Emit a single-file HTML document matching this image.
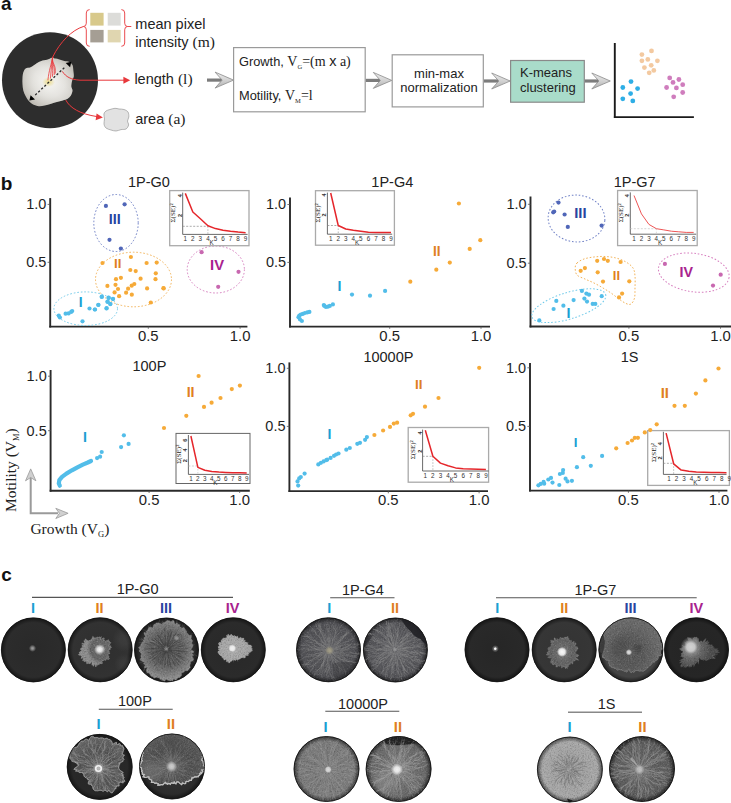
<!DOCTYPE html>
<html><head><meta charset="utf-8"><style>html,body{margin:0;padding:0;background:#fff;}svg{display:block;}</style></head>
<body><svg width="731" height="803" viewBox="0 0 731 803"><defs><filter id="grainL" x="0" y="0" width="1" height="1" filterUnits="objectBoundingBox"><feTurbulence type="fractalNoise" baseFrequency="0.7" numOctaves="2" seed="4"/><feColorMatrix type="matrix" values="0 0 0 0 1  0 0 0 0 1  0 0 0 0 1  2.2 0 0 0 -1.1"/></filter>
<filter id="grainD" x="0" y="0" width="1" height="1" filterUnits="objectBoundingBox"><feTurbulence type="fractalNoise" baseFrequency="0.7" numOctaves="2" seed="9"/><feColorMatrix type="matrix" values="0 0 0 0 0  0 0 0 0 0  0 0 0 0 0  2.2 0 0 0 -1.1"/></filter>
<linearGradient id="gArr" x1="0" y1="0" x2="0" y2="1"><stop offset="0" stop-color="#eeeeee"/><stop offset="0.5" stop-color="#d2d2d2"/><stop offset="1" stop-color="#b0b0b0"/></linearGradient>
<radialGradient id="gBlob" cx="0.52" cy="0.5" r="0.62"><stop offset="0" stop-color="#f0efea"/><stop offset="0.5" stop-color="#d8d6d0"/><stop offset="1" stop-color="#aeaaa1"/></radialGradient>
<linearGradient id="gBlob2" x1="0" y1="1" x2="1" y2="0"><stop offset="0" stop-color="#fff" stop-opacity="0"/><stop offset="0.45" stop-color="#fff" stop-opacity="0.35"/><stop offset="0.6" stop-color="#fff" stop-opacity="0.35"/><stop offset="1" stop-color="#fff" stop-opacity="0"/></linearGradient>
<radialGradient id="gYel"><stop offset="0" stop-color="#e9d77a" stop-opacity="0.9"/><stop offset="1" stop-color="#e9d77a" stop-opacity="0"/></radialGradient>
<clipPath id="cp1"><circle cx="33.4" cy="649.9" r="32.3"/></clipPath>
<radialGradient id="pd1" cx="33.4" cy="649.9" r="32.5" gradientUnits="userSpaceOnUse"><stop offset="0" stop-color="#292929"/><stop offset="0.84" stop-color="#2c2c2c"/><stop offset="1" stop-color="#141414"/></radialGradient>
<radialGradient id="ps1_1"><stop offset="0" stop-color="#b0b0b0" stop-opacity="0.85"/><stop offset="0.3" stop-color="#b0b0b0" stop-opacity="0.7224999999999999"/><stop offset="1" stop-color="#b0b0b0" stop-opacity="0"/></radialGradient>
<clipPath id="cp2"><circle cx="100.2" cy="649.8" r="32.3"/></clipPath>
<radialGradient id="pd2" cx="100.2" cy="649.8" r="32.5" gradientUnits="userSpaceOnUse"><stop offset="0" stop-color="#2e2e2e"/><stop offset="0.84" stop-color="#323232"/><stop offset="1" stop-color="#161616"/></radialGradient>
<radialGradient id="ps2_1"><stop offset="0" stop-color="#484848" stop-opacity="0.45"/><stop offset="0.4" stop-color="#484848" stop-opacity="0.3825"/><stop offset="1" stop-color="#484848" stop-opacity="0"/></radialGradient>
<radialGradient id="ps2_2"><stop offset="0" stop-color="#484848" stop-opacity="0.4"/><stop offset="0.4" stop-color="#484848" stop-opacity="0.34"/><stop offset="1" stop-color="#484848" stop-opacity="0"/></radialGradient>
<radialGradient id="cg2_3" cx="102.2" cy="648.8" r="16" gradientUnits="userSpaceOnUse"><stop offset="0" stop-color="#9a9a9a"/><stop offset="0.25" stop-color="#6a6a6a"/><stop offset="0.7" stop-color="#646464"/><stop offset="1" stop-color="#8c8c8c"/></radialGradient>
<clipPath id="cc2_3"><path d="M89.1,641.5 L89.0,640.4 L89.5,640.5 L90.0,640.7 L90.2,640.2 L90.6,640.0 L91.1,640.3 L91.3,639.4 L91.7,639.1 L92.1,638.5 L92.4,637.5 L92.8,636.4 L93.4,636.9 L93.9,637.3 L94.4,638.1 L94.9,637.9 L95.4,637.7 L95.8,638.5 L96.2,638.6 L96.8,637.2 L97.4,636.9 L97.7,637.5 L98.1,638.0 L98.8,637.1 L99.4,636.8 L99.7,637.5 L100.2,637.7 L101.2,636.6 L101.1,638.0 L100.7,639.7 L101.3,639.6 L102.2,638.7 L103.2,638.0 L103.8,638.0 L104.3,638.1 L103.6,639.8 L103.4,640.6 L104.4,640.1 L104.7,640.2 L104.7,640.8 L104.9,641.1 L105.3,641.2 L106.0,641.0 L107.5,640.3 L108.7,639.8 L108.8,640.3 L108.3,641.2 L108.6,641.5 L109.5,641.5 L109.3,642.1 L110.1,642.1 L110.1,642.7 L110.9,642.7 L109.9,643.8 L109.9,644.3 L108.8,645.2 L108.6,645.7 L109.5,645.8 L110.6,645.8 L110.0,646.4 L110.7,646.6 L111.2,647.0 L111.6,647.3 L110.6,648.0 L109.1,648.7 L110.4,648.9 L110.2,649.4 L109.1,650.0 L107.6,650.5 L108.8,650.9 L109.2,651.3 L109.1,651.8 L108.6,652.2 L109.4,652.7 L110.1,653.3 L109.4,653.7 L108.4,654.0 L107.9,654.4 L108.1,654.9 L108.0,655.3 L108.7,656.0 L109.0,656.6 L107.8,656.6 L108.0,657.2 L109.5,658.4 L109.0,658.8 L108.9,659.3 L107.5,659.2 L106.0,658.9 L105.6,659.2 L106.1,660.1 L105.5,660.3 L104.4,660.0 L103.9,660.1 L103.6,660.5 L103.2,660.7 L102.7,660.8 L102.4,661.1 L102.1,661.3 L101.9,661.7 L102.5,663.3 L102.0,663.3 L101.6,663.4 L101.3,663.8 L100.7,663.5 L100.4,664.0 L99.4,662.7 L99.3,663.7 L99.2,664.5 L98.7,664.6 L98.2,664.2 L97.7,664.0 L97.4,664.8 L97.1,665.5 L96.5,664.4 L96.2,665.5 L95.9,667.0 L95.4,665.6 L94.9,664.2 L94.5,663.6 L94.2,665.1 L93.8,665.1 L93.4,666.2 L93.1,666.2 L92.9,664.5 L92.6,664.5 L92.1,665.2 L91.9,664.9 L92.0,663.0 L91.9,662.1 L91.7,661.7 L91.5,661.6 L90.9,662.8 L90.4,663.2 L89.9,663.8 L89.6,663.7 L89.3,663.5 L89.0,663.5 L88.7,663.2 L88.2,663.5 L87.8,663.6 L87.3,663.6 L86.8,663.8 L86.6,663.3 L86.5,662.7 L87.3,661.1 L86.5,661.6 L85.8,661.8 L85.9,661.1 L85.5,661.0 L84.3,661.7 L84.0,661.4 L84.0,660.9 L84.6,660.0 L83.5,660.4 L82.6,660.6 L82.6,660.2 L83.5,659.1 L83.3,658.8 L82.8,658.8 L83.9,657.8 L83.6,657.6 L82.4,658.0 L80.9,658.4 L81.7,657.7 L81.1,657.5 L82.7,656.5 L82.3,656.4 L81.6,656.3 L81.3,656.1 L80.9,655.9 L81.7,655.4 L80.9,655.3 L79.8,655.2 L78.7,655.1 L78.5,654.8 L78.5,654.4 L79.6,653.9 L80.0,653.5 L79.4,653.2 L79.8,652.8 L79.1,652.5 L79.3,652.2 L80.1,651.8 L80.5,651.5 L80.8,651.1 L81.9,650.8 L82.6,650.6 L81.0,650.1 L80.6,649.7 L80.5,649.3 L80.9,649.0 L80.6,648.5 L81.0,648.2 L81.6,648.0 L82.3,647.8 L82.1,647.4 L81.8,646.9 L82.1,646.6 L83.3,646.7 L83.0,646.2 L81.7,645.1 L83.0,645.3 L83.6,645.2 L82.8,644.3 L81.8,643.1 L82.7,643.2 L83.8,643.4 L84.7,643.6 L84.7,643.0 L84.6,642.4 L83.9,641.0 L84.0,640.4 L85.4,641.3 L85.4,640.5 L85.0,639.1 L85.6,639.1 L86.9,640.2 L87.8,640.7 L88.3,640.8Z"/></clipPath>
<radialGradient id="ps2_4"><stop offset="0" stop-color="#f2f2f2" stop-opacity="1"/><stop offset="0.4" stop-color="#f2f2f2" stop-opacity="0.85"/><stop offset="1" stop-color="#f2f2f2" stop-opacity="0"/></radialGradient>
<clipPath id="cp3"><circle cx="166.5" cy="650" r="32.3"/></clipPath>
<radialGradient id="pd3" cx="166.5" cy="650" r="32.5" gradientUnits="userSpaceOnUse"><stop offset="0" stop-color="#2c2c2c"/><stop offset="0.84" stop-color="#2e2e2e"/><stop offset="1" stop-color="#161616"/></radialGradient>
<radialGradient id="cg3_1" cx="166.5" cy="649" r="29" gradientUnits="userSpaceOnUse"><stop offset="0" stop-color="#909090"/><stop offset="0.1" stop-color="#5c5c5c"/><stop offset="0.5" stop-color="#585858"/><stop offset="0.8" stop-color="#747474"/><stop offset="1" stop-color="#8c8c8c"/></radialGradient>
<clipPath id="cc3_1"><path d="M193.1,651.0 L193.9,651.9 L193.1,652.7 L191.1,653.3 L192.6,654.3 L193.6,655.3 L191.8,655.9 L192.3,656.8 L193.1,657.9 L193.3,658.8 L193.5,659.8 L193.0,660.5 L192.1,661.1 L190.7,661.4 L190.2,662.1 L190.5,663.1 L190.3,664.0 L189.9,664.7 L189.7,665.5 L190.0,666.7 L190.2,667.9 L189.2,668.2 L188.8,668.9 L188.4,669.7 L188.0,670.4 L187.1,670.7 L185.8,670.5 L184.9,670.7 L184.3,671.2 L184.0,672.0 L183.2,672.2 L182.4,672.4 L181.9,673.0 L181.4,673.5 L181.3,674.8 L181.2,676.1 L180.4,676.3 L180.1,677.3 L179.2,677.5 L178.4,677.5 L177.8,678.1 L177.2,678.5 L176.7,679.6 L176.3,680.9 L175.2,680.2 L174.1,678.8 L173.4,679.0 L172.9,680.4 L172.3,681.3 L171.3,680.1 L170.6,680.9 L169.8,680.8 L169.1,680.5 L168.3,680.3 L167.5,680.1 L166.8,679.6 L166.1,679.1 L165.3,680.2 L164.5,681.5 L163.8,680.6 L163.0,680.4 L162.3,680.2 L161.7,679.3 L161.0,678.9 L160.1,679.6 L159.7,678.1 L159.1,677.7 L158.3,677.7 L157.6,677.5 L156.9,677.2 L156.1,677.2 L155.0,677.8 L154.1,678.0 L153.5,677.4 L153.1,676.5 L152.1,676.6 L151.4,676.2 L150.8,675.7 L150.4,674.9 L150.0,674.1 L149.3,673.6 L148.9,672.8 L147.8,673.0 L147.1,672.5 L146.8,671.6 L146.3,670.9 L146.6,669.5 L147.6,667.6 L147.2,667.0 L145.0,667.7 L144.2,667.3 L145.2,665.6 L145.4,664.6 L144.3,664.3 L143.5,663.8 L145.0,662.2 L143.4,662.1 L142.8,661.5 L142.1,660.9 L140.8,660.5 L140.2,659.8 L140.6,658.7 L141.4,657.6 L140.9,656.9 L141.1,656.0 L140.9,655.2 L141.6,654.2 L141.3,653.5 L140.7,652.7 L139.9,651.9 L139.1,651.0 L139.7,650.1 L139.9,649.3 L139.2,648.3 L138.6,647.4 L139.9,646.7 L140.7,645.9 L140.7,645.1 L141.1,644.3 L141.6,643.6 L141.9,642.8 L143.0,642.3 L143.2,641.6 L143.6,640.9 L143.5,639.9 L144.1,639.4 L144.0,638.4 L144.2,637.6 L145.1,637.3 L145.4,636.5 L144.8,635.1 L144.2,633.7 L144.1,632.5 L145.9,632.9 L147.0,632.8 L146.4,631.1 L147.1,630.7 L147.8,630.3 L148.0,629.3 L148.4,628.5 L148.8,627.6 L149.6,627.5 L150.6,627.4 L151.5,627.4 L152.7,627.9 L153.2,627.3 L153.4,626.0 L153.7,624.9 L154.2,624.3 L155.1,624.4 L155.7,623.7 L156.2,623.0 L157.1,622.9 L157.9,623.1 L158.7,622.9 L159.6,623.4 L160.4,623.6 L161.3,624.6 L162.0,624.2 L162.6,623.5 L163.2,622.6 L163.9,622.9 L164.6,622.3 L165.3,622.0 L166.0,621.4 L166.8,621.1 L167.6,620.2 L168.3,620.8 L169.1,620.8 L169.9,621.0 L170.5,622.0 L171.4,621.4 L172.3,620.7 L173.1,620.6 L173.9,620.9 L174.3,622.4 L174.6,624.0 L175.2,624.5 L176.5,623.0 L177.3,623.1 L177.6,624.4 L178.4,624.6 L179.3,624.5 L179.8,625.2 L179.4,627.5 L180.4,627.3 L181.1,627.6 L181.6,628.1 L182.5,628.1 L183.9,627.5 L184.5,628.1 L184.3,629.6 L185.4,629.6 L185.4,630.8 L186.3,630.9 L186.5,631.8 L186.3,633.2 L186.9,633.6 L187.9,633.8 L188.3,634.5 L188.7,635.2 L189.7,635.5 L191.4,635.4 L191.3,636.5 L191.2,637.5 L191.0,638.6 L191.4,639.4 L191.9,640.0 L192.6,640.7 L192.1,641.8 L191.5,642.9 L191.5,643.7 L192.4,644.3 L192.7,645.1 L192.7,646.0 L192.6,646.8 L192.1,647.7 L191.6,648.6 L191.0,649.4 L191.5,650.2Z"/></clipPath>
<radialGradient id="ps3_4"><stop offset="0" stop-color="#b0b0b0" stop-opacity="0.7"/><stop offset="0.4" stop-color="#b0b0b0" stop-opacity="0.595"/><stop offset="1" stop-color="#b0b0b0" stop-opacity="0"/></radialGradient>
<clipPath id="cp4"><circle cx="233.3" cy="649.8" r="32.3"/></clipPath>
<radialGradient id="pd4" cx="233.3" cy="649.8" r="32.5" gradientUnits="userSpaceOnUse"><stop offset="0" stop-color="#282828"/><stop offset="0.84" stop-color="#2b2b2b"/><stop offset="1" stop-color="#141414"/></radialGradient>
<radialGradient id="cg4_1" cx="232.3" cy="648.8" r="18" gradientUnits="userSpaceOnUse"><stop offset="0" stop-color="#d4d4d4"/><stop offset="0.3" stop-color="#b0b0b0"/><stop offset="1" stop-color="#a0a0a0"/></radialGradient>
<clipPath id="cc4_1"><path d="M222.4,638.7 L223.0,638.7 L223.4,638.6 L223.3,637.9 L224.1,638.2 L224.4,638.1 L225.1,638.3 L225.8,638.6 L225.6,637.8 L226.2,638.0 L226.2,637.5 L226.8,637.8 L227.0,637.5 L226.7,636.3 L226.6,635.3 L227.0,635.3 L227.6,635.7 L228.2,636.0 L227.8,634.3 L228.2,634.1 L228.9,634.9 L229.6,635.9 L229.8,635.4 L230.2,635.3 L230.5,635.2 L230.8,634.8 L231.0,634.0 L231.5,634.5 L231.9,635.0 L232.3,635.3 L232.7,635.7 L233.1,636.0 L233.5,635.9 L233.8,635.8 L234.2,635.8 L234.6,635.6 L235.0,635.9 L235.3,636.3 L235.8,636.1 L236.1,636.7 L236.5,636.8 L236.9,636.8 L237.5,636.1 L237.8,636.8 L238.0,637.5 L238.3,637.9 L238.5,638.4 L238.9,638.5 L239.8,637.7 L240.5,637.4 L241.1,637.4 L241.0,638.3 L241.7,638.2 L241.9,638.6 L243.1,638.0 L243.5,638.3 L244.0,638.5 L243.8,639.4 L243.2,640.6 L244.2,640.4 L245.3,640.2 L244.9,641.1 L244.4,642.0 L245.2,642.0 L246.3,642.0 L246.4,642.5 L247.0,642.8 L248.2,642.8 L247.8,643.4 L247.5,644.0 L247.8,644.3 L248.1,644.7 L248.8,644.9 L249.8,645.1 L250.9,645.3 L251.0,645.7 L251.8,646.0 L252.1,646.3 L251.3,646.8 L250.9,647.1 L251.5,647.4 L251.1,647.7 L251.5,648.0 L252.4,648.3 L252.1,648.6 L251.3,648.9 L251.8,649.2 L252.0,649.5 L252.3,649.8 L252.1,650.1 L252.4,650.5 L252.0,650.7 L252.2,651.1 L251.3,651.3 L251.0,651.6 L250.6,651.8 L250.5,652.1 L250.1,652.4 L249.0,652.4 L247.7,652.4 L247.4,652.6 L248.7,653.3 L249.3,653.9 L248.2,653.9 L247.4,653.9 L248.4,654.8 L248.4,655.2 L247.9,655.4 L247.3,655.5 L246.6,655.6 L245.8,655.6 L245.4,655.9 L245.3,656.4 L245.5,657.2 L245.1,657.5 L244.7,658.0 L243.6,657.8 L242.5,657.6 L242.1,658.0 L241.0,657.7 L240.6,658.1 L240.3,658.9 L239.6,659.0 L239.1,659.3 L238.3,659.3 L238.0,660.1 L237.2,660.0 L236.4,659.3 L235.9,659.9 L235.5,660.5 L234.8,659.9 L234.3,659.9 L233.9,660.4 L233.4,660.0 L233.0,660.0 L232.6,660.1 L232.2,660.5 L231.8,660.9 L231.3,661.4 L231.0,661.2 L230.7,661.3 L230.3,661.8 L229.7,662.8 L229.3,662.8 L228.9,663.1 L229.2,661.5 L228.8,661.8 L228.2,662.6 L228.0,662.6 L228.4,660.9 L227.9,661.5 L227.6,661.5 L227.5,661.2 L227.2,661.3 L226.7,661.7 L226.5,661.4 L226.3,661.3 L226.5,660.5 L226.4,660.1 L226.4,659.6 L225.8,659.9 L225.7,659.6 L225.3,659.6 L224.6,659.9 L223.9,660.1 L223.9,659.5 L224.0,658.7 L223.4,658.8 L223.2,658.3 L223.2,657.7 L222.5,657.7 L221.9,657.5 L222.0,656.8 L221.8,656.3 L221.2,656.1 L220.9,655.7 L220.3,655.4 L219.9,655.0 L219.3,654.7 L219.1,654.2 L218.8,653.7 L218.4,653.3 L218.4,652.8 L217.8,652.4 L217.9,651.9 L218.1,651.3 L219.7,650.6 L219.8,650.2 L219.1,649.9 L218.1,649.6 L219.3,649.2 L220.2,648.8 L219.3,648.4 L218.0,648.0 L218.5,647.6 L218.2,647.1 L218.2,646.7 L218.5,646.3 L219.9,646.0 L219.4,645.5 L218.9,645.0 L218.8,644.4 L218.5,643.9 L218.5,643.3 L218.9,643.0 L219.1,642.5 L220.3,642.5 L221.2,642.4 L221.1,641.8 L221.0,641.3 L221.4,641.0 L221.2,640.4 L221.5,640.0 L221.7,639.7 L222.3,639.6 L222.6,639.3Z"/></clipPath>
<radialGradient id="ps4_3"><stop offset="0" stop-color="#f0f0f0" stop-opacity="1"/><stop offset="0.6" stop-color="#f0f0f0" stop-opacity="0.85"/><stop offset="1" stop-color="#f0f0f0" stop-opacity="0"/></radialGradient>
<clipPath id="cp5"><circle cx="328.5" cy="649.8" r="32.3"/></clipPath>
<radialGradient id="pd5" cx="328.5" cy="649.8" r="32.5" gradientUnits="userSpaceOnUse"><stop offset="0" stop-color="#5a5a5e"/><stop offset="0.84" stop-color="#505054"/><stop offset="1" stop-color="#1c1c1e"/></radialGradient>
<radialGradient id="ps5_4"><stop offset="0" stop-color="#aaa48a" stop-opacity="0.9"/><stop offset="0.4" stop-color="#aaa48a" stop-opacity="0.765"/><stop offset="1" stop-color="#aaa48a" stop-opacity="0"/></radialGradient>
<clipPath id="cp6"><circle cx="395.4" cy="650" r="32.3"/></clipPath>
<radialGradient id="pd6" cx="395.4" cy="650" r="32.5" gradientUnits="userSpaceOnUse"><stop offset="0" stop-color="#5e5e62"/><stop offset="0.84" stop-color="#545458"/><stop offset="1" stop-color="#1c1c1e"/></radialGradient>
<radialGradient id="ps6_5"><stop offset="0" stop-color="#b0b0b0" stop-opacity="0.7"/><stop offset="0.4" stop-color="#b0b0b0" stop-opacity="0.595"/><stop offset="1" stop-color="#b0b0b0" stop-opacity="0"/></radialGradient>
<clipPath id="cp7"><circle cx="497" cy="649.8" r="32.3"/></clipPath>
<radialGradient id="pd7" cx="497" cy="649.8" r="32.5" gradientUnits="userSpaceOnUse"><stop offset="0" stop-color="#262626"/><stop offset="0.84" stop-color="#292929"/><stop offset="1" stop-color="#121212"/></radialGradient>
<radialGradient id="ps7_1"><stop offset="0" stop-color="#9a9a9a" stop-opacity="0.8"/><stop offset="0.4" stop-color="#9a9a9a" stop-opacity="0.68"/><stop offset="1" stop-color="#9a9a9a" stop-opacity="0"/></radialGradient>
<radialGradient id="ps7_2"><stop offset="0" stop-color="#ffffff" stop-opacity="1"/><stop offset="0.6" stop-color="#ffffff" stop-opacity="0.85"/><stop offset="1" stop-color="#ffffff" stop-opacity="0"/></radialGradient>
<clipPath id="cp8"><circle cx="564.2" cy="649.8" r="32.3"/></clipPath>
<radialGradient id="pd8" cx="564.2" cy="649.8" r="32.5" gradientUnits="userSpaceOnUse"><stop offset="0" stop-color="#333333"/><stop offset="0.84" stop-color="#363636"/><stop offset="1" stop-color="#181818"/></radialGradient>
<radialGradient id="cg8_1" cx="562.7" cy="652.3" r="16" gradientUnits="userSpaceOnUse"><stop offset="0" stop-color="#9a9a9a"/><stop offset="0.35" stop-color="#6e6e6e"/><stop offset="0.75" stop-color="#606060"/><stop offset="1" stop-color="#747474"/></radialGradient>
<clipPath id="cc8_1"><path d="M575.5,652.3 L574.0,652.6 L574.9,653.0 L575.7,653.4 L576.3,653.9 L577.0,654.4 L578.7,655.1 L578.8,655.6 L577.3,655.8 L577.6,656.3 L578.1,656.9 L576.1,656.7 L575.9,657.1 L575.2,657.3 L577.0,658.5 L578.2,659.5 L578.7,660.3 L576.6,659.8 L574.8,659.3 L574.6,659.6 L575.3,660.5 L575.0,660.9 L574.0,660.7 L574.1,661.2 L573.0,660.9 L572.7,661.1 L573.0,662.0 L572.9,662.4 L572.9,663.1 L573.0,663.7 L572.5,663.9 L571.4,663.1 L570.8,663.0 L570.5,663.3 L570.2,663.5 L570.3,664.4 L569.5,663.8 L569.5,664.6 L569.0,664.5 L568.8,665.0 L568.3,664.9 L568.5,666.4 L568.2,666.7 L567.6,666.3 L567.3,666.6 L567.4,668.6 L566.8,668.1 L566.2,667.8 L565.9,668.6 L565.5,668.6 L564.8,667.0 L564.3,666.9 L563.9,667.0 L563.5,667.0 L563.1,666.2 L562.7,666.2 L562.3,667.7 L561.8,668.1 L561.4,667.8 L561.1,666.2 L561.1,663.3 L560.6,664.9 L559.9,666.3 L559.5,666.4 L559.3,665.5 L558.8,665.7 L558.3,666.1 L557.7,666.6 L557.1,667.1 L556.7,666.7 L556.0,667.3 L555.9,666.4 L556.1,665.1 L555.9,664.6 L555.4,664.7 L555.2,664.2 L554.9,663.9 L553.9,664.7 L553.1,665.0 L552.9,664.5 L552.4,664.4 L552.3,663.9 L552.1,663.4 L551.7,663.2 L551.5,662.8 L550.5,663.1 L551.3,661.8 L551.3,661.3 L550.3,661.5 L551.2,660.3 L552.3,659.1 L550.9,659.6 L551.8,658.6 L552.6,657.8 L551.7,657.8 L550.2,658.1 L549.2,658.1 L549.8,657.4 L548.5,657.5 L547.6,657.3 L549.2,656.4 L549.9,655.7 L550.5,655.2 L548.6,655.2 L546.6,655.1 L546.1,654.7 L547.5,654.1 L547.7,653.6 L547.1,653.2 L546.9,652.8 L547.2,652.3 L548.5,651.9 L547.8,651.4 L548.7,651.1 L548.7,650.7 L548.7,650.2 L548.8,649.8 L547.8,649.2 L547.9,648.8 L548.0,648.4 L548.3,648.0 L548.4,647.6 L549.5,647.5 L550.0,647.2 L549.8,646.7 L551.2,647.0 L551.0,646.4 L550.7,645.8 L551.1,645.6 L552.4,645.9 L551.1,644.7 L550.8,644.0 L552.1,644.4 L552.2,644.0 L550.6,642.2 L550.7,641.7 L551.6,641.9 L550.7,640.4 L550.9,639.9 L552.4,640.9 L552.6,640.3 L553.4,640.7 L554.1,640.9 L554.1,640.2 L554.4,639.9 L554.2,638.8 L554.2,637.9 L554.7,637.8 L556.0,639.4 L557.7,641.9 L557.1,639.7 L557.0,638.5 L557.7,639.2 L558.3,639.7 L558.6,639.5 L559.0,639.5 L559.4,639.4 L559.6,638.8 L559.9,638.1 L560.2,637.3 L560.6,637.7 L561.0,637.5 L561.5,638.1 L561.9,638.2 L562.3,637.8 L562.7,638.0 L563.1,638.7 L563.5,638.8 L563.9,637.7 L564.4,637.0 L564.8,637.3 L565.3,637.1 L565.6,637.6 L566.2,636.9 L566.6,637.2 L566.9,637.6 L567.8,636.3 L568.0,637.1 L568.2,637.9 L568.2,639.1 L568.9,638.4 L568.9,639.5 L568.6,640.9 L569.2,640.5 L570.0,639.9 L569.9,640.9 L570.5,640.7 L571.3,640.2 L571.4,640.7 L571.5,641.3 L571.4,642.1 L570.5,643.6 L571.7,642.8 L573.6,641.5 L574.2,641.5 L574.2,642.1 L573.7,643.2 L574.4,643.1 L575.5,642.8 L575.6,643.3 L576.1,643.5 L576.3,643.9 L575.5,644.9 L575.1,645.6 L574.8,646.2 L575.4,646.4 L575.7,646.7 L576.9,646.7 L577.6,646.9 L577.3,647.5 L577.6,647.8 L578.0,648.2 L578.0,648.7 L577.6,649.2 L576.5,649.9 L576.8,650.2 L577.1,650.6 L576.0,651.1 L575.8,651.5 L576.3,651.9Z"/></clipPath>
<radialGradient id="ps8_2"><stop offset="0" stop-color="#f8f8f8" stop-opacity="1"/><stop offset="0.6" stop-color="#f8f8f8" stop-opacity="0.85"/><stop offset="1" stop-color="#f8f8f8" stop-opacity="0"/></radialGradient>
<clipPath id="cp9"><circle cx="630.9" cy="649.8" r="32.3"/></clipPath>
<radialGradient id="pd9" cx="630.9" cy="649.8" r="32.5" gradientUnits="userSpaceOnUse"><stop offset="0" stop-color="#444444"/><stop offset="0.84" stop-color="#444444"/><stop offset="1" stop-color="#1c1c1c"/></radialGradient>
<radialGradient id="cg9_1" cx="627.9" cy="652.8" r="30" gradientUnits="userSpaceOnUse"><stop offset="0" stop-color="#505050"/><stop offset="0.5" stop-color="#5a5a5a"/><stop offset="1" stop-color="#6a6a6a"/></radialGradient>
<clipPath id="cc9_1"><path d="M662.7,644.8 L661.9,645.6 L662.4,646.4 L662.6,647.2 L662.7,648.0 L663.3,648.9 L661.7,649.4 L661.0,650.1 L660.7,650.8 L660.4,651.6 L660.5,652.4 L659.9,653.0 L661.2,654.2 L661.5,655.2 L660.6,655.7 L658.7,655.9 L658.1,656.4 L658.3,657.4 L658.4,658.3 L657.6,658.8 L657.5,659.7 L656.7,660.2 L655.6,660.4 L655.0,661.0 L654.8,661.8 L654.2,662.4 L652.2,661.8 L652.1,662.7 L652.1,663.8 L651.4,664.2 L650.8,664.8 L650.4,665.5 L649.5,665.9 L648.7,666.1 L648.1,666.7 L648.0,667.9 L646.9,667.9 L646.2,668.5 L645.9,669.6 L645.3,670.2 L644.4,670.6 L643.7,671.1 L642.8,671.3 L641.6,671.0 L640.7,671.1 L639.8,671.2 L638.8,670.9 L637.8,670.5 L636.9,670.7 L635.9,670.0 L635.2,670.9 L634.5,671.9 L633.6,672.5 L632.6,671.4 L631.8,672.5 L630.9,672.7 L630.0,671.4 L629.3,669.5 L628.5,669.4 L627.4,671.6 L626.4,672.2 L625.7,671.1 L624.7,671.4 L623.9,671.1 L623.1,670.5 L622.3,670.4 L621.5,669.9 L620.6,669.9 L619.9,669.4 L618.8,669.7 L617.6,670.2 L616.8,669.7 L616.3,668.9 L615.5,668.5 L614.5,668.5 L614.0,667.8 L612.9,667.7 L611.9,667.6 L611.1,667.1 L611.1,665.9 L609.7,666.1 L609.5,665.1 L609.4,664.0 L608.7,663.5 L608.5,662.7 L608.8,661.5 L608.9,660.4 L607.7,660.4 L606.5,660.2 L605.7,659.8 L605.3,659.1 L604.9,658.4 L604.2,657.9 L602.9,657.7 L602.2,657.1 L602.6,656.0 L602.0,655.4 L601.7,654.7 L602.4,653.6 L602.4,652.9 L601.4,652.3 L600.2,651.8 L599.5,651.2 L599.3,650.4 L600.8,649.3 L600.4,648.6 L599.5,647.9 L599.8,647.1 L599.2,646.4 L599.2,645.6 L599.4,644.8 L600.1,644.0 L599.5,643.2 L599.4,642.4 L599.9,641.7 L600.8,641.0 L600.6,640.2 L600.7,639.5 L601.4,638.8 L601.3,638.0 L601.3,637.2 L602.4,636.7 L603.1,636.2 L603.4,635.5 L603.2,634.6 L604.1,634.1 L603.9,633.2 L603.8,632.3 L603.9,631.5 L603.6,630.5 L603.2,629.3 L604.5,629.1 L605.4,628.7 L606.0,628.0 L606.4,627.3 L606.5,626.4 L607.5,626.1 L608.8,626.1 L609.8,625.9 L610.2,625.2 L611.0,624.8 L611.5,624.1 L611.9,623.3 L611.8,622.0 L612.5,621.3 L613.7,621.5 L615.5,622.5 L616.6,622.7 L616.5,621.1 L616.9,620.0 L618.1,620.4 L619.1,620.4 L620.0,620.3 L620.6,619.6 L621.5,619.7 L622.1,618.7 L623.0,618.8 L624.1,619.3 L625.0,619.4 L625.5,617.7 L626.5,617.9 L627.4,618.4 L628.2,617.5 L629.1,617.8 L630.0,618.3 L630.9,617.0 L631.8,617.2 L632.7,617.1 L633.6,617.0 L634.6,616.4 L635.5,616.7 L636.4,616.9 L637.3,617.5 L638.1,618.0 L638.8,618.8 L639.5,619.4 L640.1,620.2 L641.0,620.2 L642.0,620.0 L642.6,620.7 L643.1,621.5 L644.2,621.2 L645.6,620.6 L646.2,621.1 L646.8,621.9 L647.6,622.1 L648.9,621.9 L648.5,623.7 L648.6,624.9 L649.8,624.7 L651.5,624.1 L652.5,624.3 L652.9,625.1 L653.3,625.8 L653.8,626.5 L654.3,627.2 L654.3,628.1 L655.5,628.3 L656.3,628.7 L657.1,629.2 L657.2,630.1 L658.5,630.3 L658.6,631.2 L659.0,631.9 L658.5,633.0 L659.4,633.5 L659.9,634.1 L659.9,635.0 L660.4,635.6 L661.3,636.2 L660.5,637.2 L660.7,638.0 L660.6,638.8 L660.4,639.6 L659.9,640.4 L659.3,641.2 L660.5,641.8 L659.9,642.6 L661.6,643.3 L662.2,644.0Z"/></clipPath>
<radialGradient id="ps9_2"><stop offset="0" stop-color="#454545" stop-opacity="0.5"/><stop offset="0.4" stop-color="#454545" stop-opacity="0.425"/><stop offset="1" stop-color="#454545" stop-opacity="0"/></radialGradient>
<radialGradient id="ps9_3"><stop offset="0" stop-color="#3a3a3a" stop-opacity="0.6"/><stop offset="0.4" stop-color="#3a3a3a" stop-opacity="0.51"/><stop offset="1" stop-color="#3a3a3a" stop-opacity="0"/></radialGradient>
<radialGradient id="ps9_6"><stop offset="0" stop-color="#e8e8e8" stop-opacity="0.95"/><stop offset="0.5" stop-color="#e8e8e8" stop-opacity="0.8075"/><stop offset="1" stop-color="#e8e8e8" stop-opacity="0"/></radialGradient>
<clipPath id="cp10"><circle cx="696.5" cy="649.8" r="32.3"/></clipPath>
<radialGradient id="pd10" cx="696.5" cy="649.8" r="32.5" gradientUnits="userSpaceOnUse"><stop offset="0" stop-color="#242424"/><stop offset="0.84" stop-color="#262626"/><stop offset="1" stop-color="#121212"/></radialGradient>
<radialGradient id="cg10_1" cx="690.5" cy="647.8" r="20" gradientUnits="userSpaceOnUse"><stop offset="0" stop-color="#8a8a8a"/><stop offset="0.5" stop-color="#6a6a6a"/><stop offset="1" stop-color="#4e4e4e"/></radialGradient>
<clipPath id="cc10_1"><path d="M686.8,641.2 L687.4,641.0 L687.9,640.8 L688.3,640.5 L687.4,638.2 L687.5,637.2 L688.5,637.6 L689.3,637.7 L690.1,637.8 L691.2,638.5 L692.1,639.2 L692.9,639.8 L692.7,637.7 L693.4,637.7 L693.8,637.4 L694.3,637.0 L694.9,636.8 L695.5,637.2 L696.1,637.1 L696.6,636.8 L697.2,637.3 L697.8,638.5 L698.4,637.9 L698.8,639.5 L699.0,642.0 L699.5,641.7 L700.3,640.2 L700.4,641.6 L700.9,641.5 L701.7,640.5 L702.0,641.2 L702.0,642.3 L703.1,640.9 L704.2,639.7 L705.2,638.8 L706.1,638.2 L706.3,638.8 L705.5,640.9 L705.2,642.1 L706.1,641.6 L707.7,640.3 L708.0,640.7 L708.4,640.9 L707.7,642.4 L709.0,641.7 L709.5,641.9 L708.7,643.2 L707.7,644.6 L708.8,644.3 L709.9,644.0 L709.5,644.8 L710.2,644.8 L711.6,644.4 L712.4,644.5 L712.3,645.0 L712.1,645.6 L713.2,645.5 L712.9,646.1 L712.9,646.5 L713.8,646.6 L714.2,646.9 L714.6,647.2 L713.9,647.9 L713.9,648.3 L714.2,648.6 L716.4,648.6 L718.4,648.7 L718.0,649.2 L716.5,650.0 L718.0,650.2 L719.1,650.6 L717.9,651.2 L717.9,651.6 L719.5,652.0 L720.2,652.4 L717.5,652.8 L718.3,653.2 L715.9,653.5 L714.2,653.7 L715.9,654.2 L718.4,654.8 L717.7,655.1 L715.8,655.2 L713.9,655.3 L715.5,655.9 L716.0,656.4 L714.1,656.3 L712.5,656.3 L713.4,656.8 L715.1,657.6 L715.5,658.1 L715.3,658.4 L715.0,658.7 L714.6,658.9 L713.3,658.8 L712.3,658.7 L711.7,658.8 L710.7,658.8 L710.5,659.0 L709.4,658.8 L709.1,659.1 L709.8,660.0 L708.5,659.7 L707.6,659.6 L708.3,660.6 L707.1,660.3 L706.8,660.7 L706.5,661.0 L705.2,660.5 L703.5,659.3 L703.8,660.4 L703.2,660.6 L701.8,659.4 L701.6,659.8 L701.2,660.1 L700.1,658.9 L699.2,657.3 L699.2,658.3 L699.2,660.1 L699.0,661.5 L698.7,663.7 L698.1,664.5 L697.6,661.7 L697.2,661.7 L696.8,662.6 L696.4,663.0 L695.8,664.0 L695.6,663.7 L695.0,664.6 L694.3,666.3 L693.6,667.4 L693.6,666.2 L693.7,664.9 L693.3,665.4 L692.9,665.6 L692.9,664.8 L692.6,664.9 L691.3,667.1 L690.8,667.5 L691.0,666.5 L690.5,666.9 L689.8,667.6 L689.7,667.2 L689.3,667.5 L689.4,666.7 L688.9,667.1 L688.4,667.4 L688.6,666.6 L688.3,666.4 L688.8,665.2 L687.5,666.4 L686.0,667.8 L685.2,668.0 L685.4,667.1 L684.5,667.3 L683.3,667.7 L684.5,665.7 L682.3,667.0 L681.0,667.3 L680.5,666.9 L680.6,666.0 L680.5,665.3 L681.3,664.1 L682.6,662.6 L681.4,662.8 L679.5,663.4 L679.6,662.8 L679.7,662.2 L681.6,660.7 L680.3,660.8 L678.9,660.9 L680.6,659.7 L683.8,658.0 L683.6,657.6 L682.2,657.6 L682.3,657.1 L681.5,656.8 L680.3,656.6 L680.8,655.9 L681.3,655.3 L681.0,654.9 L681.4,654.3 L680.7,653.9 L681.6,653.3 L682.0,652.9 L682.5,652.4 L683.0,652.0 L682.9,651.6 L682.7,651.1 L680.7,650.4 L680.7,649.9 L679.2,649.1 L679.7,648.6 L680.5,648.3 L682.0,648.2 L681.6,647.5 L682.3,647.2 L683.1,646.9 L682.3,646.0 L681.8,645.1 L684.5,645.9 L685.8,646.0 L686.1,645.6 L687.2,645.8 L685.7,644.2 L685.1,643.1 L684.3,641.8 L685.7,642.2 L686.7,642.4 L686.0,641.1Z"/></clipPath>
<radialGradient id="ps10_2"><stop offset="0" stop-color="#8c8c8c" stop-opacity="0.9"/><stop offset="0.6" stop-color="#8c8c8c" stop-opacity="0.765"/><stop offset="1" stop-color="#8c8c8c" stop-opacity="0"/></radialGradient>
<radialGradient id="ps10_3"><stop offset="0" stop-color="#d2d2d2" stop-opacity="1"/><stop offset="0.6" stop-color="#d2d2d2" stop-opacity="0.85"/><stop offset="1" stop-color="#d2d2d2" stop-opacity="0"/></radialGradient>
<clipPath id="cp11"><circle cx="99.7" cy="766.9" r="32.8"/></clipPath>
<radialGradient id="pd11" cx="99.7" cy="766.9" r="33" gradientUnits="userSpaceOnUse"><stop offset="0" stop-color="#262626"/><stop offset="0.84" stop-color="#282828"/><stop offset="1" stop-color="#141414"/></radialGradient>
<radialGradient id="cg11_1" cx="98.7" cy="768.4" r="30" gradientUnits="userSpaceOnUse"><stop offset="0" stop-color="#8a8a8a"/><stop offset="0.15" stop-color="#5a5a5a"/><stop offset="0.6" stop-color="#545454"/><stop offset="1" stop-color="#646464"/></radialGradient>
<clipPath id="cc11_1"><path d="M97.5,737.6 L99.0,738.4 L100.8,737.9 L102.7,738.0 L104.6,738.9 L106.8,738.3 L108.5,739.4 L110.3,739.8 L111.5,741.2 L112.2,742.9 L112.4,744.7 L115.0,742.9 L116.6,742.4 L116.5,744.2 L117.4,744.6 L119.6,743.5 L120.3,744.1 L120.1,745.5 L121.1,745.8 L122.6,745.7 L122.9,746.6 L123.4,747.3 L123.8,748.2 L123.9,749.2 L123.3,750.7 L123.0,751.8 L122.5,753.1 L122.2,754.2 L122.7,754.8 L124.4,755.0 L123.4,756.3 L122.9,757.4 L123.1,758.2 L123.7,758.9 L123.9,759.7 L122.9,760.7 L123.0,761.4 L120.4,762.5 L118.6,763.2 L120.0,763.5 L120.3,763.9 L119.3,764.4 L118.8,764.9 L119.1,765.3 L118.8,765.9 L118.8,766.5 L119.1,767.2 L118.1,767.8 L119.2,768.7 L119.3,769.4 L119.8,770.3 L121.8,771.5 L123.3,772.7 L122.4,773.2 L121.2,773.5 L123.6,774.9 L123.2,775.4 L121.8,775.3 L123.3,776.5 L124.3,777.4 L124.0,777.7 L123.5,777.9 L122.7,777.9 L123.4,778.7 L123.3,779.0 L124.4,780.0 L124.4,780.4 L124.1,780.5 L124.8,781.3 L124.5,781.6 L123.6,781.5 L122.3,781.1 L123.2,782.3 L123.2,783.0 L121.6,782.4 L120.0,782.0 L119.6,782.4 L118.8,782.6 L119.0,783.7 L118.9,784.6 L119.1,786.0 L117.9,785.9 L116.7,785.9 L116.6,786.9 L115.8,787.4 L115.9,788.8 L114.7,788.6 L114.3,789.6 L113.9,790.6 L113.4,791.2 L112.8,792.1 L112.2,792.9 L111.0,792.6 L109.3,791.0 L108.1,790.5 L107.5,791.8 L106.2,791.0 L105.0,790.1 L104.1,790.5 L103.3,791.2 L102.2,790.9 L101.1,790.3 L99.9,790.3 L98.7,790.6 L97.5,790.8 L96.3,790.7 L95.1,790.7 L94.1,790.0 L93.3,789.2 L92.9,788.0 L92.7,786.5 L92.3,786.1 L92.1,785.5 L91.6,785.6 L91.6,784.7 L91.5,783.8 L90.7,784.3 L89.9,784.7 L89.5,783.9 L88.5,784.1 L88.2,783.0 L89.2,780.2 L88.8,779.5 L87.7,779.7 L87.7,778.5 L86.8,778.4 L86.3,777.7 L85.3,777.5 L84.9,776.7 L83.9,776.2 L83.9,775.1 L83.9,774.1 L82.9,773.7 L83.0,772.7 L81.6,772.5 L79.2,772.6 L78.9,772.0 L79.1,771.3 L77.2,771.2 L75.5,771.0 L76.6,770.3 L76.8,769.8 L75.2,769.6 L73.8,769.3 L74.6,768.6 L74.7,768.1 L76.2,767.4 L77.0,766.8 L77.3,766.2 L78.4,765.6 L77.9,765.0 L78.4,764.5 L76.6,763.8 L77.0,763.4 L77.5,763.2 L78.3,763.1 L75.9,762.7 L75.1,762.5 L75.4,762.5 L75.4,762.5 L76.3,762.5 L75.6,762.3 L73.4,761.7 L71.7,761.1 L71.9,760.7 L71.5,760.2 L71.2,759.7 L70.5,759.0 L70.0,758.4 L69.8,757.8 L69.7,757.2 L70.3,756.7 L68.7,755.5 L69.5,755.1 L68.4,753.9 L66.9,752.4 L67.9,752.0 L70.4,752.2 L69.9,751.1 L69.8,750.1 L71.2,749.9 L72.4,749.6 L72.3,748.4 L73.5,748.0 L74.7,747.6 L76.0,747.2 L77.4,747.0 L77.8,745.9 L78.5,745.0 L79.0,744.1 L79.5,742.9 L80.4,742.3 L81.0,741.2 L82.4,741.1 L83.8,741.1 L84.5,740.2 L85.3,739.2 L86.5,739.2 L88.1,740.1 L89.3,740.2 L89.7,738.5 L90.5,737.7 L91.2,736.3 L92.1,735.8 L93.5,736.8 L94.9,737.8 L96.1,737.6Z"/></clipPath>
<radialGradient id="ps11_3"><stop offset="0" stop-color="#cfcfcf" stop-opacity="0.7"/><stop offset="0.4" stop-color="#cfcfcf" stop-opacity="0.595"/><stop offset="1" stop-color="#cfcfcf" stop-opacity="0"/></radialGradient>
<clipPath id="cp12"><circle cx="172" cy="766.5" r="32.8"/></clipPath>
<radialGradient id="pd12" cx="172" cy="766.5" r="33" gradientUnits="userSpaceOnUse"><stop offset="0" stop-color="#383838"/><stop offset="0.84" stop-color="#2c2c2c"/><stop offset="1" stop-color="#141414"/></radialGradient>
<radialGradient id="cg12_1" cx="171.5" cy="766.5" r="32" gradientUnits="userSpaceOnUse"><stop offset="0" stop-color="#909090"/><stop offset="0.2" stop-color="#5a5a5a"/><stop offset="0.6" stop-color="#4e4e4e"/><stop offset="1" stop-color="#5a5a5a"/></radialGradient>
<clipPath id="cc12_1"><path d="M142.6,753.7 L143.2,752.9 L143.5,752.0 L142.3,750.5 L142.0,749.3 L142.6,748.4 L144.2,748.0 L144.3,746.8 L143.4,745.1 L143.8,744.0 L145.5,743.9 L146.0,742.9 L147.5,742.7 L148.8,742.4 L149.5,741.7 L149.2,740.1 L149.8,739.3 L151.6,739.7 L151.4,738.0 L152.4,737.5 L153.6,737.3 L154.4,736.5 L155.6,736.2 L156.8,736.1 L157.6,735.2 L158.7,735.0 L159.9,734.7 L161.2,734.9 L162.3,734.9 L163.4,734.8 L164.0,733.2 L165.0,732.8 L166.3,733.9 L166.9,731.8 L167.9,731.1 L168.9,730.9 L170.0,731.2 L171.1,731.9 L172.1,731.2 L173.1,732.2 L174.1,732.0 L175.2,731.9 L176.3,731.2 L177.5,730.2 L178.4,731.2 L179.1,732.8 L180.1,732.9 L181.2,732.9 L182.1,733.1 L182.8,734.1 L183.3,735.5 L184.0,736.3 L184.9,736.6 L186.3,736.0 L187.3,736.4 L189.0,735.6 L189.8,736.4 L189.8,738.1 L191.0,738.2 L192.4,738.1 L193.0,738.9 L194.2,739.2 L195.3,739.5 L195.2,740.9 L195.6,741.8 L196.9,742.0 L197.0,743.1 L197.5,744.0 L197.3,745.3 L199.7,745.0 L200.9,745.5 L201.4,746.4 L201.0,747.8 L201.8,748.6 L202.0,749.7 L201.8,750.8 L201.1,752.1 L201.6,753.0 L202.3,753.8 L202.6,754.7 L203.6,755.4 L202.3,756.5 L203.3,757.3 L202.5,758.3 L202.0,759.3 L201.7,760.2 L202.8,761.0 L203.4,761.9 L203.1,762.8 L204.1,763.8 L203.6,764.7 L203.4,765.5 L205.0,766.6 L205.1,767.5 L204.4,768.2 L204.5,769.1 L203.7,769.7 L201.8,769.9 L202.5,770.8 L203.1,771.7 L202.1,772.1 L200.8,772.3 L201.7,773.3 L201.3,773.8 L199.7,773.8 L200.1,774.7 L199.6,775.1 L199.2,775.6 L198.3,775.9 L198.4,776.7 L197.4,776.8 L196.3,776.9 L194.7,776.7 L194.2,777.1 L193.8,777.6 L193.0,777.9 L191.9,777.8 L191.7,778.6 L191.7,779.6 L191.4,780.4 L190.3,780.4 L189.2,780.4 L188.9,781.2 L188.2,781.7 L186.8,781.2 L186.0,781.4 L185.8,782.4 L185.6,783.6 L184.7,783.8 L183.7,783.5 L182.6,783.0 L182.1,783.6 L181.7,784.6 L180.6,783.9 L179.6,783.1 L178.4,781.9 L177.7,781.7 L177.0,781.9 L176.4,782.2 L176.0,783.8 L175.1,783.5 L174.2,781.9 L173.6,783.4 L172.8,783.2 L172.0,782.9 L171.2,783.0 L170.3,784.3 L169.5,783.5 L168.6,783.5 L167.6,784.2 L166.9,783.4 L166.0,783.6 L165.5,782.4 L164.4,783.1 L162.8,784.9 L162.0,784.6 L161.1,784.6 L159.9,785.2 L159.0,784.9 L157.9,785.2 L158.1,783.4 L157.2,783.3 L156.4,783.0 L155.0,783.4 L154.3,782.9 L153.7,782.4 L152.6,782.4 L151.4,782.4 L151.7,780.9 L151.6,779.9 L150.7,779.7 L149.9,779.3 L149.2,778.9 L148.9,778.2 L149.1,777.1 L148.4,776.8 L146.6,777.2 L144.7,777.5 L144.3,776.9 L143.0,776.8 L143.5,775.7 L144.4,774.5 L142.9,774.4 L142.1,774.0 L142.4,773.1 L142.5,772.3 L141.8,771.8 L141.5,771.2 L142.1,770.3 L141.5,769.7 L141.3,769.0 L141.6,768.1 L140.6,767.6 L139.6,767.0 L139.6,766.1 L139.7,765.2 L140.4,764.3 L140.8,763.4 L141.2,762.5 L141.1,761.6 L142.3,760.8 L141.7,759.9 L141.5,759.0 L141.9,758.1 L141.3,757.1 L142.4,756.4 L142.5,755.5 L142.3,754.5Z"/></clipPath>
<radialGradient id="ps12_2"><stop offset="0" stop-color="#8a8a8a" stop-opacity="0.45"/><stop offset="0.4" stop-color="#8a8a8a" stop-opacity="0.3825"/><stop offset="1" stop-color="#8a8a8a" stop-opacity="0"/></radialGradient>
<radialGradient id="ps12_3"><stop offset="0" stop-color="#4a4a4a" stop-opacity="0.5"/><stop offset="0.4" stop-color="#4a4a4a" stop-opacity="0.425"/><stop offset="1" stop-color="#4a4a4a" stop-opacity="0"/></radialGradient>
<radialGradient id="ps12_5"><stop offset="0" stop-color="#d4d4d4" stop-opacity="0.9"/><stop offset="0.4" stop-color="#d4d4d4" stop-opacity="0.765"/><stop offset="1" stop-color="#d4d4d4" stop-opacity="0"/></radialGradient>
<clipPath id="cp13"><circle cx="326.5" cy="769" r="32.8"/></clipPath>
<radialGradient id="pd13" cx="326.5" cy="769" r="33" gradientUnits="userSpaceOnUse"><stop offset="0" stop-color="#727272"/><stop offset="0.84" stop-color="#7a7a7a"/><stop offset="1" stop-color="#2e2e2e"/></radialGradient>
<radialGradient id="ps13_3"><stop offset="0" stop-color="#dcdcdc" stop-opacity="1"/><stop offset="0.6" stop-color="#dcdcdc" stop-opacity="0.85"/><stop offset="1" stop-color="#dcdcdc" stop-opacity="0"/></radialGradient>
<clipPath id="cp14"><circle cx="398.6" cy="769" r="32.8"/></clipPath>
<radialGradient id="pd14" cx="398.6" cy="769" r="33" gradientUnits="userSpaceOnUse"><stop offset="0" stop-color="#7a7a7a"/><stop offset="0.84" stop-color="#686868"/><stop offset="1" stop-color="#222"/></radialGradient>
<radialGradient id="ps14_4"><stop offset="0" stop-color="#9a9a9a" stop-opacity="0.45"/><stop offset="0.4" stop-color="#9a9a9a" stop-opacity="0.3825"/><stop offset="1" stop-color="#9a9a9a" stop-opacity="0"/></radialGradient>
<radialGradient id="ps14_5"><stop offset="0" stop-color="#f4f4f4" stop-opacity="1"/><stop offset="0.45" stop-color="#f4f4f4" stop-opacity="0.85"/><stop offset="1" stop-color="#f4f4f4" stop-opacity="0"/></radialGradient>
<clipPath id="cp15"><circle cx="569.9" cy="769.5" r="32.8"/></clipPath>
<radialGradient id="pd15" cx="569.9" cy="769.5" r="33" gradientUnits="userSpaceOnUse"><stop offset="0" stop-color="#9c9c9c"/><stop offset="0.84" stop-color="#a8a8a8"/><stop offset="1" stop-color="#3e3e3e"/></radialGradient>
<clipPath id="cp16"><circle cx="642" cy="769" r="32.8"/></clipPath>
<radialGradient id="pd16" cx="642" cy="769" r="33" gradientUnits="userSpaceOnUse"><stop offset="0" stop-color="#626262"/><stop offset="0.84" stop-color="#5c5c5c"/><stop offset="1" stop-color="#1e1e1e"/></radialGradient>
<radialGradient id="ps16_5"><stop offset="0" stop-color="#d8d8d8" stop-opacity="0.8"/><stop offset="0.4" stop-color="#d8d8d8" stop-opacity="0.68"/><stop offset="1" stop-color="#d8d8d8" stop-opacity="0"/></radialGradient></defs>
<rect width="731" height="803" fill="#fff"/>
<text x="1.0" y="10.4" font-family="Liberation Sans" font-size="19" text-anchor="start" fill="#111" font-weight="bold" >a</text>
<circle cx="50" cy="80.2" r="48" fill="#2d2d2d"/>
<path d="M23.30,72.50 C23.83,70.85 24.47,69.28 25.70,68.40 C26.93,67.52 28.92,68.02 30.70,67.20 C32.48,66.38 34.63,64.53 36.40,63.50 C38.17,62.47 39.52,61.62 41.30,61.00 C43.08,60.38 45.32,60.35 47.10,59.80 C48.88,59.25 50.63,57.90 52.00,57.70 C53.37,57.50 54.07,58.32 55.30,58.60 C56.53,58.88 57.90,59.00 59.40,59.40 C60.90,59.80 62.65,60.58 64.30,61.00 C65.95,61.42 67.93,61.22 69.30,61.90 C70.67,62.58 71.82,63.60 72.50,65.10 C73.18,66.60 73.18,68.98 73.40,70.90 C73.62,72.82 74.02,74.97 73.80,76.60 C73.58,78.23 72.52,79.05 72.10,80.70 C71.68,82.35 71.23,84.85 71.30,86.50 C71.37,88.15 72.57,89.10 72.50,90.60 C72.43,92.10 71.72,94.13 70.90,95.50 C70.08,96.87 68.97,97.98 67.60,98.80 C66.23,99.62 64.48,99.85 62.70,100.40 C60.92,100.95 58.82,101.55 56.90,102.10 C54.98,102.65 53.25,103.15 51.20,103.70 C49.15,104.25 46.65,104.98 44.60,105.40 C42.55,105.82 40.82,106.35 38.90,106.20 C36.98,106.05 34.75,105.32 33.10,104.50 C31.45,103.68 30.23,102.67 29.00,101.30 C27.77,99.93 26.65,98.08 25.70,96.30 C24.75,94.52 23.83,92.65 23.30,90.60 C22.77,88.55 22.63,86.05 22.50,84.00 C22.37,81.95 22.37,80.22 22.50,78.30 C22.63,76.38 22.77,74.15 23.30,72.50 Z" fill="url(#gBlob)"/>
<path d="M23.30,72.50 C23.83,70.85 24.47,69.28 25.70,68.40 C26.93,67.52 28.92,68.02 30.70,67.20 C32.48,66.38 34.63,64.53 36.40,63.50 C38.17,62.47 39.52,61.62 41.30,61.00 C43.08,60.38 45.32,60.35 47.10,59.80 C48.88,59.25 50.63,57.90 52.00,57.70 C53.37,57.50 54.07,58.32 55.30,58.60 C56.53,58.88 57.90,59.00 59.40,59.40 C60.90,59.80 62.65,60.58 64.30,61.00 C65.95,61.42 67.93,61.22 69.30,61.90 C70.67,62.58 71.82,63.60 72.50,65.10 C73.18,66.60 73.18,68.98 73.40,70.90 C73.62,72.82 74.02,74.97 73.80,76.60 C73.58,78.23 72.52,79.05 72.10,80.70 C71.68,82.35 71.23,84.85 71.30,86.50 C71.37,88.15 72.57,89.10 72.50,90.60 C72.43,92.10 71.72,94.13 70.90,95.50 C70.08,96.87 68.97,97.98 67.60,98.80 C66.23,99.62 64.48,99.85 62.70,100.40 C60.92,100.95 58.82,101.55 56.90,102.10 C54.98,102.65 53.25,103.15 51.20,103.70 C49.15,104.25 46.65,104.98 44.60,105.40 C42.55,105.82 40.82,106.35 38.90,106.20 C36.98,106.05 34.75,105.32 33.10,104.50 C31.45,103.68 30.23,102.67 29.00,101.30 C27.77,99.93 26.65,98.08 25.70,96.30 C24.75,94.52 23.83,92.65 23.30,90.60 C22.77,88.55 22.63,86.05 22.50,84.00 C22.37,81.95 22.37,80.22 22.50,78.30 C22.63,76.38 22.77,74.15 23.30,72.50 Z" fill="url(#gBlob2)"/>
<ellipse cx="48.5" cy="82" rx="6.5" ry="5" fill="url(#gYel)"/>
<line x1="35.2" y1="95.1" x2="64.9" y2="67.1" stroke="#2a2a2a" stroke-width="1.3" stroke-dasharray="2.2 2"/>
<path d="M29.4,100.6 L30.6,95.2 L35,99.4 Z" fill="#000"/>
<path d="M71.3,61.8 L70.1,67.2 L65.7,63 Z" fill="#000"/>
<path d="M83.4,26.5 C72,30 60,42 52.7,57" fill="none" stroke="#e8383c" stroke-width="1"/>
<path d="M52.7,57 C51.5,64 48.9,70.3 47.9,80.3" fill="none" stroke="#e8383c" stroke-width="0.8"/>
<path d="M52.7,57 C51.5,64 51.4,68.5 50.4,78.5" fill="none" stroke="#e8383c" stroke-width="0.8"/>
<path d="M52.7,57 C51.5,64 53.4,66.8 52.4,76.8" fill="none" stroke="#e8383c" stroke-width="0.8"/>
<path d="M52.7,57 C51.5,64 55.2,65.0 54.2,75.0" fill="none" stroke="#e8383c" stroke-width="0.8"/>
<path d="M52.7,57 C51.5,64 56.2,63.599999999999994 55.2,73.6" fill="none" stroke="#e8383c" stroke-width="0.8"/>
<path d="M62.3,71.4 C66,77 71,79.6 80,80.2 L124.5,80.2" fill="none" stroke="#e8383c" stroke-width="1"/>
<path d="M130.2,80.2 L123.4,76.7 L123.4,83.7 Z" fill="#e8383c"/>
<path d="M65.8,100.1 C70,108 80,114 97,116.6" fill="none" stroke="#e8383c" stroke-width="1"/>
<path d="M102.9,117.5 L96.6,113.4 L95.6,120.3 Z" fill="#e8383c"/>
<rect x="90.3" y="12.8" width="13.3" height="12.8" fill="#d8c98b"/>
<rect x="107.7" y="12.8" width="13" height="12.8" fill="#dcdcd9"/>
<rect x="90.3" y="29.9" width="13.3" height="12.5" fill="#a59e94"/>
<rect x="107.7" y="29.9" width="13" height="12.5" fill="#e0d6b0"/>
<path d="M89.6,9.6 Q86.3,9.6 86.3,13 L86.3,23.2 Q86.3,26.5 83.4,26.5 Q86.3,26.5 86.3,29.8 L86.3,43 Q86.3,46.3 89.6,46.3" fill="none" stroke="#e8383c" stroke-width="0.9"/>
<path d="M121.4,9.6 Q124.7,9.6 124.7,13 L124.7,23.2 Q124.7,26.5 127.6,26.5 L131.3,26.5 M127.6,26.5 Q124.7,26.5 124.7,29.8 L124.7,43 Q124.7,46.3 121.4,46.3" fill="none" stroke="#e8383c" stroke-width="0.9"/>
<text x="135.3" y="29.2" font-family="Liberation Sans" font-size="14.5" text-anchor="start" fill="#222" font-weight="normal" >mean pixel</text>
<text x="135.3" y="46.7" font-family="Liberation Sans" font-size="14.5" fill="#222">intensity <tspan font-family="Liberation Serif" font-size="15.5">(m)</tspan></text>
<text x="134.4" y="83.7" font-family="Liberation Sans" font-size="14.5" fill="#222">length <tspan font-family="Liberation Serif" font-size="15.5">(l)</tspan></text>
<text x="135.2" y="123.7" font-family="Liberation Sans" font-size="14.5" fill="#222">area <tspan font-family="Liberation Serif" font-size="15.5">(a)</tspan></text>
<path d="M110.00,109.50 C111.50,109.05 113.50,108.38 115.00,108.30 C116.50,108.22 117.50,108.80 119.00,109.00 C120.50,109.20 122.50,109.00 124.00,109.50 C125.50,110.00 127.20,110.75 128.00,112.00 C128.80,113.25 128.88,115.50 128.80,117.00 C128.72,118.50 127.53,119.67 127.50,121.00 C127.47,122.33 128.85,123.67 128.60,125.00 C128.35,126.33 127.27,128.23 126.00,129.00 C124.73,129.77 122.67,129.27 121.00,129.60 C119.33,129.93 117.67,130.93 116.00,131.00 C114.33,131.07 112.67,130.50 111.00,130.00 C109.33,129.50 107.17,129.00 106.00,128.00 C104.83,127.00 104.25,125.50 104.00,124.00 C103.75,122.50 104.52,120.67 104.50,119.00 C104.48,117.33 103.65,115.33 103.90,114.00 C104.15,112.67 104.98,111.75 106.00,111.00 C107.02,110.25 108.50,109.95 110.00,109.50 Z" fill="#e2e2e2" stroke="#9a9a9a" stroke-width="0.7"/>
<line x1="207" y1="80.1" x2="223.13" y2="80.1" stroke="#7c7c7c" stroke-width="3.2"/>
<path d="M233.6,80.1 L215.1,72.1 L222.13,80.1 L215.1,88.1 Z" fill="url(#gArr)" stroke="#8a8a8a" stroke-width="0.8" stroke-linejoin="miter"/>
<line x1="365.6" y1="80.4" x2="381.33" y2="80.4" stroke="#7c7c7c" stroke-width="3.2"/>
<path d="M391.8,80.4 L373.3,72.4 L380.33,80.4 L373.3,88.4 Z" fill="url(#gArr)" stroke="#8a8a8a" stroke-width="0.8" stroke-linejoin="miter"/>
<line x1="483.7" y1="81" x2="499.72999999999996" y2="81" stroke="#7c7c7c" stroke-width="3.2"/>
<path d="M510.2,81 L491.7,73 L498.72999999999996,81 L491.7,89 Z" fill="url(#gArr)" stroke="#8a8a8a" stroke-width="0.8" stroke-linejoin="miter"/>
<line x1="584.7" y1="81" x2="599.8299999999999" y2="81" stroke="#7c7c7c" stroke-width="3.2"/>
<path d="M610.3,81 L591.8,73 L598.8299999999999,81 L591.8,89 Z" fill="url(#gArr)" stroke="#8a8a8a" stroke-width="0.8" stroke-linejoin="miter"/>
<rect x="233.6" y="47.6" width="131.6" height="64.2" fill="#fff" stroke="#9a9a9a" stroke-width="1.2"/>
<rect x="392.2" y="54.8" width="91.1" height="52.1" fill="#fff" stroke="#9a9a9a" stroke-width="1.2"/>
<rect x="510.6" y="60.5" width="73.7" height="41.7" fill="#a9dcca" stroke="#8a8a8a" stroke-width="1.2"/>
<text x="239" y="65.7" font-family="Liberation Sans" font-size="12.8" fill="#222">Growth, <tspan font-family="Liberation Serif" font-size="14">V</tspan><tspan font-family="Liberation Serif" font-size="6.5" dy="3.5">G</tspan><tspan font-family="Liberation Serif" font-size="14" dy="-3.5">=(m </tspan><tspan font-family="Liberation Sans" font-size="14.5">x</tspan><tspan font-family="Liberation Serif" font-size="14"> a)</tspan></text>
<text x="239" y="99.5" font-family="Liberation Sans" font-size="12.8" fill="#222">Motility, <tspan font-family="Liberation Serif" font-size="14">V</tspan><tspan font-family="Liberation Serif" font-size="6.5" dy="3.5">M</tspan><tspan font-family="Liberation Serif" font-size="14" dy="-3.5">=l</tspan></text>
<text x="439" y="78" font-family="Liberation Sans" font-size="13" text-anchor="middle" fill="#222" font-weight="normal" >min-max</text>
<text x="439" y="92.3" font-family="Liberation Sans" font-size="13" text-anchor="middle" fill="#222" font-weight="normal" >normalization</text>
<text x="520" y="77" font-family="Liberation Sans" font-size="13" text-anchor="start" fill="#222" font-weight="normal" >K-means</text>
<text x="520" y="92.3" font-family="Liberation Sans" font-size="13" text-anchor="start" fill="#222" font-weight="normal" >clustering</text>
<line x1="614.8" y1="43" x2="614.8" y2="118" stroke="#1a1a1a" stroke-width="1.9"/>
<line x1="613.9" y1="117.1" x2="693.9" y2="117.1" stroke="#1a1a1a" stroke-width="1.9"/>
<circle cx="651.5" cy="50.9" r="2.4" fill="#f3c9a0"/>
<circle cx="641.9" cy="54.6" r="2.4" fill="#f3c9a0"/>
<circle cx="641.9" cy="60.8" r="2.4" fill="#f3c9a0"/>
<circle cx="647.8" cy="59.4" r="2.4" fill="#f3c9a0"/>
<circle cx="657.4" cy="60.8" r="2.4" fill="#f3c9a0"/>
<circle cx="651.2" cy="65.3" r="2.4" fill="#f3c9a0"/>
<circle cx="644.4" cy="67.6" r="2.4" fill="#f3c9a0"/>
<circle cx="653.8" cy="70.4" r="2.4" fill="#f3c9a0"/>
<circle cx="649.2" cy="72.8" r="2.4" fill="#f3c9a0"/>
<circle cx="631" cy="81.6" r="2.4" fill="#2eaee6"/>
<circle cx="622.8" cy="87.5" r="2.4" fill="#2eaee6"/>
<circle cx="637.6" cy="88.6" r="2.4" fill="#2eaee6"/>
<circle cx="630.6" cy="93.6" r="2.4" fill="#2eaee6"/>
<circle cx="622.8" cy="98.8" r="2.4" fill="#2eaee6"/>
<circle cx="632.8" cy="100.9" r="2.4" fill="#2eaee6"/>
<circle cx="669.7" cy="77.9" r="2.4" fill="#cf7dbd"/>
<circle cx="678.9" cy="79.5" r="2.4" fill="#cf7dbd"/>
<circle cx="673" cy="82.4" r="2.4" fill="#cf7dbd"/>
<circle cx="682.7" cy="84.7" r="2.4" fill="#cf7dbd"/>
<circle cx="666.6" cy="87.5" r="2.4" fill="#cf7dbd"/>
<circle cx="676.4" cy="87.9" r="2.4" fill="#cf7dbd"/>
<circle cx="682.7" cy="92.5" r="2.4" fill="#cf7dbd"/>
<circle cx="673.7" cy="96.8" r="2.4" fill="#cf7dbd"/>
<text x="0.8" y="190.3" font-family="Liberation Sans" font-size="19" text-anchor="start" fill="#111" font-weight="bold" >b</text>
<text x="149" y="186.8" font-family="Liberation Sans" font-size="14.5" text-anchor="middle" fill="#222" font-weight="normal" >1P-G0</text>
<line x1="50.2" y1="198.1" x2="50.2" y2="327.5" stroke="#2a2a2a" stroke-width="1.9"/>
<line x1="49.300000000000004" y1="326.6" x2="247.4" y2="326.6" stroke="#2a2a2a" stroke-width="1.9"/>
<line x1="47.6" y1="204.4" x2="50.2" y2="204.4" stroke="#555" stroke-width="0.8"/>
<text transform="translate(46.300000000000004,209.20000000000002) scale(0.935,1)" font-family="Liberation Sans" font-size="15.5" text-anchor="end" fill="#1e1e1e">1.0</text>
<line x1="47.6" y1="262.3" x2="50.2" y2="262.3" stroke="#555" stroke-width="0.8"/>
<text transform="translate(46.300000000000004,267.1) scale(0.935,1)" font-family="Liberation Sans" font-size="15.5" text-anchor="end" fill="#1e1e1e">0.5</text>
<line x1="148.3" y1="326.6" x2="148.3" y2="328.8" stroke="#555" stroke-width="0.8"/>
<text transform="translate(148.3,341.4) scale(0.96,1)" font-family="Liberation Sans" font-size="15.5" text-anchor="middle" fill="#1e1e1e">0.5</text>
<line x1="240.1" y1="326.6" x2="240.1" y2="328.8" stroke="#555" stroke-width="0.8"/>
<text transform="translate(240.1,341.4) scale(0.96,1)" font-family="Liberation Sans" font-size="15.5" text-anchor="middle" fill="#1e1e1e">1.0</text>
<ellipse cx="116" cy="223" rx="22.2" ry="28.5" fill="none" stroke="#6f80c6" stroke-width="1.0" stroke-dasharray="1.6 1.9" transform="rotate(0 116 223)"/>
<ellipse cx="133.5" cy="279.5" rx="38" ry="27.3" fill="none" stroke="#f3b45a" stroke-width="1.0" stroke-dasharray="1.6 1.9" transform="rotate(0 133.5 279.5)"/>
<ellipse cx="85.7" cy="308.7" rx="31.8" ry="16.8" fill="none" stroke="#73cbea" stroke-width="1.0" stroke-dasharray="1.6 1.9" transform="rotate(0 85.7 308.7)"/>
<ellipse cx="215.8" cy="269.5" rx="28.6" ry="23.5" fill="none" stroke="#d77fbf" stroke-width="1.0" stroke-dasharray="1.6 1.9" transform="rotate(0 215.8 269.5)"/>
<circle cx="105.9" cy="205.9" r="2.1" fill="#5066b8"/>
<circle cx="124.6" cy="204.3" r="2.1" fill="#5066b8"/>
<circle cx="109.5" cy="239.8" r="2.1" fill="#5066b8"/>
<circle cx="120.9" cy="248.5" r="2.1" fill="#5066b8"/>
<circle cx="130.9" cy="257" r="2.1" fill="#f6aa38"/>
<circle cx="102.5" cy="263" r="2.1" fill="#f6aa38"/>
<circle cx="146.6" cy="263" r="2.1" fill="#f6aa38"/>
<circle cx="156.7" cy="262.6" r="2.1" fill="#f6aa38"/>
<circle cx="130.3" cy="270" r="2.1" fill="#f6aa38"/>
<circle cx="135.7" cy="271.1" r="2.1" fill="#f6aa38"/>
<circle cx="155.8" cy="273.3" r="2.1" fill="#f6aa38"/>
<circle cx="116" cy="279.2" r="2.1" fill="#f6aa38"/>
<circle cx="120.9" cy="277.8" r="2.1" fill="#f6aa38"/>
<circle cx="140.6" cy="278.7" r="2.1" fill="#f6aa38"/>
<circle cx="155.5" cy="279.2" r="2.1" fill="#f6aa38"/>
<circle cx="107.4" cy="285.9" r="2.1" fill="#f6aa38"/>
<circle cx="115.5" cy="284.8" r="2.1" fill="#f6aa38"/>
<circle cx="134.3" cy="284" r="2.1" fill="#f6aa38"/>
<circle cx="131.7" cy="285.7" r="2.1" fill="#f6aa38"/>
<circle cx="128.1" cy="288.7" r="2.1" fill="#f6aa38"/>
<circle cx="118" cy="289" r="2.1" fill="#f6aa38"/>
<circle cx="147.1" cy="288.4" r="2.1" fill="#f6aa38"/>
<circle cx="163.4" cy="288.2" r="2.1" fill="#f6aa38"/>
<circle cx="114.6" cy="292.4" r="2.1" fill="#f6aa38"/>
<circle cx="126.1" cy="292.7" r="2.1" fill="#f6aa38"/>
<circle cx="131.8" cy="294.7" r="2.1" fill="#f6aa38"/>
<circle cx="119.1" cy="296.2" r="2.1" fill="#f6aa38"/>
<circle cx="150.8" cy="302.5" r="2.1" fill="#f6aa38"/>
<circle cx="163.7" cy="288.4" r="2.1" fill="#f6aa38"/>
<circle cx="58.8" cy="315.7" r="2.1" fill="#52bde9"/>
<circle cx="59.9" cy="317.5" r="2.1" fill="#52bde9"/>
<circle cx="65.6" cy="313.7" r="2.1" fill="#52bde9"/>
<circle cx="68.6" cy="313.4" r="2.1" fill="#52bde9"/>
<circle cx="71.2" cy="311.9" r="2.1" fill="#52bde9"/>
<circle cx="72.2" cy="311" r="2.1" fill="#52bde9"/>
<circle cx="82.5" cy="321.3" r="2.1" fill="#52bde9"/>
<circle cx="89.5" cy="308.5" r="2.1" fill="#52bde9"/>
<circle cx="94.8" cy="309.5" r="2.1" fill="#52bde9"/>
<circle cx="98.3" cy="305" r="2.1" fill="#52bde9"/>
<circle cx="101.7" cy="296.7" r="2.1" fill="#52bde9"/>
<circle cx="106.5" cy="308.5" r="2.1" fill="#52bde9"/>
<circle cx="107.7" cy="301.7" r="2.1" fill="#52bde9"/>
<circle cx="108.8" cy="297.9" r="2.1" fill="#52bde9"/>
<circle cx="110.3" cy="304" r="2.1" fill="#52bde9"/>
<circle cx="113" cy="299.1" r="2.1" fill="#52bde9"/>
<circle cx="101.8" cy="296.9" r="2.1" fill="#52bde9"/>
<circle cx="108.5" cy="297.7" r="2.1" fill="#52bde9"/>
<circle cx="113" cy="298.8" r="2.1" fill="#52bde9"/>
<circle cx="107.4" cy="301.8" r="2.1" fill="#52bde9"/>
<circle cx="110.4" cy="304.1" r="2.1" fill="#52bde9"/>
<circle cx="98.4" cy="304.8" r="2.1" fill="#52bde9"/>
<circle cx="106.6" cy="308.1" r="2.1" fill="#52bde9"/>
<circle cx="95" cy="309.5" r="2.1" fill="#52bde9"/>
<circle cx="201.6" cy="252.2" r="2.1" fill="#c868b0"/>
<circle cx="238.5" cy="271.8" r="2.1" fill="#c868b0"/>
<circle cx="218.2" cy="286.8" r="2.1" fill="#c868b0"/>
<text x="114.80" y="224.2" font-family="Liberation Sans" font-weight="bold" font-size="14.27" text-anchor="middle" fill="#2845a0">III</text>
<text x="117.80" y="267.8" font-family="Liberation Sans" font-weight="bold" font-size="13.44" text-anchor="middle" fill="#e07f22">II</text>
<text x="80.60" y="307" font-family="Liberation Sans" font-weight="bold" font-size="13.85" text-anchor="middle" fill="#1b9fd3">I</text>
<text x="217.10" y="270.4" font-family="Liberation Sans" font-weight="bold" font-size="14.81" text-anchor="middle" fill="#a8228e">IV</text>
<rect x="169.7" y="190.6" width="79.30000000000001" height="55.099999999999994" fill="#fff" stroke="#aaa" stroke-width="1.3"/>
<line x1="182.7" y1="192.6" x2="182.7" y2="234.4" stroke="#444" stroke-width="0.8"/>
<line x1="182.7" y1="234.4" x2="247.6" y2="234.4" stroke="#444" stroke-width="0.8"/>
<line x1="182.7" y1="226.3" x2="207.92000000000002" y2="226.3" stroke="#888" stroke-width="0.7" stroke-dasharray="2 1.5"/>
<line x1="207.92000000000002" y1="226.3" x2="207.92000000000002" y2="234.4" stroke="#888" stroke-width="0.6" stroke-dasharray="1.5 1.5"/>
<polyline points="185.30,193.40 192.84,212.00 200.38,218.70 207.92,225.70 215.46,228.60 223.00,230.30 230.54,231.30 238.08,232.10 245.62,232.70" fill="none" stroke="#e5262b" stroke-width="1.5" stroke-linejoin="round"/>
<text x="185.30" y="241.0" font-family="Liberation Sans" font-size="6.3" text-anchor="middle" fill="#333" font-weight="normal" >1</text>
<text x="192.84" y="241.0" font-family="Liberation Sans" font-size="6.3" text-anchor="middle" fill="#333" font-weight="normal" >2</text>
<text x="200.38" y="241.0" font-family="Liberation Sans" font-size="6.3" text-anchor="middle" fill="#333" font-weight="normal" >3</text>
<text x="207.92" y="241.0" font-family="Liberation Sans" font-size="6.3" text-anchor="middle" fill="#333" font-weight="normal" >4</text>
<text x="215.46" y="241.0" font-family="Liberation Sans" font-size="6.3" text-anchor="middle" fill="#333" font-weight="normal" >5</text>
<text x="223.00" y="241.0" font-family="Liberation Sans" font-size="6.3" text-anchor="middle" fill="#333" font-weight="normal" >6</text>
<text x="230.54" y="241.0" font-family="Liberation Sans" font-size="6.3" text-anchor="middle" fill="#333" font-weight="normal" >7</text>
<text x="238.08" y="241.0" font-family="Liberation Sans" font-size="6.3" text-anchor="middle" fill="#333" font-weight="normal" >8</text>
<text x="245.62" y="241.0" font-family="Liberation Sans" font-size="6.3" text-anchor="middle" fill="#333" font-weight="normal" >9</text>
<text x="211.69" y="245.20000000000002" font-family="Liberation Sans" font-size="6.3" text-anchor="middle" fill="#333" font-weight="normal" >K</text>
<text transform="translate(181.6,195.7) rotate(-90)" font-family="Liberation Sans" font-size="5.6" font-weight="bold" text-anchor="middle" fill="#333">4</text>
<text transform="translate(181.6,215.5) rotate(-90)" font-family="Liberation Sans" font-size="5.6" font-weight="bold" text-anchor="middle" fill="#333">2</text>
<text transform="translate(175.29999999999998,213.0) rotate(-90)" font-family="Liberation Serif" font-size="7" text-anchor="middle" fill="#222">Σ(SE)²</text>
<text x="392.3" y="186.8" font-family="Liberation Sans" font-size="14.5" text-anchor="middle" fill="#222" font-weight="normal" >1P-G4</text>
<line x1="290" y1="197.4" x2="290" y2="327.5" stroke="#2a2a2a" stroke-width="1.9"/>
<line x1="289.1" y1="326.6" x2="490" y2="326.6" stroke="#2a2a2a" stroke-width="1.9"/>
<line x1="287.4" y1="204.5" x2="290" y2="204.5" stroke="#555" stroke-width="0.8"/>
<text transform="translate(286.1,209.3) scale(0.935,1)" font-family="Liberation Sans" font-size="15.5" text-anchor="end" fill="#1e1e1e">1.0</text>
<line x1="287.4" y1="262.4" x2="290" y2="262.4" stroke="#555" stroke-width="0.8"/>
<text transform="translate(286.1,267.2) scale(0.935,1)" font-family="Liberation Sans" font-size="15.5" text-anchor="end" fill="#1e1e1e">0.5</text>
<line x1="389.7" y1="326.6" x2="389.7" y2="328.8" stroke="#555" stroke-width="0.8"/>
<text transform="translate(389.7,341.4) scale(0.96,1)" font-family="Liberation Sans" font-size="15.5" text-anchor="middle" fill="#1e1e1e">0.5</text>
<line x1="481" y1="326.6" x2="481" y2="328.8" stroke="#555" stroke-width="0.8"/>
<text transform="translate(481,341.4) scale(0.96,1)" font-family="Liberation Sans" font-size="15.5" text-anchor="middle" fill="#1e1e1e">1.0</text>
<rect x="315.5" y="190.7" width="78.89999999999998" height="54.5" fill="#fff" stroke="#aaa" stroke-width="1.3"/>
<line x1="327.4" y1="192.6" x2="327.4" y2="234.2" stroke="#444" stroke-width="0.8"/>
<line x1="327.4" y1="234.2" x2="392.2" y2="234.2" stroke="#444" stroke-width="0.8"/>
<line x1="327.4" y1="225.5" x2="338.24" y2="225.5" stroke="#888" stroke-width="0.7" stroke-dasharray="2 1.5"/>
<line x1="338.24" y1="225.5" x2="338.24" y2="234.2" stroke="#888" stroke-width="0.6" stroke-dasharray="1.5 1.5"/>
<polyline points="330.70,193.00 338.24,225.50 345.78,229.00 353.32,230.30 360.86,231.30 368.40,232.20 375.94,232.60 383.48,232.60 391.02,232.60" fill="none" stroke="#e5262b" stroke-width="1.5" stroke-linejoin="round"/>
<text x="330.70" y="240.79999999999998" font-family="Liberation Sans" font-size="6.3" text-anchor="middle" fill="#333" font-weight="normal" >1</text>
<text x="338.24" y="240.79999999999998" font-family="Liberation Sans" font-size="6.3" text-anchor="middle" fill="#333" font-weight="normal" >2</text>
<text x="345.78" y="240.79999999999998" font-family="Liberation Sans" font-size="6.3" text-anchor="middle" fill="#333" font-weight="normal" >3</text>
<text x="353.32" y="240.79999999999998" font-family="Liberation Sans" font-size="6.3" text-anchor="middle" fill="#333" font-weight="normal" >4</text>
<text x="360.86" y="240.79999999999998" font-family="Liberation Sans" font-size="6.3" text-anchor="middle" fill="#333" font-weight="normal" >5</text>
<text x="368.40" y="240.79999999999998" font-family="Liberation Sans" font-size="6.3" text-anchor="middle" fill="#333" font-weight="normal" >6</text>
<text x="375.94" y="240.79999999999998" font-family="Liberation Sans" font-size="6.3" text-anchor="middle" fill="#333" font-weight="normal" >7</text>
<text x="383.48" y="240.79999999999998" font-family="Liberation Sans" font-size="6.3" text-anchor="middle" fill="#333" font-weight="normal" >8</text>
<text x="391.02" y="240.79999999999998" font-family="Liberation Sans" font-size="6.3" text-anchor="middle" fill="#333" font-weight="normal" >9</text>
<text x="357.09" y="245.0" font-family="Liberation Sans" font-size="6.3" text-anchor="middle" fill="#333" font-weight="normal" >K</text>
<text transform="translate(326.29999999999995,194.9) rotate(-90)" font-family="Liberation Sans" font-size="5.6" font-weight="bold" text-anchor="middle" fill="#333">4</text>
<text transform="translate(326.29999999999995,215) rotate(-90)" font-family="Liberation Sans" font-size="5.6" font-weight="bold" text-anchor="middle" fill="#333">2</text>
<text transform="translate(320.0,212.89999999999998) rotate(-90)" font-family="Liberation Serif" font-size="7" text-anchor="middle" fill="#222">Σ(SE)²</text>
<circle cx="298.5" cy="317.2" r="2.1" fill="#52bde9"/>
<circle cx="300" cy="319.4" r="2.1" fill="#52bde9"/>
<circle cx="301.9" cy="321" r="2.1" fill="#52bde9"/>
<circle cx="299.3" cy="315.7" r="2.1" fill="#52bde9"/>
<circle cx="300.8" cy="314.5" r="2.1" fill="#52bde9"/>
<circle cx="302.8" cy="313.9" r="2.1" fill="#52bde9"/>
<circle cx="304.9" cy="313" r="2.1" fill="#52bde9"/>
<circle cx="307.3" cy="312.4" r="2.1" fill="#52bde9"/>
<circle cx="309.4" cy="311.9" r="2.1" fill="#52bde9"/>
<circle cx="323.8" cy="305.1" r="2.1" fill="#52bde9"/>
<circle cx="324.4" cy="305.9" r="2.1" fill="#52bde9"/>
<circle cx="325.9" cy="307" r="2.1" fill="#52bde9"/>
<circle cx="327.9" cy="306.7" r="2.1" fill="#52bde9"/>
<circle cx="329.8" cy="305.9" r="2.1" fill="#52bde9"/>
<circle cx="332.9" cy="304.4" r="2.1" fill="#52bde9"/>
<circle cx="352" cy="294.6" r="2.1" fill="#52bde9"/>
<circle cx="370" cy="295.7" r="2.1" fill="#52bde9"/>
<circle cx="385.1" cy="290.9" r="2.1" fill="#52bde9"/>
<circle cx="458.9" cy="203.5" r="2.1" fill="#f6aa38"/>
<circle cx="480.3" cy="240.2" r="2.1" fill="#f6aa38"/>
<circle cx="469.7" cy="248.9" r="2.1" fill="#f6aa38"/>
<circle cx="449.8" cy="262.6" r="2.1" fill="#f6aa38"/>
<circle cx="436.3" cy="269.7" r="2.1" fill="#f6aa38"/>
<circle cx="410.3" cy="281.7" r="2.1" fill="#f6aa38"/>
<text x="339.50" y="291.3" font-family="Liberation Sans" font-weight="bold" font-size="14.13" text-anchor="middle" fill="#1b9fd3">I</text>
<text x="436.75" y="256" font-family="Liberation Sans" font-weight="bold" font-size="13.72" text-anchor="middle" fill="#e07f22">II</text>
<text x="634.7" y="186.8" font-family="Liberation Sans" font-size="14.5" text-anchor="middle" fill="#222" font-weight="normal" >1P-G7</text>
<line x1="530.5" y1="196.5" x2="530.5" y2="327.4" stroke="#2a2a2a" stroke-width="1.9"/>
<line x1="529.6" y1="326.5" x2="731" y2="326.5" stroke="#2a2a2a" stroke-width="1.9"/>
<line x1="527.9" y1="204.3" x2="530.5" y2="204.3" stroke="#555" stroke-width="0.8"/>
<text transform="translate(526.6,209.10000000000002) scale(0.935,1)" font-family="Liberation Sans" font-size="15.5" text-anchor="end" fill="#1e1e1e">1.0</text>
<line x1="527.9" y1="263.2" x2="530.5" y2="263.2" stroke="#555" stroke-width="0.8"/>
<text transform="translate(526.6,268.0) scale(0.935,1)" font-family="Liberation Sans" font-size="15.5" text-anchor="end" fill="#1e1e1e">0.5</text>
<line x1="628.9" y1="326.5" x2="628.9" y2="328.7" stroke="#555" stroke-width="0.8"/>
<text transform="translate(628.9,341.4) scale(0.96,1)" font-family="Liberation Sans" font-size="15.5" text-anchor="middle" fill="#1e1e1e">0.5</text>
<line x1="720.5" y1="326.5" x2="720.5" y2="328.7" stroke="#555" stroke-width="0.8"/>
<text transform="translate(720.5,341.4) scale(0.96,1)" font-family="Liberation Sans" font-size="15.5" text-anchor="middle" fill="#1e1e1e">1.0</text>
<rect x="617.6" y="190.5" width="79.60000000000002" height="55.099999999999994" fill="#fff" stroke="#aaa" stroke-width="1.3"/>
<line x1="630.3" y1="192.4" x2="630.3" y2="234.2" stroke="#444" stroke-width="0.8"/>
<line x1="630.3" y1="234.2" x2="696.2" y2="234.2" stroke="#444" stroke-width="0.8"/>
<line x1="630.3" y1="228.7" x2="656.38" y2="228.7" stroke="#c4c4c4" stroke-width="0.7" stroke-dasharray="2 1.5"/>
<line x1="656.38" y1="228.7" x2="656.38" y2="234.2" stroke="#c4c4c4" stroke-width="0.6" stroke-dasharray="1.5 1.5"/>
<polyline points="634.00,195.50 641.46,213.90 648.92,224.40 656.38,228.70 663.84,229.90 671.30,231.20 678.76,231.80 686.22,232.40 693.68,232.40" fill="none" stroke="#ee5555" stroke-width="1.0" stroke-linejoin="round"/>
<text x="634.00" y="240.79999999999998" font-family="Liberation Sans" font-size="6.3" text-anchor="middle" fill="#333" font-weight="normal" >1</text>
<text x="641.46" y="240.79999999999998" font-family="Liberation Sans" font-size="6.3" text-anchor="middle" fill="#333" font-weight="normal" >2</text>
<text x="648.92" y="240.79999999999998" font-family="Liberation Sans" font-size="6.3" text-anchor="middle" fill="#333" font-weight="normal" >3</text>
<text x="656.38" y="240.79999999999998" font-family="Liberation Sans" font-size="6.3" text-anchor="middle" fill="#333" font-weight="normal" >4</text>
<text x="663.84" y="240.79999999999998" font-family="Liberation Sans" font-size="6.3" text-anchor="middle" fill="#333" font-weight="normal" >5</text>
<text x="671.30" y="240.79999999999998" font-family="Liberation Sans" font-size="6.3" text-anchor="middle" fill="#333" font-weight="normal" >6</text>
<text x="678.76" y="240.79999999999998" font-family="Liberation Sans" font-size="6.3" text-anchor="middle" fill="#333" font-weight="normal" >7</text>
<text x="686.22" y="240.79999999999998" font-family="Liberation Sans" font-size="6.3" text-anchor="middle" fill="#333" font-weight="normal" >8</text>
<text x="693.68" y="240.79999999999998" font-family="Liberation Sans" font-size="6.3" text-anchor="middle" fill="#333" font-weight="normal" >9</text>
<text x="660.11" y="245.0" font-family="Liberation Sans" font-size="6.3" text-anchor="middle" fill="#333" font-weight="normal" >K</text>
<text transform="translate(629.1999999999999,195.8) rotate(-90)" font-family="Liberation Sans" font-size="5.6" font-weight="bold" text-anchor="middle" fill="#333">4</text>
<text transform="translate(629.1999999999999,215.2) rotate(-90)" font-family="Liberation Sans" font-size="5.6" font-weight="bold" text-anchor="middle" fill="#333">2</text>
<text transform="translate(622.9,212.8) rotate(-90)" font-family="Liberation Serif" font-size="7" text-anchor="middle" fill="#222">Σ(SE)²</text>
<ellipse cx="576.5" cy="218.5" rx="28.4" ry="23.4" fill="none" stroke="#6f80c6" stroke-width="1.0" stroke-dasharray="1.6 1.9" transform="rotate(4 576.5 218.5)"/>
<ellipse cx="568.8" cy="305.7" rx="38.5" ry="13.2" fill="none" stroke="#73cbea" stroke-width="1.0" stroke-dasharray="1.6 1.9" transform="rotate(-17 568.8 305.7)"/>
<ellipse cx="693.8" cy="272.6" rx="35.6" ry="19.2" fill="none" stroke="#d77fbf" stroke-width="1.0" stroke-dasharray="1.6 1.9" transform="rotate(8 693.8 272.6)"/>
<path d="M577.00,263.00 C578.47,261.50 581.17,260.00 584.00,259.00 C586.83,258.00 590.50,257.42 594.00,257.00 C597.50,256.58 601.33,256.33 605.00,256.50 C608.67,256.67 612.50,257.08 616.00,258.00 C619.50,258.92 623.17,260.33 626.00,262.00 C628.83,263.67 631.50,265.67 633.00,268.00 C634.50,270.33 634.67,272.67 635.00,276.00 C635.33,279.33 635.08,284.33 635.00,288.00 C634.92,291.67 635.17,295.33 634.50,298.00 C633.83,300.67 632.42,303.08 631.00,304.00 C629.58,304.92 628.00,304.33 626.00,303.50 C624.00,302.67 621.50,300.75 619.00,299.00 C616.50,297.25 613.67,294.83 611.00,293.00 C608.33,291.17 605.83,289.67 603.00,288.00 C600.17,286.33 597.00,284.50 594.00,283.00 C591.00,281.50 587.83,280.33 585.00,279.00 C582.17,277.67 578.63,276.83 577.00,275.00 C575.37,273.17 575.20,270.00 575.20,268.00 C575.20,266.00 575.53,264.50 577.00,263.00 Z" fill="none" stroke="#f3b45a" stroke-width="1.0" stroke-dasharray="1.6 1.9"/>
<circle cx="558.5" cy="202.6" r="2.1" fill="#5066b8"/>
<circle cx="553.2" cy="212.3" r="2.1" fill="#5066b8"/>
<circle cx="554.2" cy="211.5" r="2.1" fill="#5066b8"/>
<circle cx="564.6" cy="214.5" r="2.1" fill="#5066b8"/>
<circle cx="567.8" cy="226.9" r="2.1" fill="#5066b8"/>
<circle cx="601.6" cy="225.6" r="2.1" fill="#5066b8"/>
<circle cx="580.7" cy="270.8" r="2.1" fill="#f6aa38"/>
<circle cx="584.9" cy="268.1" r="2.1" fill="#f6aa38"/>
<circle cx="597.2" cy="260.8" r="2.1" fill="#f6aa38"/>
<circle cx="604" cy="259" r="2.1" fill="#f6aa38"/>
<circle cx="607.8" cy="260.8" r="2.1" fill="#f6aa38"/>
<circle cx="620.6" cy="262" r="2.1" fill="#f6aa38"/>
<circle cx="597.7" cy="272.3" r="2.1" fill="#f6aa38"/>
<circle cx="603" cy="281.6" r="2.1" fill="#f6aa38"/>
<circle cx="629.3" cy="281.3" r="2.1" fill="#f6aa38"/>
<circle cx="622.1" cy="293.6" r="2.1" fill="#f6aa38"/>
<circle cx="619" cy="297.4" r="2.1" fill="#f6aa38"/>
<circle cx="539.3" cy="320.4" r="2.1" fill="#52bde9"/>
<circle cx="553.6" cy="309" r="2.1" fill="#52bde9"/>
<circle cx="556.3" cy="300.9" r="2.1" fill="#52bde9"/>
<circle cx="563.4" cy="305.7" r="2.1" fill="#52bde9"/>
<circle cx="573.6" cy="300.1" r="2.1" fill="#52bde9"/>
<circle cx="581.9" cy="290.9" r="2.1" fill="#52bde9"/>
<circle cx="586.4" cy="293.6" r="2.1" fill="#52bde9"/>
<circle cx="589" cy="294.7" r="2.1" fill="#52bde9"/>
<circle cx="584.4" cy="298.6" r="2.1" fill="#52bde9"/>
<circle cx="587" cy="301.6" r="2.1" fill="#52bde9"/>
<circle cx="592.7" cy="303.9" r="2.1" fill="#52bde9"/>
<circle cx="595.3" cy="303.9" r="2.1" fill="#52bde9"/>
<circle cx="601.7" cy="296.2" r="2.1" fill="#52bde9"/>
<circle cx="664.9" cy="263.9" r="2.1" fill="#c868b0"/>
<circle cx="720.7" cy="274.7" r="2.1" fill="#c868b0"/>
<circle cx="713" cy="285.6" r="2.1" fill="#c868b0"/>
<text x="580.35" y="218" font-family="Liberation Sans" font-weight="bold" font-size="14.81" text-anchor="middle" fill="#2845a0">III</text>
<text x="616.40" y="279.8" font-family="Liberation Sans" font-weight="bold" font-size="13.03" text-anchor="middle" fill="#e07f22">II</text>
<text x="568.60" y="317.7" font-family="Liberation Sans" font-weight="bold" font-size="14.40" text-anchor="middle" fill="#1b9fd3">I</text>
<text x="686.35" y="276.9" font-family="Liberation Sans" font-weight="bold" font-size="14.27" text-anchor="middle" fill="#a8228e">IV</text>
<text x="149.4" y="370.7" font-family="Liberation Sans" font-size="14.5" text-anchor="middle" fill="#222" font-weight="normal" >100P</text>
<line x1="50.6" y1="370" x2="50.6" y2="491.7" stroke="#2a2a2a" stroke-width="1.9"/>
<line x1="49.7" y1="490.8" x2="249.8" y2="490.8" stroke="#2a2a2a" stroke-width="1.9"/>
<line x1="48.0" y1="376.2" x2="50.6" y2="376.2" stroke="#555" stroke-width="0.8"/>
<text transform="translate(46.7,381.0) scale(0.935,1)" font-family="Liberation Sans" font-size="15.5" text-anchor="end" fill="#1e1e1e">1.0</text>
<line x1="48.0" y1="430.7" x2="50.6" y2="430.7" stroke="#555" stroke-width="0.8"/>
<text transform="translate(46.7,435.5) scale(0.935,1)" font-family="Liberation Sans" font-size="15.5" text-anchor="end" fill="#1e1e1e">0.5</text>
<line x1="149.1" y1="490.8" x2="149.1" y2="493.0" stroke="#555" stroke-width="0.8"/>
<text transform="translate(149.1,505.2) scale(0.96,1)" font-family="Liberation Sans" font-size="15.5" text-anchor="middle" fill="#1e1e1e">0.5</text>
<line x1="239.7" y1="490.8" x2="239.7" y2="493.0" stroke="#555" stroke-width="0.8"/>
<text transform="translate(239.7,505.2) scale(0.96,1)" font-family="Liberation Sans" font-size="15.5" text-anchor="middle" fill="#1e1e1e">1.0</text>
<rect x="176" y="433.4" width="74" height="50.10000000000002" fill="#fff" stroke="#666" stroke-width="1.0"/>
<line x1="188.4" y1="435" x2="188.4" y2="474.4" stroke="#444" stroke-width="0.8"/>
<line x1="188.4" y1="474.4" x2="249" y2="474.4" stroke="#444" stroke-width="0.8"/>
<line x1="188.4" y1="466" x2="197.875" y2="466" stroke="#bbb" stroke-width="0.7" stroke-dasharray="2 1.5"/>
<line x1="197.875" y1="466" x2="197.875" y2="474.4" stroke="#bbb" stroke-width="0.6" stroke-dasharray="1.5 1.5"/>
<polyline points="190.90,436.00 197.88,467.40 204.85,470.30 211.82,471.50 218.80,472.10 225.78,472.40 232.75,472.70 239.72,472.70 246.70,472.90" fill="none" stroke="#e5262b" stroke-width="1.5" stroke-linejoin="round"/>
<text x="190.90" y="481.0" font-family="Liberation Sans" font-size="6.3" text-anchor="middle" fill="#333" font-weight="normal" >1</text>
<text x="197.88" y="481.0" font-family="Liberation Sans" font-size="6.3" text-anchor="middle" fill="#333" font-weight="normal" >2</text>
<text x="204.85" y="481.0" font-family="Liberation Sans" font-size="6.3" text-anchor="middle" fill="#333" font-weight="normal" >3</text>
<text x="211.82" y="481.0" font-family="Liberation Sans" font-size="6.3" text-anchor="middle" fill="#333" font-weight="normal" >4</text>
<text x="218.80" y="481.0" font-family="Liberation Sans" font-size="6.3" text-anchor="middle" fill="#333" font-weight="normal" >5</text>
<text x="225.78" y="481.0" font-family="Liberation Sans" font-size="6.3" text-anchor="middle" fill="#333" font-weight="normal" >6</text>
<text x="232.75" y="481.0" font-family="Liberation Sans" font-size="6.3" text-anchor="middle" fill="#333" font-weight="normal" >7</text>
<text x="239.72" y="481.0" font-family="Liberation Sans" font-size="6.3" text-anchor="middle" fill="#333" font-weight="normal" >8</text>
<text x="246.70" y="481.0" font-family="Liberation Sans" font-size="6.3" text-anchor="middle" fill="#333" font-weight="normal" >9</text>
<text x="215.31" y="485.2" font-family="Liberation Sans" font-size="6.3" text-anchor="middle" fill="#333" font-weight="normal" >K</text>
<text transform="translate(187.3,440.1) rotate(-90)" font-family="Liberation Sans" font-size="5.6" font-weight="bold" text-anchor="middle" fill="#333">6</text>
<text transform="translate(187.3,450) rotate(-90)" font-family="Liberation Sans" font-size="5.6" font-weight="bold" text-anchor="middle" fill="#333">4</text>
<text transform="translate(187.3,460.8) rotate(-90)" font-family="Liberation Sans" font-size="5.6" font-weight="bold" text-anchor="middle" fill="#333">2</text>
<text transform="translate(181.0,454.2) rotate(-90)" font-family="Liberation Serif" font-size="7" text-anchor="middle" fill="#222">Σ(SE)²</text>
<polyline points="59.8,485.7 58.8,483.5 59.3,480.2 62,476.9 66.4,473.6 71.9,470.3 77.4,467.3 82.8,464.6 87.8,462.5 91,461" fill="none" stroke="#52bde9" stroke-width="4.2" stroke-linecap="round" stroke-linejoin="round"/>
<circle cx="97.1" cy="458.1" r="2.1" fill="#52bde9"/>
<circle cx="100.1" cy="456.7" r="2.1" fill="#52bde9"/>
<circle cx="101.7" cy="452" r="2.1" fill="#52bde9"/>
<circle cx="121.1" cy="447.1" r="2.1" fill="#52bde9"/>
<circle cx="123.9" cy="435.3" r="2.1" fill="#52bde9"/>
<circle cx="128.6" cy="443.9" r="2.1" fill="#52bde9"/>
<circle cx="198.6" cy="376" r="2.1" fill="#f6aa38"/>
<circle cx="239.9" cy="385.6" r="2.1" fill="#f6aa38"/>
<circle cx="231.8" cy="389.1" r="2.1" fill="#f6aa38"/>
<circle cx="220.5" cy="398" r="2.1" fill="#f6aa38"/>
<circle cx="211.6" cy="402.7" r="2.1" fill="#f6aa38"/>
<circle cx="204" cy="406.9" r="2.1" fill="#f6aa38"/>
<circle cx="186.3" cy="415.8" r="2.1" fill="#f6aa38"/>
<circle cx="164" cy="428" r="2.1" fill="#f6aa38"/>
<text x="85.00" y="441.9" font-family="Liberation Sans" font-weight="bold" font-size="14.27" text-anchor="middle" fill="#1b9fd3">I</text>
<text x="190.60" y="396.7" font-family="Liberation Sans" font-weight="bold" font-size="14.27" text-anchor="middle" fill="#e07f22">II</text>
<text x="388.4" y="361.9" font-family="Liberation Sans" font-size="14.5" text-anchor="middle" fill="#222" font-weight="normal" >10000P</text>
<line x1="289.4" y1="362.4" x2="289.4" y2="492.0" stroke="#2a2a2a" stroke-width="1.9"/>
<line x1="288.5" y1="491.1" x2="488" y2="491.1" stroke="#2a2a2a" stroke-width="1.9"/>
<line x1="286.79999999999995" y1="368.3" x2="289.4" y2="368.3" stroke="#555" stroke-width="0.8"/>
<text transform="translate(285.5,373.1) scale(0.935,1)" font-family="Liberation Sans" font-size="15.5" text-anchor="end" fill="#1e1e1e">1.0</text>
<line x1="286.79999999999995" y1="426.4" x2="289.4" y2="426.4" stroke="#555" stroke-width="0.8"/>
<text transform="translate(285.5,431.2) scale(0.935,1)" font-family="Liberation Sans" font-size="15.5" text-anchor="end" fill="#1e1e1e">0.5</text>
<line x1="388.3" y1="491.1" x2="388.3" y2="493.3" stroke="#555" stroke-width="0.8"/>
<text transform="translate(388.3,505.2) scale(0.96,1)" font-family="Liberation Sans" font-size="15.5" text-anchor="middle" fill="#1e1e1e">0.5</text>
<line x1="479.1" y1="491.1" x2="479.1" y2="493.3" stroke="#555" stroke-width="0.8"/>
<text transform="translate(479.1,505.2) scale(0.96,1)" font-family="Liberation Sans" font-size="15.5" text-anchor="middle" fill="#1e1e1e">1.0</text>
<rect x="408.2" y="427.5" width="80.40000000000003" height="54.69999999999999" fill="#fff" stroke="#aaa" stroke-width="1.3"/>
<line x1="422.6" y1="429.6" x2="422.6" y2="471" stroke="#444" stroke-width="0.8"/>
<line x1="422.6" y1="471" x2="488.6" y2="471" stroke="#444" stroke-width="0.8"/>
<line x1="422.6" y1="456.3" x2="432.875" y2="456.3" stroke="#888" stroke-width="0.7" stroke-dasharray="2 1.5"/>
<line x1="432.875" y1="456.3" x2="432.875" y2="471" stroke="#888" stroke-width="0.6" stroke-dasharray="1.5 1.5"/>
<polyline points="425.30,430.30 432.88,456.30 440.45,463.10 448.03,465.80 455.60,467.90 463.18,468.70 470.75,469.00 478.32,469.20 485.90,469.50" fill="none" stroke="#e5262b" stroke-width="1.5" stroke-linejoin="round"/>
<text x="425.30" y="477.6" font-family="Liberation Sans" font-size="6.3" text-anchor="middle" fill="#333" font-weight="normal" >1</text>
<text x="432.88" y="477.6" font-family="Liberation Sans" font-size="6.3" text-anchor="middle" fill="#333" font-weight="normal" >2</text>
<text x="440.45" y="477.6" font-family="Liberation Sans" font-size="6.3" text-anchor="middle" fill="#333" font-weight="normal" >3</text>
<text x="448.03" y="477.6" font-family="Liberation Sans" font-size="6.3" text-anchor="middle" fill="#333" font-weight="normal" >4</text>
<text x="455.60" y="477.6" font-family="Liberation Sans" font-size="6.3" text-anchor="middle" fill="#333" font-weight="normal" >5</text>
<text x="463.18" y="477.6" font-family="Liberation Sans" font-size="6.3" text-anchor="middle" fill="#333" font-weight="normal" >6</text>
<text x="470.75" y="477.6" font-family="Liberation Sans" font-size="6.3" text-anchor="middle" fill="#333" font-weight="normal" >7</text>
<text x="478.32" y="477.6" font-family="Liberation Sans" font-size="6.3" text-anchor="middle" fill="#333" font-weight="normal" >8</text>
<text x="485.90" y="477.6" font-family="Liberation Sans" font-size="6.3" text-anchor="middle" fill="#333" font-weight="normal" >9</text>
<text x="451.81" y="481.8" font-family="Liberation Sans" font-size="6.3" text-anchor="middle" fill="#333" font-weight="normal" >K</text>
<text transform="translate(421.5,433) rotate(-90)" font-family="Liberation Sans" font-size="5.6" font-weight="bold" text-anchor="middle" fill="#333">4</text>
<text transform="translate(421.5,451.2) rotate(-90)" font-family="Liberation Sans" font-size="5.6" font-weight="bold" text-anchor="middle" fill="#333">2</text>
<text transform="translate(415.20000000000005,449.8) rotate(-90)" font-family="Liberation Serif" font-size="7" text-anchor="middle" fill="#222">Σ(SE)²</text>
<circle cx="298.2" cy="485.6" r="2.1" fill="#52bde9"/>
<circle cx="297.5" cy="481.4" r="2.1" fill="#52bde9"/>
<circle cx="299.2" cy="478.4" r="2.1" fill="#52bde9"/>
<circle cx="300.8" cy="477" r="2.1" fill="#52bde9"/>
<circle cx="304.6" cy="473.6" r="2.1" fill="#52bde9"/>
<circle cx="318.3" cy="464.4" r="2.1" fill="#52bde9"/>
<circle cx="320.9" cy="462.8" r="2.1" fill="#52bde9"/>
<circle cx="323.6" cy="461.4" r="2.1" fill="#52bde9"/>
<circle cx="326.3" cy="460.1" r="2.1" fill="#52bde9"/>
<circle cx="327.2" cy="459.7" r="2.1" fill="#52bde9"/>
<circle cx="330.6" cy="457.9" r="2.1" fill="#52bde9"/>
<circle cx="334" cy="455.8" r="2.1" fill="#52bde9"/>
<circle cx="336.1" cy="454.5" r="2.1" fill="#52bde9"/>
<circle cx="338.5" cy="453.5" r="2.1" fill="#52bde9"/>
<circle cx="346.3" cy="449.7" r="2.1" fill="#52bde9"/>
<circle cx="349.8" cy="448" r="2.1" fill="#52bde9"/>
<circle cx="357.3" cy="443.8" r="2.1" fill="#52bde9"/>
<circle cx="360" cy="442.8" r="2.1" fill="#52bde9"/>
<circle cx="365.1" cy="439.8" r="2.1" fill="#52bde9"/>
<circle cx="366.9" cy="437.1" r="2.1" fill="#52bde9"/>
<circle cx="374.4" cy="435" r="2.1" fill="#f6aa38"/>
<circle cx="479.2" cy="367.8" r="2.1" fill="#f6aa38"/>
<circle cx="438.5" cy="398" r="2.1" fill="#f6aa38"/>
<circle cx="425" cy="406.7" r="2.1" fill="#f6aa38"/>
<circle cx="413" cy="413.8" r="2.1" fill="#f6aa38"/>
<circle cx="410.7" cy="415.3" r="2.1" fill="#f6aa38"/>
<circle cx="397.1" cy="422.7" r="2.1" fill="#f6aa38"/>
<circle cx="393.8" cy="423.6" r="2.1" fill="#f6aa38"/>
<circle cx="390" cy="426.9" r="2.1" fill="#f6aa38"/>
<circle cx="383.1" cy="430.5" r="2.1" fill="#f6aa38"/>
<text x="329.50" y="438.7" font-family="Liberation Sans" font-weight="bold" font-size="13.99" text-anchor="middle" fill="#1b9fd3">I</text>
<text x="418.85" y="389.2" font-family="Liberation Sans" font-weight="bold" font-size="13.58" text-anchor="middle" fill="#e07f22">II</text>
<text x="629.5" y="362.3" font-family="Liberation Sans" font-size="14.5" text-anchor="middle" fill="#222" font-weight="normal" >1S</text>
<line x1="530" y1="363" x2="530" y2="491.5" stroke="#2a2a2a" stroke-width="1.9"/>
<line x1="529.1" y1="490.6" x2="727.4" y2="490.6" stroke="#2a2a2a" stroke-width="1.9"/>
<line x1="527.4" y1="367.8" x2="530" y2="367.8" stroke="#555" stroke-width="0.8"/>
<text transform="translate(526.1,372.6) scale(0.935,1)" font-family="Liberation Sans" font-size="15.5" text-anchor="end" fill="#1e1e1e">1.0</text>
<line x1="527.4" y1="426.4" x2="530" y2="426.4" stroke="#555" stroke-width="0.8"/>
<text transform="translate(526.1,431.2) scale(0.935,1)" font-family="Liberation Sans" font-size="15.5" text-anchor="end" fill="#1e1e1e">0.5</text>
<line x1="628.4" y1="490.6" x2="628.4" y2="492.8" stroke="#555" stroke-width="0.8"/>
<text transform="translate(628.4,505.4) scale(0.96,1)" font-family="Liberation Sans" font-size="15.5" text-anchor="middle" fill="#1e1e1e">0.5</text>
<line x1="719" y1="490.6" x2="719" y2="492.8" stroke="#555" stroke-width="0.8"/>
<text transform="translate(719,505.4) scale(0.96,1)" font-family="Liberation Sans" font-size="15.5" text-anchor="middle" fill="#1e1e1e">1.0</text>
<rect x="647.7" y="430.6" width="81.69999999999993" height="54.799999999999955" fill="#fff" stroke="#aaa" stroke-width="1.3"/>
<line x1="663.4" y1="431.8" x2="663.4" y2="474.4" stroke="#444" stroke-width="0.8"/>
<line x1="663.4" y1="474.4" x2="726.5" y2="474.4" stroke="#444" stroke-width="0.8"/>
<line x1="663.4" y1="463.3" x2="673.65" y2="463.3" stroke="#888" stroke-width="0.7" stroke-dasharray="2 1.5"/>
<line x1="673.65" y1="463.3" x2="673.65" y2="474.4" stroke="#888" stroke-width="0.6" stroke-dasharray="1.5 1.5"/>
<polyline points="666.10,433.10 673.65,463.80 681.20,470.10 688.75,471.30 696.30,472.10 703.85,472.30 711.40,472.60 718.95,472.60 726.50,472.70" fill="none" stroke="#e5262b" stroke-width="1.5" stroke-linejoin="round"/>
<text x="668.90" y="481.0" font-family="Liberation Sans" font-size="6.3" text-anchor="middle" fill="#333" font-weight="normal" >1</text>
<text x="676.45" y="481.0" font-family="Liberation Sans" font-size="6.3" text-anchor="middle" fill="#333" font-weight="normal" >2</text>
<text x="684.00" y="481.0" font-family="Liberation Sans" font-size="6.3" text-anchor="middle" fill="#333" font-weight="normal" >3</text>
<text x="691.55" y="481.0" font-family="Liberation Sans" font-size="6.3" text-anchor="middle" fill="#333" font-weight="normal" >4</text>
<text x="699.10" y="481.0" font-family="Liberation Sans" font-size="6.3" text-anchor="middle" fill="#333" font-weight="normal" >5</text>
<text x="706.65" y="481.0" font-family="Liberation Sans" font-size="6.3" text-anchor="middle" fill="#333" font-weight="normal" >6</text>
<text x="714.20" y="481.0" font-family="Liberation Sans" font-size="6.3" text-anchor="middle" fill="#333" font-weight="normal" >7</text>
<text x="721.75" y="481.0" font-family="Liberation Sans" font-size="6.3" text-anchor="middle" fill="#333" font-weight="normal" >8</text>
<text x="729.30" y="481.0" font-family="Liberation Sans" font-size="6.3" text-anchor="middle" fill="#333" font-weight="normal" >9</text>
<text x="695.33" y="485.2" font-family="Liberation Sans" font-size="6.3" text-anchor="middle" fill="#333" font-weight="normal" >K</text>
<text transform="translate(662.3,443.7) rotate(-90)" font-family="Liberation Sans" font-size="5.6" font-weight="bold" text-anchor="middle" fill="#333">4</text>
<text transform="translate(662.3,458) rotate(-90)" font-family="Liberation Sans" font-size="5.6" font-weight="bold" text-anchor="middle" fill="#333">2</text>
<text transform="translate(656.0,452.6) rotate(-90)" font-family="Liberation Serif" font-size="7" text-anchor="middle" fill="#222">Σ(SE)²</text>
<circle cx="538.4" cy="485.3" r="2.1" fill="#52bde9"/>
<circle cx="540.7" cy="483.9" r="2.1" fill="#52bde9"/>
<circle cx="543.6" cy="481.9" r="2.1" fill="#52bde9"/>
<circle cx="544.2" cy="483.7" r="2.1" fill="#52bde9"/>
<circle cx="548.3" cy="479.5" r="2.1" fill="#52bde9"/>
<circle cx="551" cy="477.9" r="2.1" fill="#52bde9"/>
<circle cx="552.5" cy="482.6" r="2.1" fill="#52bde9"/>
<circle cx="559.3" cy="485" r="2.1" fill="#52bde9"/>
<circle cx="559.9" cy="474" r="2.1" fill="#52bde9"/>
<circle cx="562.8" cy="472.9" r="2.1" fill="#52bde9"/>
<circle cx="563.1" cy="470.1" r="2.1" fill="#52bde9"/>
<circle cx="565.6" cy="478.7" r="2.1" fill="#52bde9"/>
<circle cx="567.5" cy="481.4" r="2.1" fill="#52bde9"/>
<circle cx="571.9" cy="480.8" r="2.1" fill="#52bde9"/>
<circle cx="576.9" cy="467.2" r="2.1" fill="#52bde9"/>
<circle cx="583.2" cy="457.2" r="2.1" fill="#52bde9"/>
<circle cx="590.8" cy="465.8" r="2.1" fill="#52bde9"/>
<circle cx="602.1" cy="455.9" r="2.1" fill="#52bde9"/>
<circle cx="616.2" cy="448.3" r="2.1" fill="#f6aa38"/>
<circle cx="627.6" cy="443" r="2.1" fill="#f6aa38"/>
<circle cx="632" cy="440.5" r="2.1" fill="#f6aa38"/>
<circle cx="634.8" cy="437.8" r="2.1" fill="#f6aa38"/>
<circle cx="637.9" cy="437.8" r="2.1" fill="#f6aa38"/>
<circle cx="718.5" cy="368.5" r="2.1" fill="#f6aa38"/>
<circle cx="705.4" cy="380.4" r="2.1" fill="#f6aa38"/>
<circle cx="695.9" cy="393.6" r="2.1" fill="#f6aa38"/>
<circle cx="684.8" cy="405.8" r="2.1" fill="#f6aa38"/>
<circle cx="674.5" cy="405.8" r="2.1" fill="#f6aa38"/>
<circle cx="656.7" cy="424.3" r="2.1" fill="#f6aa38"/>
<circle cx="650.2" cy="430.1" r="2.1" fill="#f6aa38"/>
<circle cx="644.8" cy="432.4" r="2.1" fill="#f6aa38"/>
<text x="575.70" y="446.5" font-family="Liberation Sans" font-weight="bold" font-size="13.44" text-anchor="middle" fill="#1b9fd3">I</text>
<text x="664.75" y="397.5" font-family="Liberation Sans" font-weight="bold" font-size="14.81" text-anchor="middle" fill="#e07f22">II</text>
<text transform="translate(16.4,512) rotate(-90)" font-family="Liberation Serif" font-size="15.5" fill="#222">Motility (V<tspan font-size="8.5" dy="3">M</tspan><tspan dy="-3">)</tspan></text>
<text x="30.4" y="534.1" font-family="Liberation Serif" font-size="15.5" fill="#222">Growth (V<tspan font-size="8.5" dy="3">G</tspan><tspan dy="-3">)</tspan></text>
<polyline points="30.7,477 30.7,513.3 58,513.3" fill="none" stroke="#9a9a9a" stroke-width="2"/>
<path d="M30.7,468.9 L25.5,480.8 L30.7,477.5 L35.9,480.8 Z" fill="#d0d0d0" stroke="#999" stroke-width="0.8"/>
<path d="M68.1,513.3 L55.8,508.3 L59.4,513.3 L55.8,518.5 Z" fill="#d0d0d0" stroke="#999" stroke-width="0.8"/>
<text x="1.3" y="581" font-family="Liberation Sans" font-size="19" text-anchor="start" fill="#111" font-weight="bold" >c</text>
<text x="137.6" y="594" font-family="Liberation Sans" font-size="14.5" text-anchor="middle" fill="#222" font-weight="normal" >1P-G0</text>
<line x1="32" y1="597.4" x2="233" y2="597.4" stroke="#555" stroke-width="1.1"/>
<text x="32.90" y="613.1" font-family="Liberation Sans" font-weight="bold" font-size="14.54" text-anchor="middle" fill="#1b9fd3">I</text>
<text x="99.55" y="613.1" font-family="Liberation Sans" font-weight="bold" font-size="14.54" text-anchor="middle" fill="#e07f22">II</text>
<text x="166.10" y="613.1" font-family="Liberation Sans" font-weight="bold" font-size="14.54" text-anchor="middle" fill="#2845a0">III</text>
<text x="232.60" y="613.1" font-family="Liberation Sans" font-weight="bold" font-size="14.54" text-anchor="middle" fill="#a8228e">IV</text>
<g clip-path="url(#cp1)">
<circle cx="33.4" cy="649.9" r="32.5" fill="url(#pd1)"/>
<circle cx="32.5" cy="648.3" r="3.6" fill="url(#ps1_1)"/>
</g>
<circle cx="33.4" cy="649.9" r="32.0" fill="none" stroke="#151515" stroke-width="1" opacity="0.85"/>
<g clip-path="url(#cp2)">
<circle cx="100.2" cy="649.8" r="32.5" fill="url(#pd2)"/>
<circle cx="124.2" cy="639.8" r="12" fill="url(#ps2_1)"/>
<circle cx="124.2" cy="663.8" r="10" fill="url(#ps2_2)"/>
<path d="M89.1,641.5 L89.0,640.4 L89.5,640.5 L90.0,640.7 L90.2,640.2 L90.6,640.0 L91.1,640.3 L91.3,639.4 L91.7,639.1 L92.1,638.5 L92.4,637.5 L92.8,636.4 L93.4,636.9 L93.9,637.3 L94.4,638.1 L94.9,637.9 L95.4,637.7 L95.8,638.5 L96.2,638.6 L96.8,637.2 L97.4,636.9 L97.7,637.5 L98.1,638.0 L98.8,637.1 L99.4,636.8 L99.7,637.5 L100.2,637.7 L101.2,636.6 L101.1,638.0 L100.7,639.7 L101.3,639.6 L102.2,638.7 L103.2,638.0 L103.8,638.0 L104.3,638.1 L103.6,639.8 L103.4,640.6 L104.4,640.1 L104.7,640.2 L104.7,640.8 L104.9,641.1 L105.3,641.2 L106.0,641.0 L107.5,640.3 L108.7,639.8 L108.8,640.3 L108.3,641.2 L108.6,641.5 L109.5,641.5 L109.3,642.1 L110.1,642.1 L110.1,642.7 L110.9,642.7 L109.9,643.8 L109.9,644.3 L108.8,645.2 L108.6,645.7 L109.5,645.8 L110.6,645.8 L110.0,646.4 L110.7,646.6 L111.2,647.0 L111.6,647.3 L110.6,648.0 L109.1,648.7 L110.4,648.9 L110.2,649.4 L109.1,650.0 L107.6,650.5 L108.8,650.9 L109.2,651.3 L109.1,651.8 L108.6,652.2 L109.4,652.7 L110.1,653.3 L109.4,653.7 L108.4,654.0 L107.9,654.4 L108.1,654.9 L108.0,655.3 L108.7,656.0 L109.0,656.6 L107.8,656.6 L108.0,657.2 L109.5,658.4 L109.0,658.8 L108.9,659.3 L107.5,659.2 L106.0,658.9 L105.6,659.2 L106.1,660.1 L105.5,660.3 L104.4,660.0 L103.9,660.1 L103.6,660.5 L103.2,660.7 L102.7,660.8 L102.4,661.1 L102.1,661.3 L101.9,661.7 L102.5,663.3 L102.0,663.3 L101.6,663.4 L101.3,663.8 L100.7,663.5 L100.4,664.0 L99.4,662.7 L99.3,663.7 L99.2,664.5 L98.7,664.6 L98.2,664.2 L97.7,664.0 L97.4,664.8 L97.1,665.5 L96.5,664.4 L96.2,665.5 L95.9,667.0 L95.4,665.6 L94.9,664.2 L94.5,663.6 L94.2,665.1 L93.8,665.1 L93.4,666.2 L93.1,666.2 L92.9,664.5 L92.6,664.5 L92.1,665.2 L91.9,664.9 L92.0,663.0 L91.9,662.1 L91.7,661.7 L91.5,661.6 L90.9,662.8 L90.4,663.2 L89.9,663.8 L89.6,663.7 L89.3,663.5 L89.0,663.5 L88.7,663.2 L88.2,663.5 L87.8,663.6 L87.3,663.6 L86.8,663.8 L86.6,663.3 L86.5,662.7 L87.3,661.1 L86.5,661.6 L85.8,661.8 L85.9,661.1 L85.5,661.0 L84.3,661.7 L84.0,661.4 L84.0,660.9 L84.6,660.0 L83.5,660.4 L82.6,660.6 L82.6,660.2 L83.5,659.1 L83.3,658.8 L82.8,658.8 L83.9,657.8 L83.6,657.6 L82.4,658.0 L80.9,658.4 L81.7,657.7 L81.1,657.5 L82.7,656.5 L82.3,656.4 L81.6,656.3 L81.3,656.1 L80.9,655.9 L81.7,655.4 L80.9,655.3 L79.8,655.2 L78.7,655.1 L78.5,654.8 L78.5,654.4 L79.6,653.9 L80.0,653.5 L79.4,653.2 L79.8,652.8 L79.1,652.5 L79.3,652.2 L80.1,651.8 L80.5,651.5 L80.8,651.1 L81.9,650.8 L82.6,650.6 L81.0,650.1 L80.6,649.7 L80.5,649.3 L80.9,649.0 L80.6,648.5 L81.0,648.2 L81.6,648.0 L82.3,647.8 L82.1,647.4 L81.8,646.9 L82.1,646.6 L83.3,646.7 L83.0,646.2 L81.7,645.1 L83.0,645.3 L83.6,645.2 L82.8,644.3 L81.8,643.1 L82.7,643.2 L83.8,643.4 L84.7,643.6 L84.7,643.0 L84.6,642.4 L83.9,641.0 L84.0,640.4 L85.4,641.3 L85.4,640.5 L85.0,639.1 L85.6,639.1 L86.9,640.2 L87.8,640.7 L88.3,640.8Z" fill="url(#cg2_3)" opacity="1" stroke="#a0a0a0" stroke-width="0.8" stroke-opacity="0.6"/>
<g clip-path="url(#cc2_3)"><rect x="67.7" y="617.3" width="65.0" height="65.0" filter="url(#grainL)" opacity="0.2"/><rect x="67.7" y="617.3" width="65.0" height="65.0" filter="url(#grainD)" opacity="0.25"/></g>
<circle cx="99.5" cy="649.5" r="5.5" fill="url(#ps2_4)"/>
</g>
<circle cx="100.2" cy="649.8" r="32.0" fill="none" stroke="#151515" stroke-width="1" opacity="0.85"/>
<g clip-path="url(#cp3)">
<circle cx="166.5" cy="650" r="32.5" fill="url(#pd3)"/>
<path d="M193.1,651.0 L193.9,651.9 L193.1,652.7 L191.1,653.3 L192.6,654.3 L193.6,655.3 L191.8,655.9 L192.3,656.8 L193.1,657.9 L193.3,658.8 L193.5,659.8 L193.0,660.5 L192.1,661.1 L190.7,661.4 L190.2,662.1 L190.5,663.1 L190.3,664.0 L189.9,664.7 L189.7,665.5 L190.0,666.7 L190.2,667.9 L189.2,668.2 L188.8,668.9 L188.4,669.7 L188.0,670.4 L187.1,670.7 L185.8,670.5 L184.9,670.7 L184.3,671.2 L184.0,672.0 L183.2,672.2 L182.4,672.4 L181.9,673.0 L181.4,673.5 L181.3,674.8 L181.2,676.1 L180.4,676.3 L180.1,677.3 L179.2,677.5 L178.4,677.5 L177.8,678.1 L177.2,678.5 L176.7,679.6 L176.3,680.9 L175.2,680.2 L174.1,678.8 L173.4,679.0 L172.9,680.4 L172.3,681.3 L171.3,680.1 L170.6,680.9 L169.8,680.8 L169.1,680.5 L168.3,680.3 L167.5,680.1 L166.8,679.6 L166.1,679.1 L165.3,680.2 L164.5,681.5 L163.8,680.6 L163.0,680.4 L162.3,680.2 L161.7,679.3 L161.0,678.9 L160.1,679.6 L159.7,678.1 L159.1,677.7 L158.3,677.7 L157.6,677.5 L156.9,677.2 L156.1,677.2 L155.0,677.8 L154.1,678.0 L153.5,677.4 L153.1,676.5 L152.1,676.6 L151.4,676.2 L150.8,675.7 L150.4,674.9 L150.0,674.1 L149.3,673.6 L148.9,672.8 L147.8,673.0 L147.1,672.5 L146.8,671.6 L146.3,670.9 L146.6,669.5 L147.6,667.6 L147.2,667.0 L145.0,667.7 L144.2,667.3 L145.2,665.6 L145.4,664.6 L144.3,664.3 L143.5,663.8 L145.0,662.2 L143.4,662.1 L142.8,661.5 L142.1,660.9 L140.8,660.5 L140.2,659.8 L140.6,658.7 L141.4,657.6 L140.9,656.9 L141.1,656.0 L140.9,655.2 L141.6,654.2 L141.3,653.5 L140.7,652.7 L139.9,651.9 L139.1,651.0 L139.7,650.1 L139.9,649.3 L139.2,648.3 L138.6,647.4 L139.9,646.7 L140.7,645.9 L140.7,645.1 L141.1,644.3 L141.6,643.6 L141.9,642.8 L143.0,642.3 L143.2,641.6 L143.6,640.9 L143.5,639.9 L144.1,639.4 L144.0,638.4 L144.2,637.6 L145.1,637.3 L145.4,636.5 L144.8,635.1 L144.2,633.7 L144.1,632.5 L145.9,632.9 L147.0,632.8 L146.4,631.1 L147.1,630.7 L147.8,630.3 L148.0,629.3 L148.4,628.5 L148.8,627.6 L149.6,627.5 L150.6,627.4 L151.5,627.4 L152.7,627.9 L153.2,627.3 L153.4,626.0 L153.7,624.9 L154.2,624.3 L155.1,624.4 L155.7,623.7 L156.2,623.0 L157.1,622.9 L157.9,623.1 L158.7,622.9 L159.6,623.4 L160.4,623.6 L161.3,624.6 L162.0,624.2 L162.6,623.5 L163.2,622.6 L163.9,622.9 L164.6,622.3 L165.3,622.0 L166.0,621.4 L166.8,621.1 L167.6,620.2 L168.3,620.8 L169.1,620.8 L169.9,621.0 L170.5,622.0 L171.4,621.4 L172.3,620.7 L173.1,620.6 L173.9,620.9 L174.3,622.4 L174.6,624.0 L175.2,624.5 L176.5,623.0 L177.3,623.1 L177.6,624.4 L178.4,624.6 L179.3,624.5 L179.8,625.2 L179.4,627.5 L180.4,627.3 L181.1,627.6 L181.6,628.1 L182.5,628.1 L183.9,627.5 L184.5,628.1 L184.3,629.6 L185.4,629.6 L185.4,630.8 L186.3,630.9 L186.5,631.8 L186.3,633.2 L186.9,633.6 L187.9,633.8 L188.3,634.5 L188.7,635.2 L189.7,635.5 L191.4,635.4 L191.3,636.5 L191.2,637.5 L191.0,638.6 L191.4,639.4 L191.9,640.0 L192.6,640.7 L192.1,641.8 L191.5,642.9 L191.5,643.7 L192.4,644.3 L192.7,645.1 L192.7,646.0 L192.6,646.8 L192.1,647.7 L191.6,648.6 L191.0,649.4 L191.5,650.2Z" fill="url(#cg3_1)" opacity="1" stroke="#909090" stroke-width="0.8" stroke-opacity="0.6"/>
<g clip-path="url(#cc3_1)"><rect x="134.0" y="617.5" width="65.0" height="65.0" filter="url(#grainL)" opacity="0.18"/><rect x="134.0" y="617.5" width="65.0" height="65.0" filter="url(#grainD)" opacity="0.25"/></g>
<path d="M170.5,649.6L187.6,651.9M169.7,649.5L184.1,651.8M168.5,649.8L181.5,654.8M168.6,650.1L182.4,657.6M168.2,650.1L183.2,659.8M168.7,651.1L180.8,663.1M167.7,650.5L179.0,665.2M168.1,652.0L175.4,666.1M167.2,651.6L172.2,668.5M167.2,652.1L171.0,668.0M166.7,651.0L168.2,667.1M166.2,652.2L164.6,666.9M166.0,651.2L162.7,664.6M165.3,652.6L161.2,664.2M165.6,650.8L160.0,662.5M164.7,651.6L154.6,666.0M164.6,650.9L154.9,661.1M163.6,651.3L151.8,660.6M164.7,650.0L148.9,659.4M162.9,650.2L150.9,654.2M162.6,649.8L147.8,652.9M164.3,649.0L144.6,649.0M163.7,649.0L151.6,648.9M163.2,648.1L145.4,643.3M162.8,647.4L149.4,641.6M163.5,647.0L152.0,639.6M164.5,647.2L154.4,638.4M164.3,647.1L154.4,638.3M164.3,645.6L157.7,635.3M164.9,646.4L158.1,635.5M165.2,645.5L160.9,633.4M165.6,645.1L162.5,631.5M166.1,645.1L164.6,628.4M167.0,645.6L168.9,631.4M167.4,645.3L171.2,630.2M167.3,646.6L172.1,632.2M168.1,646.3L176.2,633.0M167.8,647.4L178.9,634.1M168.7,646.7L180.9,634.0M169.7,646.4L178.4,639.4M169.2,647.5L181.0,641.3M169.3,648.0L183.4,642.9M168.3,648.7L183.7,645.9M168.6,648.9L187.6,648.5" stroke="#383838" stroke-width="0.9" opacity="0.5" fill="none" stroke-linecap="round"/>
<path d="M170.7,649.3L173.2,649.2L175.7,649.5L178.2,649.0L180.7,648.2M180.7,648.2L184.3,646.2M180.7,648.2L183.2,648.5L185.7,648.3L188.2,649.2L190.7,648.2M172.2,649.9L174.7,649.9L177.2,650.0L179.7,649.8M179.7,649.8L184.0,652.2M179.7,649.8L182.2,649.7L184.7,650.6L187.1,651.7L189.4,652.5M189.4,652.5L194.1,650.8M189.4,652.5L191.7,654.0L194.3,654.1L196.5,655.8M196.5,655.8L198.9,657.2M196.5,655.8M175.1,652.1L177.6,652.5L180.2,652.7L182.3,654.3L184.6,655.2L186.7,656.9L189.3,657.1M189.3,657.1L190.9,658.5M189.3,657.1L191.2,659.1L193.2,660.8M193.2,660.8L196.5,664.2M193.2,660.8M172.1,651.5L174.3,652.6L176.6,653.7L178.9,654.7M178.9,654.7L181.2,654.7M178.9,654.7L181.5,654.9M181.5,654.9L184.7,654.4M181.5,654.9L184.2,654.9L186.1,656.9L187.9,659.0L190.8,658.7M173.5,653.5L175.5,655.0M175.5,655.0L176.7,656.6M175.5,655.0L177.4,656.7L178.9,658.8L180.8,660.4M180.8,660.4L182.0,663.7M180.8,660.4L183.2,661.3L185.8,662.1L187.1,664.5M172.6,654.0L174.6,655.5L176.3,657.4M176.3,657.4L181.1,658.1M176.3,657.4L178.7,658.4L181.2,659.2L182.9,661.2M182.9,661.2L183.7,663.5M182.9,661.2L184.8,662.7M174.0,657.6L175.4,659.7L177.2,661.5L179.1,663.2L180.8,665.0M180.8,665.0L184.2,666.7M180.8,665.0L183.0,666.3M183.0,666.3L185.1,667.0M183.0,666.3L185.7,667.1M185.7,667.1L187.1,669.5M185.7,667.1L187.1,669.3M187.1,669.3L191.6,670.5M187.1,669.3M170.0,653.8L171.6,655.7M171.6,655.7L172.4,658.9M171.6,655.7L172.7,658.0M172.7,658.0L175.9,660.7M172.7,658.0L173.7,660.4M173.7,660.4L176.3,662.5M173.7,660.4L175.2,662.4L177.0,664.2L178.5,666.2L179.8,668.3M179.8,668.3L184.3,670.0M179.8,668.3L180.4,670.9M180.4,670.9L181.0,675.5M180.4,670.9M168.9,653.7L170.2,655.9L171.0,658.3L171.8,660.6L172.4,663.1L173.4,665.4M173.4,665.4L176.5,667.5M173.4,665.4L174.3,667.8L176.3,669.6M170.6,659.0L170.9,661.6M170.9,661.6L172.1,663.4M170.9,661.6L171.0,664.2L170.8,666.8L171.2,669.3M171.2,669.3L173.4,672.3M171.2,669.3L171.7,671.7M169.3,658.3L170.2,660.7L171.3,662.9L171.6,665.5M171.6,665.5L171.0,669.1M171.6,665.5L173.2,667.5L174.1,669.9M174.1,669.9L173.1,674.4M174.1,669.9L175.3,672.1M175.3,672.1L174.8,677.1M175.3,672.1M167.0,653.0L167.5,655.5L167.4,658.0M167.4,658.0L169.9,661.4M167.4,658.0L168.1,660.5L168.9,662.9L168.9,665.4L169.3,667.9L168.6,670.5M168.6,670.5L167.7,672.4M168.6,670.5L169.3,672.9M169.3,672.9L168.7,676.2M169.3,672.9L169.0,675.4L170.6,677.8M166.5,654.2L166.6,656.7L166.7,659.2M166.7,659.2L164.4,662.9M166.7,659.2L166.2,661.7L166.6,664.2M166.6,664.2L168.0,667.6M166.6,664.2L165.9,666.7L165.2,669.1L165.7,671.7M165.7,671.7L166.8,673.5M165.7,671.7M165.6,655.6L164.9,658.0L164.1,660.4L163.1,662.7M163.1,662.7L163.9,665.3M163.1,662.7L161.9,665.0L161.6,667.5L161.6,670.1M161.6,670.1L162.1,672.9M161.6,670.1L162.3,672.8L162.3,675.3L161.3,677.7L161.5,680.3M161.5,680.3L159.3,684.6M161.5,680.3M165.5,653.8L164.7,656.2L164.0,658.5L163.5,661.0L163.4,663.5L163.9,666.2L163.4,668.6L162.4,671.0L162.3,673.5M162.3,673.5L159.9,676.7M162.3,673.5L163.1,676.2M163.2,657.7L162.0,660.0L161.6,662.5L160.9,664.9L160.8,667.5L160.3,669.9L160.2,672.5M160.2,672.5L158.1,675.1M160.2,672.5L160.4,675.1M161.3,657.9L160.6,660.4L159.2,662.5L157.4,664.4L155.8,666.3M155.8,666.3L155.2,668.4M155.8,666.3L153.3,667.7L151.2,669.3M161.3,655.8L159.9,657.9L158.8,660.2L156.8,661.9L154.6,663.3L153.6,665.7L151.6,667.3L149.9,669.2L149.4,671.9M149.4,671.9L144.9,674.0M149.4,671.9M158.6,657.5L156.7,659.2L155.0,661.0L153.2,662.7L151.0,664.1L149.7,666.3M149.7,666.3L146.3,667.3M149.7,666.3L147.7,667.8L147.0,670.6L146.0,673.0M162.6,652.3L160.6,653.8L159.0,655.7L157.1,657.3L155.5,659.4L153.2,660.5L151.0,661.8L148.6,662.8L147.5,665.4M157.3,654.7L155.2,656.1L153.1,657.4L151.3,659.2M151.3,659.2L148.2,659.7M151.3,659.2L149.0,660.2L146.5,661.1L143.8,661.2L141.5,662.3L139.1,663.2M160.0,652.5L157.9,654.0L155.9,655.5L154.0,657.1L152.1,658.8L150.2,660.4L148.1,661.9L146.9,664.4L145.5,666.7M145.5,666.7L143.8,671.2M145.5,666.7L144.3,669.1M144.3,669.1L142.7,672.1M144.3,669.1M155.7,653.1L153.5,654.4L151.1,655.2L148.6,655.6L146.6,657.3L144.2,658.1L141.8,658.8M155.2,651.4L152.8,651.8L150.4,652.8L148.1,653.8L145.5,653.7L143.0,654.1M143.0,654.1L140.9,653.5M143.0,654.1M162.4,649.2L159.9,649.4L157.4,649.7L154.9,650.0M154.9,650.0L150.9,652.7M154.9,650.0L152.5,650.6L150.0,650.8L147.5,651.2L145.1,652.1L142.5,651.5M142.5,651.5L139.2,650.7M142.5,651.5L140.0,651.4M155.7,649.0L153.2,649.4L150.7,649.8L148.2,649.5L145.8,650.8L143.4,652.1L140.9,652.5M157.5,647.2L155.1,646.3M155.1,646.3L152.4,646.8M155.1,646.3L152.8,645.5L150.4,644.8L148.3,643.1L145.8,642.6L143.2,642.4M143.2,642.4L139.0,642.8M143.2,642.4L141.3,640.4M157.0,646.4L154.6,645.6L152.2,644.7L150.0,643.3L147.6,642.8L145.4,641.5M145.4,641.5L141.8,642.4M145.4,641.5L143.2,640.1M143.2,640.1L141.6,638.9M143.2,640.1M159.3,645.9L157.2,644.4L155.3,642.8M155.3,642.8L153.1,642.5M155.3,642.8L153.2,641.4M153.2,641.4L148.4,641.4M153.2,641.4L150.6,640.9M150.6,640.9L148.0,637.4M150.6,640.9L148.1,640.4L145.8,639.4L144.0,637.4M158.8,644.4L156.8,642.9L154.4,642.0M154.4,642.0L152.0,641.4M154.4,642.0L151.9,641.5M151.9,641.5L149.9,638.6M151.9,641.5L149.2,641.3L146.7,640.8L143.9,641.0M143.9,641.0L141.4,638.0M143.9,641.0L141.7,639.6L139.3,639.0M157.8,641.8L155.5,640.8M155.5,640.8L153.4,636.8M155.5,640.8L154.0,638.6L152.0,637.1L149.9,635.7L148.0,634.0L146.3,632.2L144.9,630.0L141.9,629.7M141.9,629.7L137.9,629.5M141.9,629.7M163.4,646.0L161.6,644.2L160.2,642.1M160.2,642.1L159.3,638.8M160.2,642.1L158.1,640.7L156.1,639.2L154.8,636.9L153.4,634.8L152.6,632.2L151.1,630.2L149.0,628.6L148.7,625.7M159.4,639.4L158.0,637.4L156.0,635.8L154.9,633.5L153.9,631.0M153.9,631.0L150.9,629.8M153.9,631.0L153.0,628.7M153.0,628.7L150.4,627.3M153.0,628.7L150.3,627.5L148.1,626.1M160.4,639.2L158.6,637.3L156.9,635.5L155.2,633.6L153.7,631.6L151.4,630.2M151.4,630.2L148.8,629.3M151.4,630.2L150.6,627.7L150.3,624.8M164.3,643.1L163.5,640.8L162.7,638.4M162.7,638.4L162.7,634.8M162.7,638.4L161.9,636.0L160.7,633.8M160.7,633.8L158.7,632.0M160.7,633.8L160.4,631.3M160.4,631.3L161.1,626.9M160.4,631.3L159.3,629.0L159.3,626.3L158.6,624.0M158.6,624.0L159.7,619.5M158.6,624.0M164.3,641.1L163.9,638.6L163.6,636.1M163.6,636.1L164.4,633.5M163.6,636.1L163.2,633.6L161.8,631.4L161.6,628.9L162.2,626.2L163.0,623.5L162.7,621.0M164.9,639.7L164.1,637.3M164.1,637.3L161.5,634.2M164.1,637.3L163.0,635.0M163.0,635.0L163.7,632.9M163.0,635.0L163.0,632.4L162.2,630.0M162.2,630.0L163.1,625.7M162.2,630.0L160.7,627.8M160.7,627.8L161.3,625.1M160.7,627.8L161.3,625.1M161.3,625.1L162.1,621.8M161.3,625.1M166.5,637.8L166.2,635.3L165.3,632.9L166.2,630.3L167.4,627.8L167.4,625.3L169.0,622.9M167.0,642.0L167.0,639.5L166.4,636.9L166.2,634.5M166.2,634.5L163.8,630.9M166.2,634.5L166.8,632.0L167.5,629.5M167.5,629.5L168.5,627.1M167.5,629.5L167.0,627.0L167.8,624.5L166.8,622.0M166.8,622.0L165.7,618.8M166.8,622.0M168.9,639.4L169.2,636.9L169.2,634.4M169.2,634.4L172.0,630.5M169.2,634.4L170.3,632.1L171.6,629.8L173.1,627.6L173.3,625.1M173.3,625.1L173.2,620.2M173.3,625.1M170.3,640.0L171.9,638.0L172.8,635.6L172.9,633.0L173.8,630.6L175.1,628.4L177.0,626.5L176.8,623.7M176.8,623.7L176.5,618.9M176.8,623.7L177.2,621.2L178.7,619.1M171.0,640.5L171.7,638.0M171.7,638.0L172.0,634.6M171.7,638.0L172.1,635.5L172.3,632.9L173.6,630.7L175.6,628.8L177.2,626.9M177.2,626.9L180.8,624.2M177.2,626.9L178.7,624.8L179.1,622.2M170.7,642.7L171.9,640.5L173.1,638.3L174.7,636.3M174.7,636.3L176.5,634.8M174.7,636.3L176.6,634.6L178.4,632.8L180.1,631.0M180.1,631.0L182.0,629.7M180.1,631.0L181.7,629.1M181.7,629.1L182.6,624.7M181.7,629.1M173.2,641.3L174.9,639.5L177.2,638.2L179.1,636.5L180.1,634.1L181.1,631.6L183.3,630.3L183.8,627.4L184.3,624.6M169.8,646.0L171.6,644.2L173.4,642.4M173.4,642.4L174.8,637.9M173.4,642.4L175.3,640.9L177.3,639.3M177.3,639.3L180.5,638.7M177.3,639.3L178.6,637.1L180.3,635.2L181.8,633.2M181.8,633.2L183.4,629.6M181.8,633.2L183.6,631.5L186.5,630.8M173.9,644.1L176.1,643.0L178.4,641.9L180.7,641.0M180.7,641.0L184.0,641.1M180.7,641.0L183.3,640.4L185.7,639.8L187.8,638.2M175.2,645.2L177.3,643.7M177.3,643.7L181.4,643.0M177.3,643.7L179.7,643.1L182.1,642.2L184.2,640.9M184.2,640.9L189.0,641.5M184.2,640.9L186.4,639.7L188.1,637.4L190.0,635.7M190.0,635.7L192.4,633.2M190.0,635.7M173.0,647.0L175.3,645.9L177.5,644.7L179.9,643.9L182.3,643.2L184.7,642.5L187.2,642.1L189.1,640.0L191.7,639.8M171.8,647.8L174.3,647.4M174.3,647.4L177.5,645.8M174.3,647.4L176.7,646.8L179.0,645.8L181.4,644.8L183.8,644.3L186.0,642.9L188.0,641.0M188.0,641.0L191.4,641.4M188.0,641.0L190.3,639.9M171.4,648.8L173.9,648.4L176.4,648.2L178.8,647.4L181.3,647.2M181.3,647.2L185.2,649.1M181.3,647.2L183.8,647.5L186.2,646.3L188.7,645.8M188.7,645.8L192.5,643.4M188.7,645.8L191.3,646.4M191.3,646.4L194.2,644.7M191.3,646.4L193.6,644.7" stroke="#8a8a8a" stroke-width="0.7" opacity="0.3" fill="none" stroke-linecap="round"/>
<circle cx="176.5" cy="638" r="3" fill="url(#ps3_4)"/>
</g>
<circle cx="166.5" cy="650" r="32.0" fill="none" stroke="#151515" stroke-width="1" opacity="0.85"/>
<g clip-path="url(#cp4)">
<circle cx="233.3" cy="649.8" r="32.5" fill="url(#pd4)"/>
<path d="M222.4,638.7 L223.0,638.7 L223.4,638.6 L223.3,637.9 L224.1,638.2 L224.4,638.1 L225.1,638.3 L225.8,638.6 L225.6,637.8 L226.2,638.0 L226.2,637.5 L226.8,637.8 L227.0,637.5 L226.7,636.3 L226.6,635.3 L227.0,635.3 L227.6,635.7 L228.2,636.0 L227.8,634.3 L228.2,634.1 L228.9,634.9 L229.6,635.9 L229.8,635.4 L230.2,635.3 L230.5,635.2 L230.8,634.8 L231.0,634.0 L231.5,634.5 L231.9,635.0 L232.3,635.3 L232.7,635.7 L233.1,636.0 L233.5,635.9 L233.8,635.8 L234.2,635.8 L234.6,635.6 L235.0,635.9 L235.3,636.3 L235.8,636.1 L236.1,636.7 L236.5,636.8 L236.9,636.8 L237.5,636.1 L237.8,636.8 L238.0,637.5 L238.3,637.9 L238.5,638.4 L238.9,638.5 L239.8,637.7 L240.5,637.4 L241.1,637.4 L241.0,638.3 L241.7,638.2 L241.9,638.6 L243.1,638.0 L243.5,638.3 L244.0,638.5 L243.8,639.4 L243.2,640.6 L244.2,640.4 L245.3,640.2 L244.9,641.1 L244.4,642.0 L245.2,642.0 L246.3,642.0 L246.4,642.5 L247.0,642.8 L248.2,642.8 L247.8,643.4 L247.5,644.0 L247.8,644.3 L248.1,644.7 L248.8,644.9 L249.8,645.1 L250.9,645.3 L251.0,645.7 L251.8,646.0 L252.1,646.3 L251.3,646.8 L250.9,647.1 L251.5,647.4 L251.1,647.7 L251.5,648.0 L252.4,648.3 L252.1,648.6 L251.3,648.9 L251.8,649.2 L252.0,649.5 L252.3,649.8 L252.1,650.1 L252.4,650.5 L252.0,650.7 L252.2,651.1 L251.3,651.3 L251.0,651.6 L250.6,651.8 L250.5,652.1 L250.1,652.4 L249.0,652.4 L247.7,652.4 L247.4,652.6 L248.7,653.3 L249.3,653.9 L248.2,653.9 L247.4,653.9 L248.4,654.8 L248.4,655.2 L247.9,655.4 L247.3,655.5 L246.6,655.6 L245.8,655.6 L245.4,655.9 L245.3,656.4 L245.5,657.2 L245.1,657.5 L244.7,658.0 L243.6,657.8 L242.5,657.6 L242.1,658.0 L241.0,657.7 L240.6,658.1 L240.3,658.9 L239.6,659.0 L239.1,659.3 L238.3,659.3 L238.0,660.1 L237.2,660.0 L236.4,659.3 L235.9,659.9 L235.5,660.5 L234.8,659.9 L234.3,659.9 L233.9,660.4 L233.4,660.0 L233.0,660.0 L232.6,660.1 L232.2,660.5 L231.8,660.9 L231.3,661.4 L231.0,661.2 L230.7,661.3 L230.3,661.8 L229.7,662.8 L229.3,662.8 L228.9,663.1 L229.2,661.5 L228.8,661.8 L228.2,662.6 L228.0,662.6 L228.4,660.9 L227.9,661.5 L227.6,661.5 L227.5,661.2 L227.2,661.3 L226.7,661.7 L226.5,661.4 L226.3,661.3 L226.5,660.5 L226.4,660.1 L226.4,659.6 L225.8,659.9 L225.7,659.6 L225.3,659.6 L224.6,659.9 L223.9,660.1 L223.9,659.5 L224.0,658.7 L223.4,658.8 L223.2,658.3 L223.2,657.7 L222.5,657.7 L221.9,657.5 L222.0,656.8 L221.8,656.3 L221.2,656.1 L220.9,655.7 L220.3,655.4 L219.9,655.0 L219.3,654.7 L219.1,654.2 L218.8,653.7 L218.4,653.3 L218.4,652.8 L217.8,652.4 L217.9,651.9 L218.1,651.3 L219.7,650.6 L219.8,650.2 L219.1,649.9 L218.1,649.6 L219.3,649.2 L220.2,648.8 L219.3,648.4 L218.0,648.0 L218.5,647.6 L218.2,647.1 L218.2,646.7 L218.5,646.3 L219.9,646.0 L219.4,645.5 L218.9,645.0 L218.8,644.4 L218.5,643.9 L218.5,643.3 L218.9,643.0 L219.1,642.5 L220.3,642.5 L221.2,642.4 L221.1,641.8 L221.0,641.3 L221.4,641.0 L221.2,640.4 L221.5,640.0 L221.7,639.7 L222.3,639.6 L222.6,639.3Z" fill="url(#cg4_1)" opacity="1" stroke="#c0c0c0" stroke-width="0.7" stroke-opacity="0.5"/>
<g clip-path="url(#cc4_1)"><rect x="200.8" y="617.3" width="65.0" height="65.0" filter="url(#grainL)" opacity="0.2"/><rect x="200.8" y="617.3" width="65.0" height="65.0" filter="url(#grainD)" opacity="0.25"/></g>
<path d="M234.8,648.5L242.2,649.1M234.5,649.0L242.8,651.6M235.3,649.8L245.3,655.0M235.5,651.0L243.5,657.7M233.6,649.8L239.1,656.4M233.6,651.3L237.8,661.5M232.9,651.6L234.4,660.5M232.5,650.1L233.6,662.0M231.6,651.9L229.7,660.6M231.0,651.3L226.6,661.3M230.8,650.9L226.5,658.0M229.3,650.9L224.0,655.5M230.4,649.7L223.0,654.9M229.6,649.1L219.4,652.3M229.3,648.8L221.7,650.1M229.3,648.0L218.3,646.9M229.4,647.2L222.8,644.8M228.9,646.1L222.0,641.9M229.2,645.7L223.9,641.2M230.1,645.6L223.9,638.2M230.8,644.8L227.3,637.1M231.7,646.0L229.6,637.8M232.2,645.5L231.6,634.9M232.9,645.3L234.6,636.9M233.4,645.8L237.7,635.7M234.3,645.5L239.1,638.8M234.9,645.9L242.8,638.3M234.5,647.0L243.5,641.4M234.7,647.3L241.5,644.4M234.7,648.0L243.9,646.8" stroke="#8a8a8a" stroke-width="0.7" opacity="0.35" fill="none" stroke-linecap="round"/>
<circle cx="232.3" cy="648.3" r="3.8" fill="url(#ps4_3)"/>
</g>
<circle cx="233.3" cy="649.8" r="32.0" fill="none" stroke="#151515" stroke-width="1" opacity="0.85"/>
<text x="362.9" y="594.5" font-family="Liberation Sans" font-size="14.5" text-anchor="middle" fill="#222" font-weight="normal" >1P-G4</text>
<line x1="330.2" y1="597.8" x2="394.5" y2="597.8" stroke="#555" stroke-width="1.1"/>
<text x="329.20" y="613.1" font-family="Liberation Sans" font-weight="bold" font-size="14.54" text-anchor="middle" fill="#1b9fd3">I</text>
<text x="395.10" y="613.1" font-family="Liberation Sans" font-weight="bold" font-size="14.54" text-anchor="middle" fill="#e07f22">II</text>
<g clip-path="url(#cp5)">
<circle cx="328.5" cy="649.8" r="32.5" fill="url(#pd5)"/>
<rect x="296.0" y="617.3" width="65.0" height="65.0" filter="url(#grainL)" opacity="0.18"/><rect x="296.0" y="617.3" width="65.0" height="65.0" filter="url(#grainD)" opacity="0.22"/>
<path d="M332.8,650.3L335.3,650.3L337.8,650.2L340.3,650.7M340.3,650.7L342.9,649.5M340.3,650.7L342.8,650.3M342.8,650.3L345.3,649.2M342.8,650.3L345.3,650.8L347.8,650.6L350.3,651.6L352.6,653.1L355.1,653.5L357.6,653.6L360.2,652.9M332.9,650.9L335.4,651.0L337.8,651.8L340.3,652.1M340.3,652.1L344.7,650.7M340.3,652.1L342.7,652.7L345.2,653.0L347.8,652.3L350.3,652.8M350.3,652.8L352.3,652.1M350.3,652.8L352.7,653.5L355.3,653.1M355.3,653.1L359.8,655.0M355.3,653.1L357.8,653.0L360.1,654.6M331.8,650.9L334.3,651.2L336.8,651.5L339.2,652.1L341.6,653.0L344.1,653.3L346.4,654.3M346.4,654.3L348.8,653.9M346.4,654.3L349.0,654.4L351.3,655.3L353.5,657.0L356.2,656.1M332.7,651.5L335.0,652.5M335.0,652.5L338.3,652.6M335.0,652.5L337.5,652.9L339.9,653.6M339.9,653.6L343.9,652.8M339.9,653.6L342.1,654.8L344.7,654.8L347.1,655.7L349.6,656.1L352.2,655.9L354.8,655.6M354.8,655.6L358.2,654.2M354.8,655.6L357.3,656.0M330.5,650.9L332.8,651.8L335.1,652.8L337.5,653.6L339.8,654.6L342.2,655.3M342.2,655.3L343.4,656.9M342.2,655.3L344.7,655.6L347.2,656.1L349.9,655.9L352.0,657.3L354.8,656.7L357.1,657.7M331.5,651.7L333.7,652.8L336.0,653.9L338.1,655.3M338.1,655.3L339.8,657.8M338.1,655.3L340.5,656.1L342.4,657.7L344.4,659.3M344.4,659.3L346.8,662.0M344.4,659.3L346.6,660.6L348.8,661.7M348.8,661.7L351.8,661.6M348.8,661.7L350.2,664.3M330.9,651.6L332.9,653.0L335.1,654.3L337.2,655.6L339.7,656.4L342.2,657.0L344.6,657.8M344.6,657.8L347.4,661.3M344.6,657.8L346.6,659.4L349.0,660.1L351.2,661.3L353.6,662.2L355.2,664.5M330.3,651.4L332.2,653.0M332.2,653.0L335.4,654.0M332.2,653.0L334.3,654.4L336.4,655.8L338.3,657.4M338.3,657.4L340.6,661.0M338.3,657.4L340.3,658.9M340.3,658.9L343.9,660.0M340.3,658.9L342.0,660.8L344.5,661.6L345.8,664.1L348.0,665.2L349.9,666.9M331.2,652.3L333.0,654.1L335.0,655.6M335.0,655.6L335.9,657.9M335.0,655.6L336.8,657.3L339.1,658.5L341.5,659.5L343.9,660.5L346.0,661.7L348.9,661.9M330.1,651.6L331.9,653.4L333.9,655.0M333.9,655.0L334.7,658.7M333.9,655.0L335.9,656.4L338.2,657.6L340.4,658.9L342.9,659.6M342.9,659.6L344.7,662.7M342.9,659.6L345.4,660.4L347.7,661.4L350.3,661.8L352.9,662.3M352.9,662.3L356.4,662.7M352.9,662.3L355.7,662.3M330.7,652.6L332.2,654.6L333.4,656.8L334.9,658.8L335.7,661.2M335.7,661.2L338.9,663.5M335.7,661.2L336.4,663.8L337.7,665.9L339.2,667.9M339.2,667.9L339.4,672.4M339.2,667.9L340.0,670.3L340.2,673.0M331.0,653.7L332.4,655.8L333.9,657.7M333.9,657.7L337.1,660.3M333.9,657.7L335.6,659.6M335.6,659.6L337.9,660.8M335.6,659.6L337.7,661.2M337.7,661.2L340.5,662.2M337.7,661.2L339.4,663.0M339.4,663.0L341.3,667.5M339.4,663.0L341.8,664.2M341.8,664.2L343.1,667.0M341.8,664.2L343.4,666.1L344.2,668.7L345.3,671.1M345.3,671.1L345.7,674.5M345.3,671.1L345.6,674.0M330.5,653.4L331.7,655.6L332.7,657.9M332.7,657.9L332.3,662.1M332.7,657.9L334.1,660.0L335.7,662.0M335.7,662.0L339.3,665.4M335.7,662.0L337.2,664.0L338.3,666.3L340.2,668.0M340.2,668.0L344.5,669.8M340.2,668.0L341.9,669.9L343.6,671.7M329.8,652.6L330.6,655.0M330.6,655.0L332.3,656.3M330.6,655.0L331.8,657.2M331.8,657.2L331.4,659.4M331.8,657.2L333.1,659.3M333.1,659.3L333.2,663.6M333.1,659.3L334.7,661.4L336.1,663.4L338.1,665.1L339.4,667.3M339.4,667.3L340.2,671.9M339.4,667.3L341.4,669.0L342.0,671.6L343.4,673.6M330.2,654.3L331.2,656.6M331.2,656.6L330.4,660.6M331.2,656.6L331.8,659.0L332.6,661.4L333.6,663.7M333.6,663.7L336.9,666.8M333.6,663.7L334.7,666.0M334.7,666.0L336.2,668.1M334.7,666.0L334.7,668.6L335.7,670.9L337.5,672.9M329.4,652.3L330.0,654.8L330.3,657.3L330.6,659.8L331.6,662.1L331.9,664.6L331.8,667.1L332.9,669.5L332.8,672.1L332.8,674.6L333.5,677.0M333.5,677.0L335.7,679.9M333.5,677.0L335.6,679.1M329.2,653.5L329.2,656.0M329.2,656.0L327.7,658.5M329.2,656.0L328.9,658.5L329.4,661.0L328.9,663.5L329.8,666.0M329.8,666.0L328.5,670.0M329.8,666.0L329.4,668.5M329.4,668.5L326.9,672.5M329.4,668.5L329.3,671.0L329.7,673.5L331.3,675.9M331.3,675.9L332.3,678.2M331.3,675.9L333.0,678.2L333.3,680.7M329.0,652.1L328.9,654.6L328.5,657.1M328.5,657.1L326.6,661.4M328.5,657.1L327.9,659.5L327.6,662.0L326.5,664.4M326.5,664.4L324.0,667.4M326.5,664.4L326.1,666.8L326.8,669.5M326.8,669.5L324.5,672.6M326.8,669.5L327.7,672.1L326.6,674.5M326.6,674.5L327.3,676.5M326.6,674.5M328.7,653.4L328.8,655.9M328.8,655.9L330.0,659.4M328.8,655.9L329.0,658.4L328.8,660.9L328.1,663.4M328.1,663.4L329.2,666.9M328.1,663.4L327.8,665.8M327.8,665.8L325.3,669.5M327.8,665.8L326.8,668.3L325.6,670.6M325.6,670.6L326.4,673.2M325.6,670.6L324.7,673.0M328.3,653.8L327.9,656.3L327.7,658.8L327.4,661.2L327.9,663.8L328.0,666.3L328.4,668.8L328.1,671.3L327.7,673.8M327.9,653.8L326.8,656.1L325.5,658.3L324.1,660.4L323.1,662.7L322.5,665.1L320.9,667.2L319.0,669.0M319.0,669.0L316.6,671.5M319.0,669.0L317.3,670.9L316.5,673.3L314.2,674.9M328.2,652.2L327.0,654.4L326.2,656.8L325.4,659.2L324.4,661.4M324.4,661.4L322.7,663.4M324.4,661.4L323.0,663.6L322.5,666.1L321.3,668.3L320.6,670.7L320.0,673.1M320.0,673.1L318.0,675.1M320.0,673.1M327.6,653.2L326.8,655.6L326.2,658.1L325.3,660.4L323.7,662.4L323.1,664.9M323.1,664.9L321.5,666.4M323.1,664.9L323.2,667.6L323.2,670.2M323.2,670.2L321.1,672.8M323.2,670.2L322.4,672.6L321.6,674.9L322.2,677.7M327.1,653.4L325.8,655.5M325.8,655.5L322.1,657.6M325.8,655.5L324.8,657.8M324.8,657.8L321.7,659.6M324.8,657.8L324.2,660.3L323.4,662.7M323.4,662.7L323.0,665.7M323.4,662.7L321.6,664.6M321.6,664.6L321.9,669.5M321.6,664.6L320.8,667.0L319.1,669.0L316.7,670.5L315.2,672.5L314.7,675.1M314.7,675.1L312.2,677.5M314.7,675.1M326.9,653.5L325.8,655.7L324.7,658.0L323.9,660.4M323.9,660.4L323.9,663.9M323.9,660.4L323.0,662.7L321.5,664.8L321.2,667.4L319.8,669.5L319.1,671.9M327.6,652.0L326.0,654.0M326.0,654.0L323.4,655.3M326.0,654.0L324.6,656.0L322.6,657.7L320.6,659.2M320.6,659.2L317.4,660.0M320.6,659.2L319.2,661.3L317.2,662.9L314.8,664.1L312.8,665.5L310.5,666.7M310.5,666.7L307.2,667.2M310.5,666.7M327.5,651.7L325.8,653.6M325.8,653.6L324.6,657.5M325.8,653.6L324.3,655.6M324.3,655.6L323.5,660.2M324.3,655.6L322.4,657.2L320.5,658.8L318.3,660.2L316.8,662.2L315.1,664.0M315.1,664.0L311.6,665.8M315.1,664.0L313.6,666.1M313.6,666.1L311.9,669.6M313.6,666.1L312.5,668.5L311.2,670.7L309.8,672.8L309.1,675.4M325.6,653.1L323.6,654.7L321.4,655.9L319.4,657.4L317.2,658.5L314.9,659.7L312.3,660.2M312.3,660.2L310.9,661.6M312.3,660.2L310.5,662.0L308.9,664.2M308.9,664.2L305.6,664.7M308.9,664.2L306.1,664.5M306.1,664.5L303.6,668.5M306.1,664.5L304.1,666.0M327.7,651.2L325.6,652.4L323.3,653.5L321.2,654.8M321.2,654.8L319.9,657.0M321.2,654.8L318.7,655.6M318.7,655.6L316.8,658.1M318.7,655.6L316.8,657.3L314.3,657.9L312.5,659.7L310.1,660.7L308.4,662.6M308.4,662.6L306.7,664.6M308.4,662.6L305.8,663.1L303.5,664.2M303.5,664.2L301.9,667.0M303.5,664.2L301.1,664.9M326.1,651.9L324.0,653.4L321.7,654.4L319.3,655.1M319.3,655.1L316.0,655.5M319.3,655.1L317.0,656.2L315.0,657.8L312.9,659.0L310.7,660.4M310.7,660.4L307.0,660.2M310.7,660.4L308.6,661.7L307.0,663.8L304.5,664.6M304.5,664.6L301.8,667.6M304.5,664.6M325.0,652.0L322.9,653.3L320.5,654.3L318.2,655.1L315.6,655.4L313.3,656.4L310.8,656.7L308.1,656.5L305.5,656.5M326.3,651.1L323.9,651.9L321.5,652.6M321.5,652.6L317.1,651.6M321.5,652.6L319.1,653.3L316.6,653.4L314.4,654.8L311.8,654.9L309.2,654.8L307.1,656.6L304.7,657.5L302.5,658.8L300.1,659.6M326.1,651.0L323.7,651.7M323.7,651.7L320.4,653.7M323.7,651.7L321.4,652.8M321.4,652.8L318.7,656.1M321.4,652.8L319.0,653.4L316.4,653.6M316.4,653.6L312.8,655.7M316.4,653.6L314.2,655.0L311.6,654.7L308.9,654.4L306.4,654.7M326.5,650.5L324.0,650.6M324.0,650.6L321.7,649.5M324.0,650.6L321.5,650.7L319.0,650.3M319.0,650.3L316.1,649.2M319.0,650.3L316.5,649.7M316.5,649.7L314.7,648.7M316.5,649.7L314.0,650.0L311.5,650.1M311.5,650.1L307.6,648.5M311.5,650.1L309.0,650.0M309.0,650.0L306.8,648.7M309.0,650.0L306.5,649.3L304.1,648.7M304.1,648.7L301.1,650.0M304.1,648.7L301.5,648.8L299.0,650.0M299.0,650.0L294.9,648.9M299.0,650.0M325.6,650.3L323.1,649.9L320.6,650.2L318.1,649.9L315.6,649.2L313.2,648.1L310.7,648.0L308.2,647.8L305.7,647.9L303.2,647.9M326.9,650.1L324.4,649.9L321.9,649.8L319.5,649.4L316.9,649.7M316.9,649.7L314.4,647.9M316.9,649.7L314.4,650.2L311.9,649.7L309.4,650.4L306.9,651.2L304.5,651.8M304.5,651.8L300.9,654.3M304.5,651.8M326.2,649.8L323.8,649.4L321.3,649.3L318.7,649.5L316.3,649.0M316.3,649.0L313.4,647.1M316.3,649.0L313.9,647.9L311.4,647.3M311.4,647.3L309.2,645.9M311.4,647.3L309.2,646.0L306.7,645.7L304.2,645.3M304.2,645.3L301.1,645.6M304.2,645.3L301.6,645.4M327.2,649.8L324.8,649.1L322.4,648.5L319.9,648.1L317.6,647.2L315.3,646.2M315.3,646.2L312.4,644.2M315.3,646.2L313.1,644.7L311.1,642.9L309.3,640.8L306.6,640.7M325.4,649.2L323.0,648.3L320.5,648.0M320.5,648.0L316.8,648.6M320.5,648.0L318.0,647.8L315.7,646.6L313.1,646.6L310.6,646.6L308.4,645.0M308.4,645.0L305.5,642.8M308.4,645.0L305.9,644.8L303.6,643.7M325.2,648.4L323.0,647.3L320.7,646.2L318.6,644.8L316.8,642.9M316.8,642.9L314.9,639.5M316.8,642.9L315.2,640.9L312.6,640.2L310.4,639.1L308.4,637.5L306.8,635.3L304.6,634.2M304.6,634.2L302.2,631.3M304.6,634.2M326.0,648.4L323.8,647.3M323.8,647.3L321.0,647.4M323.8,647.3L321.6,645.9L319.3,645.0L317.1,643.8L314.6,643.2L312.1,642.6M312.1,642.6L309.9,642.4M312.1,642.6L309.5,642.4L307.0,641.8M307.0,641.8L304.9,639.7M307.0,641.8M327.5,649.3L325.6,647.7L323.6,646.1M323.6,646.1L319.6,645.0M323.6,646.1L321.5,644.8L319.4,643.5L317.1,642.5L315.3,640.7L312.6,640.2L310.3,639.1L308.4,637.5L306.1,636.5M306.1,636.5L301.5,636.6M306.1,636.5L303.4,636.1L301.0,635.2M326.7,648.3L324.6,646.9M324.6,646.9L323.0,642.6M324.6,646.9L322.4,645.6M322.4,645.6L321.0,643.7M322.4,645.6L320.1,644.5L317.7,643.8L315.9,641.8L314.4,639.6L312.8,637.6L310.8,636.1L309.0,634.3L307.6,632.2M307.6,632.2L304.5,631.8M307.6,632.2M326.1,647.7L324.1,646.2L321.9,644.9M321.9,644.9L320.4,640.7M321.9,644.9L319.6,643.9M319.6,643.9L316.2,643.1M319.6,643.9L317.5,642.5L315.6,640.9L313.0,640.2L311.6,638.0M311.6,638.0L308.5,637.8M311.6,638.0L309.4,636.7M309.4,636.7L307.1,636.1M309.4,636.7L306.5,636.5M327.2,648.1L325.7,646.1L324.4,644.0M324.4,644.0L321.1,641.6M324.4,644.0L322.5,642.3M322.5,642.3L321.6,637.8M322.5,642.3L321.4,640.0L320.0,637.9M320.0,637.9L319.6,633.9M320.0,637.9L318.3,636.1L316.1,634.6L315.4,632.0M315.4,632.0L314.9,629.6M315.4,632.0L314.0,629.9L312.1,628.3L310.3,626.4M310.3,626.4L307.8,624.9M310.3,626.4M326.4,646.7L325.0,644.5M325.0,644.5L323.9,641.4M325.0,644.5L323.5,642.6M323.5,642.6L321.8,641.5M323.5,642.6L322.0,640.6L320.6,638.5L319.2,636.4L317.1,634.9L315.9,632.7M315.9,632.7L311.6,630.6M315.9,632.7L314.1,630.9L312.3,629.1M326.8,646.8L325.8,644.5M325.8,644.5L325.7,641.6M325.8,644.5L325.0,642.0L324.0,639.8L323.2,637.4L322.5,635.0M322.5,635.0L322.2,632.1M322.5,635.0L320.8,633.0M320.8,633.0L321.5,628.8M320.8,633.0L320.2,630.5L318.7,628.4L316.6,626.7M316.6,626.7L316.4,624.2M316.6,626.7L315.4,624.5M327.8,647.8L326.8,645.5L325.5,643.3L324.5,641.0L324.1,638.5M324.1,638.5L324.1,633.6M324.1,638.5L322.7,636.3L321.8,634.0L320.7,631.7M320.7,631.7L317.7,628.2M320.7,631.7L320.6,629.1L320.0,626.6L319.8,624.0M328.2,648.3L327.2,646.1L326.5,643.7L325.4,641.4M325.4,641.4L323.0,639.1M325.4,641.4L324.6,639.0L323.8,636.7L322.8,634.4L321.8,632.1M321.8,632.1L319.1,630.0M321.8,632.1L320.1,630.1M320.1,630.1L320.2,626.5M320.1,630.1L319.1,627.8M319.1,627.8L319.4,624.2M319.1,627.8L318.8,625.2M318.8,625.2L316.4,622.4M318.8,625.2M328.6,648.8L328.2,646.4M328.2,646.4L329.3,641.6M328.2,646.4L327.9,643.9L327.7,641.4M327.7,641.4L326.1,638.1M327.7,641.4L327.5,638.9M327.5,638.9L328.7,635.6M327.5,638.9L327.0,636.4L326.9,633.9L327.4,631.3L326.0,629.0L326.8,626.4L325.9,624.0M328.5,647.7L327.7,645.3L327.1,642.9L326.1,640.6L325.4,638.2L324.9,635.7M324.9,635.7L325.3,632.9M324.9,635.7L323.6,633.5L322.9,631.1L321.2,629.0L320.4,626.7M320.4,626.7L320.8,623.6M320.4,626.7L318.2,624.8M328.9,646.5L329.1,644.0L329.2,641.5M329.2,641.5L328.4,638.5M329.2,641.5L329.5,639.0L330.0,636.5L330.0,634.0L329.5,631.5L329.2,629.0L329.8,626.5M329.1,646.6L328.9,644.1L328.5,641.6M328.5,641.6L327.4,638.7M328.5,641.6L328.1,639.2M328.1,639.2L328.9,637.3M328.1,639.2L328.5,636.6L328.4,634.1L328.3,631.6M328.3,631.6L327.1,629.3M328.3,631.6L328.5,629.1L329.2,626.6L328.4,624.1L326.7,621.7M329.6,646.1L329.6,643.6L329.4,641.1L329.4,638.6M329.4,638.6L330.1,636.6M329.4,638.6L330.1,636.1L330.3,633.6L331.5,631.2L332.1,628.8L331.8,626.2L333.1,623.9M333.1,623.9L335.8,620.3M333.1,623.9M329.7,646.2L330.2,643.8L330.7,641.3L331.1,638.9M331.1,638.9L332.9,636.3M331.1,638.9L331.4,636.4L332.2,634.0L333.2,631.6L334.2,629.3M334.2,629.3L332.9,624.9M334.2,629.3L333.4,626.6M330.0,647.3L330.8,645.0L331.5,642.6L332.6,640.3M332.6,640.3L332.7,636.4M332.6,640.3L334.0,638.2L334.6,635.7L335.3,633.3L337.1,631.3L339.3,629.6L339.7,627.0M339.7,627.0L343.3,623.7M339.7,627.0M330.3,647.0L331.5,644.8L332.2,642.4L332.9,640.0L333.3,637.5L335.0,635.4L335.2,632.8L335.5,630.3M335.5,630.3L337.8,626.8M335.5,630.3L335.9,627.8M335.9,627.8L334.9,624.1M335.9,627.8M329.9,648.4L331.2,646.2L332.5,644.1L333.3,641.6L334.8,639.7M334.8,639.7L338.2,636.5M334.8,639.7L335.8,637.3L337.0,635.1L339.0,633.4L340.7,631.5L342.7,629.8L345.3,628.6M330.9,646.8L331.7,644.5L332.7,642.2M332.7,642.2L332.4,639.5M332.7,642.2L333.1,639.6L334.7,637.6M334.7,637.6L338.1,634.3M334.7,637.6L335.0,635.0L335.7,632.6M335.7,632.6L337.3,631.2M335.7,632.6L335.6,629.9L337.7,628.0M331.0,647.8L332.5,645.8L334.2,644.0M334.2,644.0L337.6,642.4M334.2,644.0L335.6,641.9M335.6,641.9L337.0,638.4M335.6,641.9L337.6,640.3L339.6,638.7L340.9,636.5L343.4,635.5L346.1,634.6L347.6,632.6L348.6,630.0M332.0,647.2L334.0,645.6L335.7,643.7L337.3,641.8L339.5,640.5L341.0,638.4L342.8,636.7L345.2,635.7M345.2,635.7L346.9,632.3M345.2,635.7L346.2,633.0M331.1,648.5L332.8,646.7L334.5,644.9M334.5,644.9L338.7,643.4M334.5,644.9L336.2,643.0L338.1,641.4L340.1,639.9L341.6,637.8M341.6,637.8L343.6,636.6M341.6,637.8L343.5,636.2M343.5,636.2L344.8,634.0M343.5,636.2L345.2,634.3M330.9,648.9L332.8,647.2L334.9,645.9L337.0,644.6M337.0,644.6L338.8,642.2M337.0,644.6L338.8,642.8L340.2,640.6M340.2,640.6L341.5,636.7M340.2,640.6L342.1,638.9M342.1,638.9L344.3,635.5M342.1,638.9L343.7,636.9L345.2,634.9M345.2,634.9L349.1,633.3M345.2,634.9L346.1,632.2L346.9,629.6M332.7,648.1L335.0,647.2M335.0,647.2L338.7,646.5M335.0,647.2L337.0,645.7M337.0,645.7L339.6,645.3M337.0,645.7L339.2,644.5L341.4,643.3L343.8,642.4L346.2,641.7L348.8,641.4L351.0,640.0M351.0,640.0L352.9,637.4M351.0,640.0M331.8,648.7L333.8,647.2L335.7,645.5L337.6,643.8M337.6,643.8L339.6,640.2M337.6,643.8L339.6,642.4M339.6,642.4L342.0,639.1M339.6,642.4L341.5,640.7L342.8,638.4M342.8,638.4L344.7,635.0M342.8,638.4L344.6,636.7L346.2,634.6M346.2,634.6L347.0,631.8M346.2,634.6L347.7,632.7L350.3,631.7L352.1,630.1M352.1,630.1L356.0,628.6M352.1,630.1M332.8,648.9L335.3,648.3M335.3,648.3L338.5,648.4M335.3,648.3L337.6,647.5L340.0,646.8M340.0,646.8L342.3,645.0M340.0,646.8L342.3,645.7L344.6,644.7M344.6,644.7L346.0,642.9M344.6,644.7L347.2,644.6M347.2,644.6L350.7,645.3M347.2,644.6L349.9,645.1L352.0,643.3M331.9,649.3L334.1,648.2L336.5,647.4M336.5,647.4L340.4,647.2M336.5,647.4L338.9,646.6M338.9,646.6L340.4,644.6M338.9,646.6L341.0,645.3L343.1,643.7L344.9,641.8L347.6,641.5L349.4,639.7L352.1,639.5L353.9,637.4L355.4,634.9M333.3,649.4L335.9,649.2M335.9,649.2L338.3,649.7M335.9,649.2L338.4,649.0L340.8,648.5L343.3,648.6L345.8,648.1M345.8,648.1L347.8,646.9M345.8,648.1L348.2,647.2L350.7,647.1M350.7,647.1L354.9,647.8M350.7,647.1L353.3,647.2M353.3,647.2L357.6,648.7M353.3,647.2M332.1,649.8L334.5,649.0M334.5,649.0L337.2,646.4M334.5,649.0L337.0,648.8L339.5,648.7L342.1,648.9M342.1,648.9L345.7,646.9M342.1,648.9L344.4,647.7L346.8,646.5M346.8,646.5L350.3,644.6M346.8,646.5L349.1,645.7L351.2,643.8L354.0,644.4M354.0,644.4L358.4,644.9M354.0,644.4L356.4,643.6L359.1,644.4M359.1,644.4L363.8,645.2M359.1,644.4M333.0,650.0L335.5,649.7L338.0,649.5L340.5,649.4L343.0,649.2L345.5,649.8M345.5,649.8L348.9,648.8M345.5,649.8L348.0,648.9M348.0,648.9L350.0,649.3M348.0,648.9L350.4,647.6L352.6,645.9L355.3,646.8M355.3,646.8L358.1,644.6M355.3,646.8" stroke="#8c8c8c" stroke-width="0.8" opacity="0.35" fill="none" stroke-linecap="round"/>
<path d="M332.5,663.8 Q344.5,659.8 358.5,663.8 L360.5,683.8 L334.5,683.8 Z" fill="#333337" opacity="0.35"/>
<circle cx="329.5" cy="650.4" r="4.5" fill="url(#ps5_4)"/>
</g>
<circle cx="328.5" cy="649.8" r="32.0" fill="none" stroke="#151515" stroke-width="1" opacity="0.85"/>
<g clip-path="url(#cp6)">
<circle cx="395.4" cy="650" r="32.5" fill="url(#pd6)"/>
<rect x="362.9" y="617.5" width="65.0" height="65.0" filter="url(#grainL)" opacity="0.18"/><rect x="362.9" y="617.5" width="65.0" height="65.0" filter="url(#grainD)" opacity="0.22"/>
<path d="M398.0,649.6L400.5,650.0L403.0,650.2L405.5,650.5L407.9,651.5L410.2,652.7M410.2,652.7L413.8,652.3M410.2,652.7L412.8,652.1L415.4,651.6M415.4,651.6L417.7,652.7M415.4,651.6L417.7,653.2M417.7,653.2L419.9,655.2M417.7,653.2L420.1,654.0L422.8,653.3M422.8,653.3L424.5,654.5M422.8,653.3L425.2,653.6M425.2,653.6L428.2,655.6M425.2,653.6M397.0,649.7L399.5,649.9L402.0,650.3M402.0,650.3L404.2,649.7M402.0,650.3L404.5,650.2M404.5,650.2L408.2,651.9M404.5,650.2L407.0,650.4M407.0,650.4L410.7,653.0M407.0,650.4L409.4,651.3L411.9,651.4M411.9,651.4L414.0,652.6M411.9,651.4L414.2,652.8M414.2,652.8L418.1,651.1M414.2,652.8L416.7,653.3M416.7,653.3L421.1,655.6M416.7,653.3L419.3,652.7L421.8,652.5M396.7,649.9L399.2,650.4L401.6,650.8L404.0,651.6L406.4,652.3M406.4,652.3L409.7,655.6M406.4,652.3L408.7,653.4L411.3,653.6M411.3,653.6L415.8,652.5M411.3,653.6L413.5,654.8M413.5,654.8L417.5,653.8M413.5,654.8L415.6,656.6M415.6,656.6L417.8,656.0M415.6,656.6L417.9,657.6M399.1,651.1L401.4,652.1L403.7,652.8L406.2,653.4L408.4,654.7L410.7,655.7L412.5,657.7L414.7,659.0M414.7,659.0L417.6,659.5M414.7,659.0L417.0,659.9M417.0,659.9L419.9,659.8M417.0,659.9L418.7,662.1M398.3,650.9L400.5,652.2L402.7,653.4L405.0,654.2M405.0,654.2L407.9,656.6M405.0,654.2L407.5,655.0L409.7,656.1L412.2,656.6M412.2,656.6L416.5,656.7M412.2,656.6L414.8,656.9L416.7,658.9L419.0,659.8M419.0,659.8L420.6,662.1M419.0,659.8L421.1,661.2M421.1,661.2L423.1,661.0M421.1,661.2L424.0,660.8M424.0,660.8L427.2,660.7M424.0,660.8L426.6,660.9M426.6,660.9L430.6,661.2M426.6,660.9M398.3,651.3L400.3,652.7L402.3,654.4M402.3,654.4L405.1,654.3M402.3,654.4L404.3,655.8M404.3,655.8L407.5,656.2M404.3,655.8L406.8,656.6M406.8,656.6L408.6,660.0M406.8,656.6L409.3,657.3L411.2,659.0M411.2,659.0L412.6,661.6M411.2,659.0L413.0,660.8L414.7,662.7M396.8,650.6L398.8,652.1L400.9,653.4L403.2,654.4L405.3,655.7L407.8,656.5L410.1,657.5M410.1,657.5L412.4,657.6M410.1,657.5L411.8,659.5L414.3,660.3M414.3,660.3L418.1,661.3M414.3,660.3L416.5,661.4L418.6,662.7M418.6,662.7L423.4,663.3M418.6,662.7M396.6,650.9L398.6,652.5L400.7,653.8M400.7,653.8L402.0,655.8M400.7,653.8L402.6,655.5M402.6,655.5L405.5,656.3M402.6,655.5L404.7,656.8L406.4,658.6L407.8,660.8L409.8,662.4L412.0,663.6M412.0,663.6L413.7,666.6M412.0,663.6L413.8,665.4M413.8,665.4L417.7,666.3M413.8,665.4M396.1,650.7L397.9,652.4M397.9,652.4L399.0,655.6M397.9,652.4L399.8,654.0M399.8,654.0L401.5,656.8M399.8,654.0L401.5,655.8L402.9,658.1L405.0,659.5M405.0,659.5L407.8,660.4M405.0,659.5L406.6,661.4L408.9,662.6M408.9,662.6L411.8,663.9M408.9,662.6L410.8,664.3L412.9,665.7L414.4,667.7L416.9,668.7L419.3,669.7M419.3,669.7L423.5,671.2M419.3,669.7M397.4,652.7L398.9,654.7L400.4,656.7L401.6,658.9L402.6,661.3L403.6,663.6L405.8,665.2L408.0,666.6L410.6,667.8L412.4,669.5M412.4,669.5L413.3,673.1M412.4,669.5L414.8,670.7M414.8,670.7L415.4,674.0M414.8,670.7M397.5,653.0L399.2,654.9L400.7,656.9L402.4,658.7M402.4,658.7L403.8,663.0M402.4,658.7L404.1,660.6L405.4,662.7L406.3,665.2L408.1,667.0L409.6,669.0L410.3,671.5M397.1,653.3L398.1,655.6L399.1,657.9L400.7,659.9M400.7,659.9L404.1,661.9M400.7,659.9L401.2,662.4L401.7,665.0M401.7,665.0L404.5,668.2M401.7,665.0L403.6,666.9L404.0,669.4M404.0,669.4L407.2,672.7M404.0,669.4L404.3,672.0M396.2,652.1L397.3,654.4L398.7,656.4L399.5,658.9L401.0,660.9L401.5,663.5L402.4,665.8M402.4,665.8L405.6,669.6M402.4,665.8L402.9,668.3L405.0,670.1M405.0,670.1L408.5,673.0M405.0,670.1L407.0,671.9M396.7,653.6L397.5,656.0L398.4,658.3M398.4,658.3L400.7,660.7M398.4,658.3L399.9,660.4L401.0,662.6M401.0,662.6L402.3,664.3M401.0,662.6L402.7,664.6L403.6,666.9M403.6,666.9L404.1,670.2M403.6,666.9L403.7,669.6L404.2,672.2M404.2,672.2L406.9,675.4M404.2,672.2L404.0,674.9L405.2,677.1M396.2,653.8L396.8,656.2L397.0,658.7L397.7,661.2L397.9,663.7M397.9,663.7L399.4,666.4M397.9,663.7L397.8,666.2L398.7,668.6L400.3,670.8L401.0,673.2M401.0,673.2L402.3,675.3M401.0,673.2L401.8,675.6L401.3,678.3M401.3,678.3L403.9,682.4M401.3,678.3M395.5,653.8L395.6,656.3M395.6,656.3L397.4,659.7M395.6,656.3L396.2,658.7L397.3,661.1M397.3,661.1L396.9,666.0M397.3,661.1L396.9,663.7L397.3,666.2L398.3,668.5L398.9,671.0L398.3,673.6L400.0,675.8L398.9,678.6L399.8,681.0M399.8,681.0L398.7,683.9M399.8,681.0M395.1,652.2L395.0,654.7L395.6,657.2L395.4,659.7M395.4,659.7L396.8,662.7M395.4,659.7L395.7,662.2M395.7,662.2L393.7,666.1M395.7,662.2L396.1,664.7L396.7,667.1L396.8,669.6M396.8,669.6L398.5,672.8M396.8,669.6L397.4,672.1L398.0,674.5M395.0,652.9L394.7,655.4L394.7,657.9L394.2,660.4M394.2,660.4L396.0,663.7M394.2,660.4L394.2,662.9L393.5,665.4L392.5,667.8L391.2,670.1L391.8,672.7L390.8,675.1L391.5,677.7M394.7,651.6L394.2,654.1L393.7,656.6M393.7,656.6L391.3,660.4M393.7,656.6L393.6,659.1L393.5,661.6L392.6,664.0M392.6,664.0L393.7,668.2M392.6,664.0L392.4,666.5M392.4,666.5L393.6,670.0M392.4,666.5L392.4,669.0L393.1,671.6M393.1,671.6L393.9,673.8M393.1,671.6L391.6,673.9L392.2,676.5L390.4,678.8M390.4,678.8L391.3,680.8M390.4,678.8M394.1,653.3L393.5,655.8L392.5,658.1L392.0,660.5L392.2,663.1M392.2,663.1L390.7,666.0M392.2,663.1L391.3,665.5L391.7,668.1L392.0,670.7L391.8,673.2M393.8,652.8L393.0,655.1L391.9,657.4L391.0,659.8M391.0,659.8L388.8,661.9M391.0,659.8L390.4,662.2L389.4,664.5L387.6,666.5M387.6,666.5L383.5,669.1M387.6,666.5L387.2,669.0M387.2,669.0L385.6,671.0M387.2,669.0L386.4,671.4L386.2,673.9L385.7,676.4M393.6,653.4L392.6,655.7L392.0,658.2M392.0,658.2L389.8,659.9M392.0,658.2L391.6,660.6L390.4,662.9L389.3,665.1M389.3,665.1L389.2,668.6M389.3,665.1L388.3,667.5L388.2,670.0L386.0,671.9L385.1,674.2M385.1,674.2L385.8,677.6M385.1,674.2M393.3,652.9L392.5,655.3L391.8,657.7L390.9,660.0L389.4,662.1L387.7,664.1L386.9,666.4L385.7,668.6L383.8,670.5M383.8,670.5L381.9,672.0M383.8,670.5L382.2,672.4L380.6,674.4M393.4,651.7L392.2,653.9M392.2,653.9L389.7,655.8M392.2,653.9L390.8,656.0L389.9,658.3L388.2,660.3L386.6,662.2M386.6,662.2L382.8,665.3M386.6,662.2L385.1,664.2L383.7,666.3L383.4,669.0L382.9,671.6L383.0,674.5M392.6,652.4L390.9,654.2L389.1,656.0L387.1,657.5M387.1,657.5L386.4,659.4M387.1,657.5L385.3,659.2L383.3,660.7M383.3,660.7L379.0,662.0M383.3,660.7L381.0,661.9L379.3,663.8M379.3,663.8L377.4,667.0M379.3,663.8L377.5,665.6M377.5,665.6L375.1,666.3M377.5,665.6L376.2,667.8L373.8,668.9M373.8,668.9L371.2,669.3M373.8,668.9L372.3,671.0M372.3,671.0L370.2,671.3M372.3,671.0M392.2,652.6L390.6,654.5L388.7,656.1L386.7,657.7L384.9,659.5L383.3,661.4M383.3,661.4L382.4,664.0M383.3,661.4L380.8,662.4L378.3,663.3L375.6,664.0L373.3,665.0M393.5,650.8L391.6,652.5M391.6,652.5L388.7,653.1M391.6,652.5L389.7,654.1L387.5,655.4L385.8,657.2M385.8,657.2L382.6,658.5M385.8,657.2L383.7,658.6L381.3,659.6M381.3,659.6L379.6,661.9M381.3,659.6L379.8,661.7L377.1,662.2L375.8,664.8M375.8,664.8L371.3,665.9M375.8,664.8M393.3,650.7L391.3,652.2L389.5,653.9M389.5,653.9L387.2,657.2M389.5,653.9L387.8,655.8L385.7,657.2M385.7,657.2L381.5,659.1M385.7,657.2L383.3,658.2L381.1,659.4M381.1,659.4L379.8,662.6M381.1,659.4L378.7,660.3L376.8,661.9M376.8,661.9L372.0,662.4M376.8,661.9L375.3,664.2M392.4,651.2L390.3,652.7L388.1,653.9L386.1,655.4L383.7,656.2L381.3,657.0M381.3,657.0L376.6,656.6M381.3,657.0L379.3,658.5M379.3,658.5L377.2,661.5M379.3,658.5L376.6,658.8L374.2,659.6L372.1,661.0L369.4,661.3M391.8,651.0L389.4,651.8L387.1,652.9M387.1,652.9L383.0,652.4M387.1,652.9L384.9,654.0M384.9,654.0L380.9,654.2M384.9,654.0L382.6,655.0M382.6,655.0L379.4,654.6M382.6,655.0L380.2,655.7M380.2,655.7L378.1,658.3M380.2,655.7L377.7,656.3L375.8,658.1L373.9,660.0M391.5,651.1L389.3,652.4L387.1,653.5L384.8,654.6L382.9,656.4L380.8,657.7M380.8,657.7L378.7,657.7M380.8,657.7L378.9,659.3L376.8,660.7M376.8,660.7L374.0,660.8M376.8,660.7L374.0,660.9L372.0,662.4M392.3,650.3L389.9,651.2L387.6,652.0L385.1,652.4L382.8,653.5M382.8,653.5L380.8,655.3M382.8,653.5L380.4,654.1L378.3,655.8L375.7,655.9M375.7,655.9L373.2,658.1M375.7,655.9L373.0,655.7L370.7,656.8L368.4,657.5M368.4,657.5L365.2,660.3M368.4,657.5L366.5,659.9M366.5,659.9L363.1,659.2M366.5,659.9L364.0,660.4M364.0,660.4L361.6,663.4M364.0,660.4M390.8,650.3L388.4,650.8L386.0,651.7M386.0,651.7L383.7,653.4M386.0,651.7L383.6,652.2L381.0,652.4L378.7,653.3M378.7,653.3L374.2,653.1M378.7,653.3L376.1,653.1L373.5,652.8L371.2,654.3L368.9,655.5L366.7,657.0M391.6,650.1L389.2,650.4L386.7,650.6M386.7,650.6L384.0,650.1M386.7,650.6L384.2,650.6L381.6,650.1L379.1,650.2L376.7,650.9L374.2,651.2L371.7,651.1L369.3,652.3M391.2,649.7L388.7,649.5L386.2,649.2M386.2,649.2L384.2,648.2M386.2,649.2L383.7,649.1L381.2,649.5M381.2,649.5L379.0,648.3M381.2,649.5L378.7,649.7M378.7,649.7L375.7,651.6M378.7,649.7L376.2,649.3L373.8,648.1L371.3,647.5L368.7,648.5L366.2,648.9M366.2,648.9L363.3,647.2M366.2,648.9M393.1,649.4L390.6,649.4L388.1,649.5L385.6,649.1L383.1,649.5L380.6,648.8M380.6,648.8L376.9,650.5M380.6,648.8L378.1,649.0L375.6,649.5L373.1,649.8L370.6,649.8L368.1,650.7M368.1,650.7L364.7,649.8M368.1,650.7L365.6,650.5L363.1,648.9M363.1,648.9L359.4,649.8M363.1,648.9M391.7,649.0L389.2,648.5L386.7,648.6M386.7,648.6L384.6,647.3M386.7,648.6L384.2,648.5L381.6,648.7L379.1,648.7L376.6,649.2L374.2,648.2L371.8,646.7L369.4,645.7L366.9,645.5M390.9,648.5L388.6,647.6L386.2,646.8M386.2,646.8L383.7,647.3M386.2,646.8L383.6,646.6L381.3,645.7L378.7,645.9L376.0,646.3L373.5,646.4L371.0,645.9L368.5,646.0M368.5,646.0L364.5,647.3M368.5,646.0M391.3,648.1L389.1,646.9M389.1,646.9L385.9,646.9M389.1,646.9L387.1,645.5L384.8,644.5L382.7,643.0L380.6,641.7L378.2,640.8M378.2,640.8L373.3,641.0M378.2,640.8L375.9,639.9L374.0,638.1L372.3,636.1M372.3,636.1L370.0,632.9M372.3,636.1L370.8,633.8M370.8,633.8L368.1,633.1M370.8,633.8M392.4,648.4L390.1,647.6L387.8,646.7M387.8,646.7L384.3,643.6M387.8,646.7L385.5,645.7L383.3,644.4L381.3,642.7M381.3,642.7L378.0,642.3M381.3,642.7L379.2,641.4L376.6,640.9L374.8,639.0L372.6,637.7L370.3,636.9M370.3,636.9L367.7,633.2M370.3,636.9M393.1,648.5L390.9,647.4L388.5,646.6M388.5,646.6L387.2,644.9M388.5,646.6L386.1,645.8L383.8,644.9L381.3,644.3L379.3,642.8M379.3,642.8L376.7,643.2M379.3,642.8L377.0,641.7L374.5,641.3M374.5,641.3L371.5,637.6M374.5,641.3L372.4,639.8L369.8,639.3M393.2,648.4L391.0,647.2L388.9,645.8M388.9,645.8L386.1,645.1M388.9,645.8L387.0,644.2L384.8,643.0L382.3,642.2L380.2,640.9L378.0,639.7L376.0,638.2L373.7,637.2M373.7,637.2L372.2,635.6M373.7,637.2M391.9,646.9L390.3,645.0L388.5,643.3L386.2,642.0M386.2,642.0L383.2,641.5M386.2,642.0L383.8,641.0M383.8,641.0L382.9,639.1M383.8,641.0L381.7,639.7L379.1,639.1L377.2,637.4L375.2,635.9L373.5,634.0L370.6,633.8M370.6,633.8L367.4,632.7M370.6,633.8L367.6,633.9M393.7,648.4L392.1,646.5L390.6,644.4L389.3,642.3M389.3,642.3L386.4,641.2M389.3,642.3L387.5,640.5L385.9,638.6L384.7,636.4L382.7,634.7L381.1,632.8L379.1,631.3L376.8,630.0M376.8,630.0L374.0,629.4M376.8,630.0M393.1,647.2L391.7,645.1L390.4,643.0L389.2,640.8L388.3,638.4M388.3,638.4L385.3,636.7M388.3,638.4L387.4,636.0M387.4,636.0L387.1,631.1M387.4,636.0L386.7,633.6L385.9,631.2L384.6,629.0L382.5,627.3M382.5,627.3L379.4,625.4M382.5,627.3L380.0,625.9M380.0,625.9L378.0,624.6M380.0,625.9L379.5,623.3M392.7,646.6L391.1,644.7M391.1,644.7L387.0,641.9M391.1,644.7L389.8,642.6L388.3,640.6L386.5,638.8M386.5,638.8L383.7,637.3M386.5,638.8L384.6,637.1L382.1,636.0L381.0,633.6L378.3,632.7M378.3,632.7L377.6,628.9M378.3,632.7L376.8,630.7M376.8,630.7L372.5,628.6M376.8,630.7M392.6,645.8L391.1,643.8M391.1,643.8L387.9,641.3M391.1,643.8L389.4,641.9M389.4,641.9L388.3,639.1M389.4,641.9L388.3,639.6L387.0,637.5L384.9,635.9L383.0,634.2M383.0,634.2L382.5,630.0M383.0,634.2L381.2,632.5M381.2,632.5L380.3,629.2M381.2,632.5L378.9,631.1L376.2,630.2L373.4,629.5M394.1,648.0L393.1,645.7L392.5,643.2L391.9,640.8L390.7,638.5L389.1,636.5M389.1,636.5L386.7,635.0M389.1,636.5L388.6,634.0L388.5,631.4L388.4,628.8L388.2,626.2L386.6,624.1M386.6,624.1L386.5,621.2M386.6,624.1L386.3,621.6L384.0,619.7M394.3,648.0L393.2,645.7M393.2,645.7L393.7,641.9M393.2,645.7L392.5,643.3L392.0,640.8L391.4,638.4M391.4,638.4L388.5,635.6M391.4,638.4L390.7,636.0M390.7,636.0L388.5,634.2M390.7,636.0L389.6,633.7L389.0,631.3L388.2,628.9L387.8,626.4L386.1,624.4M394.4,647.6L393.6,645.3L392.5,643.0L391.6,640.7M391.6,640.7L391.2,636.3M391.6,640.7L391.1,638.2L390.1,635.9M390.1,635.9L388.1,633.7M390.1,635.9L388.5,633.8L388.0,631.3M388.0,631.3L388.1,626.4M388.0,631.3L386.9,629.1M386.9,629.1L384.4,626.3M386.9,629.1L387.1,626.4M394.6,647.8L394.0,645.3L393.5,642.9L392.7,640.5L392.4,638.0M392.4,638.0L393.5,635.0M392.4,638.0L391.2,635.7L391.4,633.1L390.4,630.8M390.4,630.8L387.6,627.2M390.4,630.8L390.8,628.1M390.8,628.1L391.3,623.3M390.8,628.1L389.2,625.9L388.7,623.5M388.7,623.5L386.7,621.4M388.7,623.5L388.3,621.0M394.4,645.5L393.8,643.1L393.5,640.6L392.8,638.2L391.6,635.9M391.6,635.9L388.8,632.1M391.6,635.9L391.3,633.4M391.3,633.4L389.4,631.6M391.3,633.4L390.1,631.1L389.3,628.7M389.3,628.7L390.0,623.8M389.3,628.7L388.8,626.3L388.3,623.8M395.1,646.1L394.9,643.6L395.0,641.1L394.4,638.6M394.4,638.6L396.1,635.4M394.4,638.6L393.8,636.1M393.8,636.1L392.8,633.4M393.8,636.1L393.1,633.7L393.8,631.1L393.1,628.7L392.2,626.3M392.2,626.3L390.7,623.3M392.2,626.3L392.8,623.7L393.4,621.1M395.3,646.1L395.9,643.6M395.9,643.6L397.3,640.5M395.9,643.6L395.9,641.1L396.8,638.7L397.7,636.4M397.7,636.4L396.6,633.0M397.7,636.4L397.7,633.8L397.5,631.3L397.6,628.7L396.9,626.2M395.2,647.2L395.4,644.7L395.6,642.2L396.0,639.7L396.5,637.3L396.1,634.7M396.1,634.7L398.4,630.9M396.1,634.7L395.4,632.2M395.4,632.2L398.2,628.4M395.4,632.2L395.4,629.7M395.4,629.7L393.2,625.4M395.4,629.7L394.8,627.2L393.9,624.7L395.4,622.2L397.2,619.8M395.8,645.7L396.0,643.2L396.7,640.8L397.1,638.3M397.1,638.3L398.7,636.7M397.1,638.3L397.9,635.9M397.9,635.9L397.6,633.0M397.9,635.9L398.9,633.6L398.6,631.0L398.5,628.4L399.6,626.1L399.4,623.5M399.4,623.5L401.0,621.6M399.4,623.5M396.3,646.1L397.1,643.7L398.4,641.5L398.9,639.0L399.7,636.6L400.6,634.3L401.4,632.0L403.0,629.9L404.5,627.8L404.5,625.1M396.1,646.9L397.2,644.6L398.4,642.5L399.6,640.3M399.6,640.3L403.0,637.7M399.6,640.3L401.4,638.4M401.4,638.4L404.9,636.7M401.4,638.4L402.4,636.1L403.5,633.8L404.7,631.7L406.4,629.8L408.5,628.1M408.5,628.1L409.1,626.1M408.5,628.1L410.6,626.5L411.9,624.3M397.1,646.2L398.5,644.2L400.3,642.4M400.3,642.4L402.7,641.2M400.3,642.4L402.1,640.7L403.2,638.3L404.5,636.2M404.5,636.2L408.6,633.8M404.5,636.2L406.6,634.6L407.3,632.0L408.7,630.0L409.1,627.2L411.7,626.0M411.7,626.0L412.4,623.0M411.7,626.0M397.0,646.7L398.7,644.9L400.0,642.8M400.0,642.8L401.8,641.5M400.0,642.8L402.0,641.2L403.8,639.4L404.8,637.0M404.8,637.0L408.5,635.7M404.8,637.0L406.6,635.3M406.6,635.3L407.2,632.7M406.6,635.3L408.7,633.8L410.1,631.7L410.9,629.1M410.9,629.1L413.7,628.1M410.9,629.1M397.1,647.0L399.0,645.4L400.7,643.6L402.6,641.9L404.2,639.9L405.7,637.9L407.7,636.4L409.0,634.2L411.6,633.3L412.5,630.6L415.0,629.5L415.5,626.6L418.1,625.6M396.8,647.7L398.7,646.1L400.3,644.2L401.9,642.3M401.9,642.3L403.4,637.9M401.9,642.3L403.8,640.6M403.8,640.6L407.8,638.4M403.8,640.6L405.8,639.0L407.3,637.0M407.3,637.0L410.1,636.2M407.3,637.0L408.6,634.8L411.0,633.7M411.0,633.7L414.5,632.0M411.0,633.7L412.7,631.8M412.7,631.8L415.3,631.1M412.7,631.8L413.5,629.1L413.8,626.1M396.2,648.5L398.2,646.9M398.2,646.9L402.2,646.3M398.2,646.9L400.2,645.4M400.2,645.4L402.5,645.2M400.2,645.4L402.3,644.1M402.3,644.1L403.1,642.1M402.3,644.1L404.6,642.9L406.4,641.2L407.9,639.0L410.1,637.8L412.0,636.1M412.0,636.1L414.1,631.8M412.0,636.1L413.2,633.7M413.2,633.7L416.4,633.1M413.2,633.7M396.4,648.5L398.6,647.2L400.9,646.2L402.9,644.7L404.9,643.2M404.9,643.2L408.6,643.0M404.9,643.2L407.4,642.5L409.1,640.4L411.4,639.4L413.6,638.2M413.6,638.2L416.9,637.2M413.6,638.2L416.0,637.3M396.7,648.5L398.8,647.1L400.8,645.7M400.8,645.7L403.2,643.0M400.8,645.7L402.9,644.4M402.9,644.4L405.6,643.8M402.9,644.4L404.7,642.5L407.0,641.5M407.0,641.5L410.4,641.4M407.0,641.5L409.5,640.7L412.1,640.2L414.8,640.1L417.4,639.6L420.2,640.0L421.9,637.6L424.2,636.6M424.2,636.6L426.8,634.1M424.2,636.6M397.2,648.6L399.5,647.6L401.8,646.5L404.0,645.5L406.6,645.1L408.7,643.7L411.3,643.5L413.6,642.5M413.6,642.5L415.0,640.5M413.6,642.5L416.1,642.1L418.0,640.0L420.4,639.3L423.2,639.6M423.2,639.6L425.5,637.7M423.2,639.6M399.0,648.2L401.4,647.8L403.9,647.4L406.5,647.5L409.0,647.0L411.2,645.6M411.2,645.6L413.2,643.9M411.2,645.6L413.9,646.0M413.9,646.0L416.6,644.2M413.9,646.0L416.3,645.6L418.6,644.4L420.9,643.2L423.7,644.1M398.2,648.9L400.6,648.4M400.6,648.4L403.4,646.0M400.6,648.4L403.2,648.3M403.2,648.3L406.3,649.7M403.2,648.3L405.6,648.0M405.6,648.0L408.4,645.6M405.6,648.0L408.1,647.3L410.6,647.7M410.6,647.7L412.8,648.3M410.6,647.7L413.2,648.4L415.6,647.0L418.1,646.9M418.1,646.9L420.4,645.8M418.1,646.9L420.7,647.7L423.2,648.7L425.7,648.2M425.7,648.2L429.2,646.0M425.7,648.2M397.9,649.2L400.4,649.2L402.8,648.7M402.8,648.7L406.5,646.9M402.8,648.7L405.2,647.8L407.8,647.9L410.2,647.1L412.8,647.6M412.8,647.6L414.8,646.4M412.8,647.6L415.2,647.1L417.6,645.9M417.6,645.9L421.3,646.9M417.6,645.9L420.0,645.0L422.5,645.0M398.0,649.5L400.5,649.2L403.0,648.8L405.5,648.7M405.5,648.7L409.1,647.1M405.5,648.7L408.0,648.8L410.5,649.3L413.0,650.0L415.5,650.7L417.9,650.9L420.3,652.4M420.3,652.4L423.0,653.7M420.3,652.4L422.8,652.6L425.4,652.0" stroke="#909090" stroke-width="0.8" opacity="0.35" fill="none" stroke-linecap="round"/>
<path d="M401.4,616 L402.4,621 Q406.4,628 410.4,631 Q414.4,637 420.4,639 Q424.4,644 429.4,647 L429.4,616 Z" fill="#222226" opacity="0.92"/>
<path d="M362.4,636 L373.4,635 Q369.4,642 362.4,647 Z" fill="#2a2a2e" opacity="0.6"/>
<circle cx="394.9" cy="649.5" r="2.5" fill="url(#ps6_5)"/>
</g>
<circle cx="395.4" cy="650" r="32.0" fill="none" stroke="#151515" stroke-width="1" opacity="0.85"/>
<text x="595.5" y="594.5" font-family="Liberation Sans" font-size="14.5" text-anchor="middle" fill="#222" font-weight="normal" >1P-G7</text>
<line x1="496" y1="597.8" x2="696.7" y2="597.8" stroke="#555" stroke-width="1.1"/>
<text x="497.30" y="613.1" font-family="Liberation Sans" font-weight="bold" font-size="14.54" text-anchor="middle" fill="#1b9fd3">I</text>
<text x="564.30" y="613.1" font-family="Liberation Sans" font-weight="bold" font-size="14.54" text-anchor="middle" fill="#e07f22">II</text>
<text x="630.55" y="613.1" font-family="Liberation Sans" font-weight="bold" font-size="14.54" text-anchor="middle" fill="#2845a0">III</text>
<text x="696.30" y="613.1" font-family="Liberation Sans" font-weight="bold" font-size="14.54" text-anchor="middle" fill="#a8228e">IV</text>
<g clip-path="url(#cp7)">
<circle cx="497" cy="649.8" r="32.5" fill="url(#pd7)"/>
<circle cx="495.3" cy="648.6999999999999" r="3.6" fill="url(#ps7_1)"/>
<circle cx="495.3" cy="648.6999999999999" r="1.6" fill="url(#ps7_2)"/>
</g>
<circle cx="497" cy="649.8" r="32.0" fill="none" stroke="#151515" stroke-width="1" opacity="0.85"/>
<g clip-path="url(#cp8)">
<circle cx="564.2" cy="649.8" r="32.5" fill="url(#pd8)"/>
<path d="M575.5,652.3 L574.0,652.6 L574.9,653.0 L575.7,653.4 L576.3,653.9 L577.0,654.4 L578.7,655.1 L578.8,655.6 L577.3,655.8 L577.6,656.3 L578.1,656.9 L576.1,656.7 L575.9,657.1 L575.2,657.3 L577.0,658.5 L578.2,659.5 L578.7,660.3 L576.6,659.8 L574.8,659.3 L574.6,659.6 L575.3,660.5 L575.0,660.9 L574.0,660.7 L574.1,661.2 L573.0,660.9 L572.7,661.1 L573.0,662.0 L572.9,662.4 L572.9,663.1 L573.0,663.7 L572.5,663.9 L571.4,663.1 L570.8,663.0 L570.5,663.3 L570.2,663.5 L570.3,664.4 L569.5,663.8 L569.5,664.6 L569.0,664.5 L568.8,665.0 L568.3,664.9 L568.5,666.4 L568.2,666.7 L567.6,666.3 L567.3,666.6 L567.4,668.6 L566.8,668.1 L566.2,667.8 L565.9,668.6 L565.5,668.6 L564.8,667.0 L564.3,666.9 L563.9,667.0 L563.5,667.0 L563.1,666.2 L562.7,666.2 L562.3,667.7 L561.8,668.1 L561.4,667.8 L561.1,666.2 L561.1,663.3 L560.6,664.9 L559.9,666.3 L559.5,666.4 L559.3,665.5 L558.8,665.7 L558.3,666.1 L557.7,666.6 L557.1,667.1 L556.7,666.7 L556.0,667.3 L555.9,666.4 L556.1,665.1 L555.9,664.6 L555.4,664.7 L555.2,664.2 L554.9,663.9 L553.9,664.7 L553.1,665.0 L552.9,664.5 L552.4,664.4 L552.3,663.9 L552.1,663.4 L551.7,663.2 L551.5,662.8 L550.5,663.1 L551.3,661.8 L551.3,661.3 L550.3,661.5 L551.2,660.3 L552.3,659.1 L550.9,659.6 L551.8,658.6 L552.6,657.8 L551.7,657.8 L550.2,658.1 L549.2,658.1 L549.8,657.4 L548.5,657.5 L547.6,657.3 L549.2,656.4 L549.9,655.7 L550.5,655.2 L548.6,655.2 L546.6,655.1 L546.1,654.7 L547.5,654.1 L547.7,653.6 L547.1,653.2 L546.9,652.8 L547.2,652.3 L548.5,651.9 L547.8,651.4 L548.7,651.1 L548.7,650.7 L548.7,650.2 L548.8,649.8 L547.8,649.2 L547.9,648.8 L548.0,648.4 L548.3,648.0 L548.4,647.6 L549.5,647.5 L550.0,647.2 L549.8,646.7 L551.2,647.0 L551.0,646.4 L550.7,645.8 L551.1,645.6 L552.4,645.9 L551.1,644.7 L550.8,644.0 L552.1,644.4 L552.2,644.0 L550.6,642.2 L550.7,641.7 L551.6,641.9 L550.7,640.4 L550.9,639.9 L552.4,640.9 L552.6,640.3 L553.4,640.7 L554.1,640.9 L554.1,640.2 L554.4,639.9 L554.2,638.8 L554.2,637.9 L554.7,637.8 L556.0,639.4 L557.7,641.9 L557.1,639.7 L557.0,638.5 L557.7,639.2 L558.3,639.7 L558.6,639.5 L559.0,639.5 L559.4,639.4 L559.6,638.8 L559.9,638.1 L560.2,637.3 L560.6,637.7 L561.0,637.5 L561.5,638.1 L561.9,638.2 L562.3,637.8 L562.7,638.0 L563.1,638.7 L563.5,638.8 L563.9,637.7 L564.4,637.0 L564.8,637.3 L565.3,637.1 L565.6,637.6 L566.2,636.9 L566.6,637.2 L566.9,637.6 L567.8,636.3 L568.0,637.1 L568.2,637.9 L568.2,639.1 L568.9,638.4 L568.9,639.5 L568.6,640.9 L569.2,640.5 L570.0,639.9 L569.9,640.9 L570.5,640.7 L571.3,640.2 L571.4,640.7 L571.5,641.3 L571.4,642.1 L570.5,643.6 L571.7,642.8 L573.6,641.5 L574.2,641.5 L574.2,642.1 L573.7,643.2 L574.4,643.1 L575.5,642.8 L575.6,643.3 L576.1,643.5 L576.3,643.9 L575.5,644.9 L575.1,645.6 L574.8,646.2 L575.4,646.4 L575.7,646.7 L576.9,646.7 L577.6,646.9 L577.3,647.5 L577.6,647.8 L578.0,648.2 L578.0,648.7 L577.6,649.2 L576.5,649.9 L576.8,650.2 L577.1,650.6 L576.0,651.1 L575.8,651.5 L576.3,651.9Z" fill="url(#cg8_1)" opacity="1" stroke="#8a8a8a" stroke-width="0.7" stroke-opacity="0.5"/>
<g clip-path="url(#cc8_1)"><rect x="531.7" y="617.3" width="65.0" height="65.0" filter="url(#grainL)" opacity="0.18"/><rect x="531.7" y="617.3" width="65.0" height="65.0" filter="url(#grainD)" opacity="0.22"/></g>
<circle cx="562.0" cy="651.9" r="5" fill="url(#ps8_2)"/>
</g>
<circle cx="564.2" cy="649.8" r="32.0" fill="none" stroke="#151515" stroke-width="1" opacity="0.85"/>
<g clip-path="url(#cp9)">
<circle cx="630.9" cy="649.8" r="32.5" fill="url(#pd9)"/>
<path d="M662.7,644.8 L661.9,645.6 L662.4,646.4 L662.6,647.2 L662.7,648.0 L663.3,648.9 L661.7,649.4 L661.0,650.1 L660.7,650.8 L660.4,651.6 L660.5,652.4 L659.9,653.0 L661.2,654.2 L661.5,655.2 L660.6,655.7 L658.7,655.9 L658.1,656.4 L658.3,657.4 L658.4,658.3 L657.6,658.8 L657.5,659.7 L656.7,660.2 L655.6,660.4 L655.0,661.0 L654.8,661.8 L654.2,662.4 L652.2,661.8 L652.1,662.7 L652.1,663.8 L651.4,664.2 L650.8,664.8 L650.4,665.5 L649.5,665.9 L648.7,666.1 L648.1,666.7 L648.0,667.9 L646.9,667.9 L646.2,668.5 L645.9,669.6 L645.3,670.2 L644.4,670.6 L643.7,671.1 L642.8,671.3 L641.6,671.0 L640.7,671.1 L639.8,671.2 L638.8,670.9 L637.8,670.5 L636.9,670.7 L635.9,670.0 L635.2,670.9 L634.5,671.9 L633.6,672.5 L632.6,671.4 L631.8,672.5 L630.9,672.7 L630.0,671.4 L629.3,669.5 L628.5,669.4 L627.4,671.6 L626.4,672.2 L625.7,671.1 L624.7,671.4 L623.9,671.1 L623.1,670.5 L622.3,670.4 L621.5,669.9 L620.6,669.9 L619.9,669.4 L618.8,669.7 L617.6,670.2 L616.8,669.7 L616.3,668.9 L615.5,668.5 L614.5,668.5 L614.0,667.8 L612.9,667.7 L611.9,667.6 L611.1,667.1 L611.1,665.9 L609.7,666.1 L609.5,665.1 L609.4,664.0 L608.7,663.5 L608.5,662.7 L608.8,661.5 L608.9,660.4 L607.7,660.4 L606.5,660.2 L605.7,659.8 L605.3,659.1 L604.9,658.4 L604.2,657.9 L602.9,657.7 L602.2,657.1 L602.6,656.0 L602.0,655.4 L601.7,654.7 L602.4,653.6 L602.4,652.9 L601.4,652.3 L600.2,651.8 L599.5,651.2 L599.3,650.4 L600.8,649.3 L600.4,648.6 L599.5,647.9 L599.8,647.1 L599.2,646.4 L599.2,645.6 L599.4,644.8 L600.1,644.0 L599.5,643.2 L599.4,642.4 L599.9,641.7 L600.8,641.0 L600.6,640.2 L600.7,639.5 L601.4,638.8 L601.3,638.0 L601.3,637.2 L602.4,636.7 L603.1,636.2 L603.4,635.5 L603.2,634.6 L604.1,634.1 L603.9,633.2 L603.8,632.3 L603.9,631.5 L603.6,630.5 L603.2,629.3 L604.5,629.1 L605.4,628.7 L606.0,628.0 L606.4,627.3 L606.5,626.4 L607.5,626.1 L608.8,626.1 L609.8,625.9 L610.2,625.2 L611.0,624.8 L611.5,624.1 L611.9,623.3 L611.8,622.0 L612.5,621.3 L613.7,621.5 L615.5,622.5 L616.6,622.7 L616.5,621.1 L616.9,620.0 L618.1,620.4 L619.1,620.4 L620.0,620.3 L620.6,619.6 L621.5,619.7 L622.1,618.7 L623.0,618.8 L624.1,619.3 L625.0,619.4 L625.5,617.7 L626.5,617.9 L627.4,618.4 L628.2,617.5 L629.1,617.8 L630.0,618.3 L630.9,617.0 L631.8,617.2 L632.7,617.1 L633.6,617.0 L634.6,616.4 L635.5,616.7 L636.4,616.9 L637.3,617.5 L638.1,618.0 L638.8,618.8 L639.5,619.4 L640.1,620.2 L641.0,620.2 L642.0,620.0 L642.6,620.7 L643.1,621.5 L644.2,621.2 L645.6,620.6 L646.2,621.1 L646.8,621.9 L647.6,622.1 L648.9,621.9 L648.5,623.7 L648.6,624.9 L649.8,624.7 L651.5,624.1 L652.5,624.3 L652.9,625.1 L653.3,625.8 L653.8,626.5 L654.3,627.2 L654.3,628.1 L655.5,628.3 L656.3,628.7 L657.1,629.2 L657.2,630.1 L658.5,630.3 L658.6,631.2 L659.0,631.9 L658.5,633.0 L659.4,633.5 L659.9,634.1 L659.9,635.0 L660.4,635.6 L661.3,636.2 L660.5,637.2 L660.7,638.0 L660.6,638.8 L660.4,639.6 L659.9,640.4 L659.3,641.2 L660.5,641.8 L659.9,642.6 L661.6,643.3 L662.2,644.0Z" fill="url(#cg9_1)" opacity="1" stroke="#8a8a8a" stroke-width="0.9" stroke-opacity="0.7"/>
<g clip-path="url(#cc9_1)"><rect x="598.4" y="617.3" width="65.0" height="65.0" filter="url(#grainL)" opacity="0.18"/><rect x="598.4" y="617.3" width="65.0" height="65.0" filter="url(#grainD)" opacity="0.22"/></g>
<circle cx="621.9" cy="647.8" r="12" fill="url(#ps9_2)"/>
<circle cx="637.9" cy="648.8" r="6" fill="url(#ps9_3)"/>
<path d="M597.9,629.8 Q603.9,631.8 604.9,641.8 Q603.9,651.8 600.9,657.8 L597.9,657.8 Z" fill="#2a2a2a" opacity="0.7"/>
<path d="M631.6,652.1L642.3,653.3M630.2,652.3L640.6,656.7M630.3,652.7L640.6,659.6M630.8,653.8L636.7,660.4M629.9,654.0L634.7,664.1M629.5,654.1L631.5,661.8M628.8,653.1L628.2,664.5M628.5,653.2L625.3,663.7M627.8,653.5L622.0,662.1M626.8,653.5L617.6,661.0M626.9,652.7L617.4,657.2M626.5,652.3L618.7,654.0M627.0,651.5L615.6,649.9M627.7,651.3L617.8,647.6M627.7,651.0L617.7,644.4M627.4,650.1L622.3,644.3M628.2,650.1L623.7,638.9M628.7,650.5L626.9,638.5M629.2,649.3L630.4,638.3M629.5,649.8L633.2,637.9M629.9,650.3L635.3,641.6M630.7,650.2L637.8,644.3M631.2,650.7L637.9,647.7M630.2,651.6L642.7,649.3" stroke="#7a7a7a" stroke-width="0.8" opacity="0.35" fill="none" stroke-linecap="round"/>
<circle cx="628.9" cy="652.3" r="3.2" fill="url(#ps9_6)"/>
</g>
<circle cx="630.9" cy="649.8" r="32.0" fill="none" stroke="#151515" stroke-width="1" opacity="0.85"/>
<g clip-path="url(#cp10)">
<circle cx="696.5" cy="649.8" r="32.5" fill="url(#pd10)"/>
<path d="M686.8,641.2 L687.4,641.0 L687.9,640.8 L688.3,640.5 L687.4,638.2 L687.5,637.2 L688.5,637.6 L689.3,637.7 L690.1,637.8 L691.2,638.5 L692.1,639.2 L692.9,639.8 L692.7,637.7 L693.4,637.7 L693.8,637.4 L694.3,637.0 L694.9,636.8 L695.5,637.2 L696.1,637.1 L696.6,636.8 L697.2,637.3 L697.8,638.5 L698.4,637.9 L698.8,639.5 L699.0,642.0 L699.5,641.7 L700.3,640.2 L700.4,641.6 L700.9,641.5 L701.7,640.5 L702.0,641.2 L702.0,642.3 L703.1,640.9 L704.2,639.7 L705.2,638.8 L706.1,638.2 L706.3,638.8 L705.5,640.9 L705.2,642.1 L706.1,641.6 L707.7,640.3 L708.0,640.7 L708.4,640.9 L707.7,642.4 L709.0,641.7 L709.5,641.9 L708.7,643.2 L707.7,644.6 L708.8,644.3 L709.9,644.0 L709.5,644.8 L710.2,644.8 L711.6,644.4 L712.4,644.5 L712.3,645.0 L712.1,645.6 L713.2,645.5 L712.9,646.1 L712.9,646.5 L713.8,646.6 L714.2,646.9 L714.6,647.2 L713.9,647.9 L713.9,648.3 L714.2,648.6 L716.4,648.6 L718.4,648.7 L718.0,649.2 L716.5,650.0 L718.0,650.2 L719.1,650.6 L717.9,651.2 L717.9,651.6 L719.5,652.0 L720.2,652.4 L717.5,652.8 L718.3,653.2 L715.9,653.5 L714.2,653.7 L715.9,654.2 L718.4,654.8 L717.7,655.1 L715.8,655.2 L713.9,655.3 L715.5,655.9 L716.0,656.4 L714.1,656.3 L712.5,656.3 L713.4,656.8 L715.1,657.6 L715.5,658.1 L715.3,658.4 L715.0,658.7 L714.6,658.9 L713.3,658.8 L712.3,658.7 L711.7,658.8 L710.7,658.8 L710.5,659.0 L709.4,658.8 L709.1,659.1 L709.8,660.0 L708.5,659.7 L707.6,659.6 L708.3,660.6 L707.1,660.3 L706.8,660.7 L706.5,661.0 L705.2,660.5 L703.5,659.3 L703.8,660.4 L703.2,660.6 L701.8,659.4 L701.6,659.8 L701.2,660.1 L700.1,658.9 L699.2,657.3 L699.2,658.3 L699.2,660.1 L699.0,661.5 L698.7,663.7 L698.1,664.5 L697.6,661.7 L697.2,661.7 L696.8,662.6 L696.4,663.0 L695.8,664.0 L695.6,663.7 L695.0,664.6 L694.3,666.3 L693.6,667.4 L693.6,666.2 L693.7,664.9 L693.3,665.4 L692.9,665.6 L692.9,664.8 L692.6,664.9 L691.3,667.1 L690.8,667.5 L691.0,666.5 L690.5,666.9 L689.8,667.6 L689.7,667.2 L689.3,667.5 L689.4,666.7 L688.9,667.1 L688.4,667.4 L688.6,666.6 L688.3,666.4 L688.8,665.2 L687.5,666.4 L686.0,667.8 L685.2,668.0 L685.4,667.1 L684.5,667.3 L683.3,667.7 L684.5,665.7 L682.3,667.0 L681.0,667.3 L680.5,666.9 L680.6,666.0 L680.5,665.3 L681.3,664.1 L682.6,662.6 L681.4,662.8 L679.5,663.4 L679.6,662.8 L679.7,662.2 L681.6,660.7 L680.3,660.8 L678.9,660.9 L680.6,659.7 L683.8,658.0 L683.6,657.6 L682.2,657.6 L682.3,657.1 L681.5,656.8 L680.3,656.6 L680.8,655.9 L681.3,655.3 L681.0,654.9 L681.4,654.3 L680.7,653.9 L681.6,653.3 L682.0,652.9 L682.5,652.4 L683.0,652.0 L682.9,651.6 L682.7,651.1 L680.7,650.4 L680.7,649.9 L679.2,649.1 L679.7,648.6 L680.5,648.3 L682.0,648.2 L681.6,647.5 L682.3,647.2 L683.1,646.9 L682.3,646.0 L681.8,645.1 L684.5,645.9 L685.8,646.0 L686.1,645.6 L687.2,645.8 L685.7,644.2 L685.1,643.1 L684.3,641.8 L685.7,642.2 L686.7,642.4 L686.0,641.1Z" fill="url(#cg10_1)" opacity="1"/>
<g clip-path="url(#cc10_1)"><rect x="664.0" y="617.3" width="65.0" height="65.0" filter="url(#grainL)" opacity="0.18"/><rect x="664.0" y="617.3" width="65.0" height="65.0" filter="url(#grainD)" opacity="0.22"/></g>
<circle cx="690.8" cy="647.0999999999999" r="10.5" fill="url(#ps10_2)"/>
<circle cx="690.8" cy="647.0999999999999" r="6.8" fill="url(#ps10_3)"/>
</g>
<circle cx="696.5" cy="649.8" r="32.0" fill="none" stroke="#151515" stroke-width="1" opacity="0.85"/>
<text x="134.9" y="706.3" font-family="Liberation Sans" font-size="14.5" text-anchor="middle" fill="#222" font-weight="normal" >100P</text>
<line x1="98.8" y1="709.3" x2="172.7" y2="709.3" stroke="#555" stroke-width="1.1"/>
<text x="98.60" y="728.8" font-family="Liberation Sans" font-weight="bold" font-size="14.81" text-anchor="middle" fill="#1b9fd3">I</text>
<text x="170.90" y="728.8" font-family="Liberation Sans" font-weight="bold" font-size="14.81" text-anchor="middle" fill="#e07f22">II</text>
<g clip-path="url(#cp11)">
<circle cx="99.7" cy="766.9" r="33" fill="url(#pd11)"/>
<path d="M97.5,737.6 L99.0,738.4 L100.8,737.9 L102.7,738.0 L104.6,738.9 L106.8,738.3 L108.5,739.4 L110.3,739.8 L111.5,741.2 L112.2,742.9 L112.4,744.7 L115.0,742.9 L116.6,742.4 L116.5,744.2 L117.4,744.6 L119.6,743.5 L120.3,744.1 L120.1,745.5 L121.1,745.8 L122.6,745.7 L122.9,746.6 L123.4,747.3 L123.8,748.2 L123.9,749.2 L123.3,750.7 L123.0,751.8 L122.5,753.1 L122.2,754.2 L122.7,754.8 L124.4,755.0 L123.4,756.3 L122.9,757.4 L123.1,758.2 L123.7,758.9 L123.9,759.7 L122.9,760.7 L123.0,761.4 L120.4,762.5 L118.6,763.2 L120.0,763.5 L120.3,763.9 L119.3,764.4 L118.8,764.9 L119.1,765.3 L118.8,765.9 L118.8,766.5 L119.1,767.2 L118.1,767.8 L119.2,768.7 L119.3,769.4 L119.8,770.3 L121.8,771.5 L123.3,772.7 L122.4,773.2 L121.2,773.5 L123.6,774.9 L123.2,775.4 L121.8,775.3 L123.3,776.5 L124.3,777.4 L124.0,777.7 L123.5,777.9 L122.7,777.9 L123.4,778.7 L123.3,779.0 L124.4,780.0 L124.4,780.4 L124.1,780.5 L124.8,781.3 L124.5,781.6 L123.6,781.5 L122.3,781.1 L123.2,782.3 L123.2,783.0 L121.6,782.4 L120.0,782.0 L119.6,782.4 L118.8,782.6 L119.0,783.7 L118.9,784.6 L119.1,786.0 L117.9,785.9 L116.7,785.9 L116.6,786.9 L115.8,787.4 L115.9,788.8 L114.7,788.6 L114.3,789.6 L113.9,790.6 L113.4,791.2 L112.8,792.1 L112.2,792.9 L111.0,792.6 L109.3,791.0 L108.1,790.5 L107.5,791.8 L106.2,791.0 L105.0,790.1 L104.1,790.5 L103.3,791.2 L102.2,790.9 L101.1,790.3 L99.9,790.3 L98.7,790.6 L97.5,790.8 L96.3,790.7 L95.1,790.7 L94.1,790.0 L93.3,789.2 L92.9,788.0 L92.7,786.5 L92.3,786.1 L92.1,785.5 L91.6,785.6 L91.6,784.7 L91.5,783.8 L90.7,784.3 L89.9,784.7 L89.5,783.9 L88.5,784.1 L88.2,783.0 L89.2,780.2 L88.8,779.5 L87.7,779.7 L87.7,778.5 L86.8,778.4 L86.3,777.7 L85.3,777.5 L84.9,776.7 L83.9,776.2 L83.9,775.1 L83.9,774.1 L82.9,773.7 L83.0,772.7 L81.6,772.5 L79.2,772.6 L78.9,772.0 L79.1,771.3 L77.2,771.2 L75.5,771.0 L76.6,770.3 L76.8,769.8 L75.2,769.6 L73.8,769.3 L74.6,768.6 L74.7,768.1 L76.2,767.4 L77.0,766.8 L77.3,766.2 L78.4,765.6 L77.9,765.0 L78.4,764.5 L76.6,763.8 L77.0,763.4 L77.5,763.2 L78.3,763.1 L75.9,762.7 L75.1,762.5 L75.4,762.5 L75.4,762.5 L76.3,762.5 L75.6,762.3 L73.4,761.7 L71.7,761.1 L71.9,760.7 L71.5,760.2 L71.2,759.7 L70.5,759.0 L70.0,758.4 L69.8,757.8 L69.7,757.2 L70.3,756.7 L68.7,755.5 L69.5,755.1 L68.4,753.9 L66.9,752.4 L67.9,752.0 L70.4,752.2 L69.9,751.1 L69.8,750.1 L71.2,749.9 L72.4,749.6 L72.3,748.4 L73.5,748.0 L74.7,747.6 L76.0,747.2 L77.4,747.0 L77.8,745.9 L78.5,745.0 L79.0,744.1 L79.5,742.9 L80.4,742.3 L81.0,741.2 L82.4,741.1 L83.8,741.1 L84.5,740.2 L85.3,739.2 L86.5,739.2 L88.1,740.1 L89.3,740.2 L89.7,738.5 L90.5,737.7 L91.2,736.3 L92.1,735.8 L93.5,736.8 L94.9,737.8 L96.1,737.6Z" fill="url(#cg11_1)" opacity="1" stroke="#a8a8a8" stroke-width="0.9" stroke-opacity="0.6"/>
<g clip-path="url(#cc11_1)"><rect x="66.7" y="733.9" width="66" height="66" filter="url(#grainL)" opacity="0.2"/><rect x="66.7" y="733.9" width="66" height="66" filter="url(#grainD)" opacity="0.22"/></g>
<g clip-path="url(#cc11_1)">
<path d="M102.4,768.8L104.9,768.7M104.9,768.7L108.3,770.7M104.9,768.7L107.4,769.3L109.8,770.1L112.3,770.1M112.3,770.1L115.2,769.6M112.3,770.1L114.8,770.2L117.4,770.0L119.9,769.4L122.4,769.5M122.4,769.5L125.6,767.6M122.4,769.5L124.9,768.7L127.4,769.1L129.9,769.3M101.0,769.0L103.5,769.2M103.5,769.2L107.7,768.3M103.5,769.2L105.9,769.8M105.9,769.8L108.9,768.7M105.9,769.8L108.4,769.8M108.4,769.8L111.3,772.3M108.4,769.8L110.9,770.0L113.4,770.6L115.8,771.5L118.0,772.9L120.4,773.8L122.8,774.6L125.4,774.4L128.1,773.3M100.5,769.2L102.9,769.7M102.9,769.7L107.7,768.8M102.9,769.7L105.2,770.8L107.4,772.0M107.4,772.0L109.6,771.6M107.4,772.0L109.9,772.5L112.4,773.0L114.9,773.4L116.9,775.2M116.9,775.2L120.5,774.4M116.9,775.2L119.3,776.0L122.0,775.7L124.3,776.9M124.3,776.9L128.1,776.5M124.3,776.9L127.0,776.7L129.5,776.7M129.5,776.7L134.4,776.4M129.5,776.7M100.9,769.4L103.3,770.1L105.7,770.6L108.2,771.3L110.6,771.7L113.0,772.4M113.0,772.4L115.8,772.3M113.0,772.4L115.5,772.9L117.9,773.6L120.1,774.9L122.2,776.6M100.4,769.6L102.5,770.9L104.8,771.9L107.0,773.0L109.4,773.9M109.4,773.9L111.9,776.3M109.4,773.9L111.6,775.1M111.6,775.1L114.2,775.5M111.6,775.1L113.7,776.4M113.7,776.4L118.5,777.3M113.7,776.4L115.8,777.9M115.8,777.9L118.8,778.6M115.8,777.9L117.4,780.1L119.4,781.6L121.0,783.7M100.8,770.3L102.6,772.0M102.6,772.0L104.2,774.4M102.6,772.0L104.8,773.4M104.8,773.4L107.8,773.6M104.8,773.4L107.0,774.5M107.0,774.5L108.9,777.6M107.0,774.5L109.3,775.6M109.3,775.6L113.4,776.2M109.3,775.6L110.9,777.7L112.6,779.6L115.1,780.4M115.1,780.4L117.4,781.2M115.1,780.4L117.1,781.9L119.9,782.2M119.9,782.2L124.2,783.1M119.9,782.2M100.9,770.5L102.8,772.1M102.8,772.1L104.0,774.0M102.8,772.1L104.8,773.5M104.8,773.5L107.1,774.5M104.8,773.5L106.8,775.1L108.7,776.7L110.2,778.8M110.2,778.8L112.3,782.3M110.2,778.8L111.5,781.1L113.6,782.5L115.0,784.7L116.0,787.2M116.0,787.2L118.0,790.9M116.0,787.2L118.2,788.6M101.4,771.8L102.8,773.9L104.6,775.7L106.1,777.7L107.2,780.0L109.0,781.7M109.0,781.7L109.8,784.5M109.0,781.7L110.6,783.7L112.6,785.3L115.2,786.3L117.5,787.5L118.7,789.8L121.4,790.7M121.4,790.7L126.1,791.9M121.4,790.7M99.4,770.0L100.7,772.1M100.7,772.1L101.1,775.1M100.7,772.1L102.1,774.3M102.1,774.3L102.7,777.7M102.1,774.3L103.6,776.3L105.4,778.1L107.4,779.6L108.8,781.7L110.8,783.3L112.4,785.2L114.9,786.4L115.8,788.9M115.8,788.9L117.9,789.8M115.8,788.9L116.9,791.2M116.9,791.2L119.3,792.7M116.9,791.2M99.2,770.0L100.3,772.3L101.4,774.5M101.4,774.5L104.4,776.5M101.4,774.5L102.1,776.9M102.1,776.9L102.0,780.8M102.1,776.9L102.5,779.4M102.5,779.4L104.5,782.1M102.5,779.4L102.8,782.0L102.9,784.6L103.7,786.9M103.7,786.9L106.5,790.9M103.7,786.9L103.9,789.5L104.6,791.9L105.1,794.3M105.1,794.3L106.2,796.4M105.1,794.3L104.8,797.0M104.8,797.0L106.7,799.1M104.8,797.0L106.2,799.2M100.0,772.2L101.2,774.4M101.2,774.4L100.8,778.4M101.2,774.4L102.6,776.5L103.1,779.0M103.1,779.0L103.0,781.7M103.1,779.0L104.6,781.1L105.1,783.6L105.2,786.2M105.2,786.2L105.3,789.1M105.2,786.2L105.7,788.7L105.6,791.4L107.6,793.4M107.6,793.4L107.4,797.5M107.6,793.4M99.0,770.2L99.7,772.6L100.7,774.9L101.7,777.2L102.3,779.6L103.7,781.8L105.0,783.9L106.9,785.8M106.9,785.8L109.6,788.8M106.9,785.8L107.3,788.4M107.3,788.4L109.4,790.7M107.3,788.4L108.1,790.8L110.4,792.4M110.4,792.4L113.7,795.1M110.4,792.4L113.0,793.9L114.2,796.1M99.1,771.8L99.5,774.3L100.1,776.7L101.0,779.1M101.0,779.1L103.1,782.0M101.0,779.1L101.4,781.5L102.2,783.9L102.8,786.3L103.8,788.7L105.4,790.8L105.3,793.4M98.6,770.9L98.8,773.4L99.2,775.8L99.3,778.3L99.7,780.8L99.9,783.3M99.9,783.3L101.4,785.3M99.9,783.3L99.9,785.8L99.3,788.3L100.4,790.8L99.4,793.3M99.4,793.3L101.4,796.7M99.4,793.3L98.4,795.9L97.6,798.3L97.4,800.8M98.4,771.2L98.1,773.7L97.6,776.2M97.6,776.2L96.0,778.1M97.6,776.2L97.5,778.7L96.6,781.1L95.7,783.5L94.9,785.9M94.9,785.9L96.2,789.9M94.9,785.9L93.7,788.2L92.3,790.4L90.3,792.4L89.8,794.8L89.1,797.3M97.8,771.6L97.4,774.1M97.4,774.1L98.2,776.7M97.4,774.1L97.2,776.6L97.2,779.1M97.2,779.1L96.0,781.3M97.2,779.1L96.9,781.6L96.8,784.1L97.2,786.6M97.2,786.6L97.6,788.8M97.2,786.6L98.0,789.2L96.8,791.6M96.8,791.6L97.7,794.7M96.8,791.6L96.3,794.1L95.9,796.5M95.9,796.5L94.3,799.4M95.9,796.5L94.1,798.9M97.4,772.7L96.7,775.1L96.5,777.7M96.5,777.7L93.8,780.3M96.5,777.7L95.6,780.0L95.1,782.5M95.1,782.5L92.6,786.1M95.1,782.5L95.1,785.0L93.5,787.2M93.5,787.2L89.8,790.5M93.5,787.2L94.0,789.9L94.6,792.6M94.6,792.6L93.4,795.2M94.6,792.6L93.6,794.9M97.4,771.2L96.5,773.5L95.4,775.8L94.0,777.9M94.0,777.9L90.8,780.6M94.0,777.9L92.8,780.1M92.8,780.1L90.8,781.3M92.8,780.1L91.1,782.0L90.2,784.4L88.2,786.1L86.9,788.3L86.6,790.9L86.6,793.7M86.6,793.7L84.0,796.0M86.6,793.7M96.8,771.2L95.4,773.3L93.9,775.3L92.7,777.5L91.1,779.4M91.1,779.4L90.4,782.5M91.1,779.4L89.8,781.6M89.8,781.6L89.5,784.5M89.8,781.6L88.6,783.8L86.5,785.4M86.5,785.4L83.6,787.2M86.5,785.4L86.2,788.2M86.2,788.2L83.8,790.1M86.2,788.2L84.8,790.3L82.8,791.9L82.0,794.4M82.0,794.4L77.8,797.0M82.0,794.4M96.7,770.7L95.1,772.7L93.7,774.7L92.2,776.7L91.0,778.9L88.9,780.5M88.9,780.5L88.7,782.7M88.9,780.5L87.0,782.2M87.0,782.2L84.7,783.0M87.0,782.2L85.2,783.9L83.4,785.6L81.4,787.2M81.4,787.2L80.6,789.9M81.4,787.2L80.0,789.3M95.6,771.4L94.1,773.4L92.3,775.2L90.3,776.7M90.3,776.7L87.4,777.9M90.3,776.7L89.1,779.0L87.3,780.8L84.8,781.9M84.8,781.9L83.8,783.7M84.8,781.9L82.9,783.5L80.9,785.0L79.5,787.1M96.9,769.9L95.1,771.6L93.6,773.6L91.7,775.3L89.8,776.9L87.5,778.1L85.3,779.5M85.3,779.5L84.2,781.9M85.3,779.5L83.0,780.6L81.4,782.5M81.4,782.5L76.9,783.3M81.4,782.5L78.9,783.4L77.7,785.9M96.7,769.7L94.7,771.2L92.6,772.5M92.6,772.5L89.7,773.2M92.6,772.5L90.2,773.4L88.3,775.2L86.2,776.5M86.2,776.5L83.9,780.3M86.2,776.5L84.4,778.3L82.0,779.2M82.0,779.2L79.5,782.3M82.0,779.2L80.2,780.9M80.2,780.9L78.0,781.0M80.2,780.9L77.4,781.3L75.4,782.8L72.5,782.7M72.5,782.7L68.5,782.9M72.5,782.7M95.2,770.0L92.9,770.8L90.6,771.9M90.6,771.9L86.2,771.2M90.6,771.9L88.2,772.5L85.7,773.1M85.7,773.1L83.5,774.9M85.7,773.1L83.2,773.6L81.1,774.9L78.5,775.1L76.3,776.3M76.3,776.3L71.9,776.6M76.3,776.3L74.0,777.5M74.0,777.5L70.4,777.7M74.0,777.5L71.7,778.4M96.4,769.3L94.0,770.1M94.0,770.1L90.9,770.0M94.0,770.1L91.6,770.7L89.3,771.7L86.9,772.4M86.9,772.4L84.0,772.4M86.9,772.4L84.7,773.9L82.6,775.3L80.8,777.3L78.6,778.4L76.6,780.0M76.6,780.0L74.7,781.7M76.6,780.0M94.2,769.5L91.7,769.9L89.2,770.1L86.8,770.6L84.2,770.7L81.7,770.8L79.2,770.4L76.8,771.8L74.4,772.4L72.2,774.2M72.2,774.2L69.6,776.8M72.2,774.2L70.0,775.9L67.2,774.8M94.8,769.1L92.4,769.6M92.4,769.6L89.9,771.8M92.4,769.6L89.9,770.1L87.5,770.9L85.2,772.0L82.7,772.2L80.5,773.7L78.0,773.9M78.0,773.9L75.3,773.9M78.0,773.9L75.5,774.4M95.7,768.5L93.2,768.7L90.7,768.9M90.7,768.9L88.6,769.6M90.7,768.9L88.3,769.4L85.8,769.8L83.3,770.4L80.8,769.9L78.4,771.1L76.1,772.7M76.1,772.7L71.5,771.6M76.1,772.7L73.8,773.9L71.4,774.7M94.6,768.2L92.1,768.3L89.6,768.5L87.1,768.5M87.1,768.5L82.9,766.4M87.1,768.5L84.6,768.3L82.1,769.0M82.1,769.0L80.2,770.1M82.1,769.0L79.7,770.2L77.1,769.6L74.7,770.2M74.7,770.2L70.7,772.4M74.7,770.2L72.3,771.7L69.8,771.7L67.4,773.2M67.4,773.2L65.4,772.9M67.4,773.2M96.6,768.1L94.2,767.5L91.8,766.9L89.4,766.0L86.9,765.7L84.6,764.5L82.2,764.0L79.9,763.0L77.8,761.4L75.1,761.5M75.1,761.5L72.3,759.8M75.1,761.5L73.1,759.5M73.1,759.5L69.6,757.0M73.1,759.5L71.2,757.5L68.5,757.6M68.5,757.6L66.9,755.6M68.5,757.6M95.1,767.3L92.7,766.6M92.7,766.6L91.2,765.2M92.7,766.6L90.3,765.9M90.3,765.9L87.5,766.1M90.3,765.9L87.8,765.6L85.4,764.7L83.3,763.2L80.8,762.7M80.8,762.7L79.0,760.7M80.8,762.7L78.3,762.3L75.9,761.7L73.5,761.0L70.9,761.0M70.9,761.0L69.3,759.3M70.9,761.0M97.0,767.8L94.8,766.7L92.4,765.9L90.2,764.7L88.1,763.4M88.1,763.4L85.4,760.7M88.1,763.4L85.7,762.4M85.7,762.4L82.2,762.3M85.7,762.4L83.4,761.6L81.0,760.7L78.4,760.5M78.4,760.5L76.8,759.2M78.4,760.5L76.6,758.3L74.2,757.6L71.4,757.8L69.5,755.8M69.5,755.8L66.9,755.5M69.5,755.8M96.6,767.4L94.6,766.0L92.3,764.9L90.1,763.8M90.1,763.8L87.9,760.0M90.1,763.8L87.9,762.5M87.9,762.5L85.7,759.6M87.9,762.5L85.7,761.4L83.2,760.6M83.2,760.6L81.2,760.7M83.2,760.6L81.2,759.1L78.5,758.9L76.8,756.8M76.8,756.8L73.2,753.4M76.8,756.8L75.3,754.3L73.7,752.2M73.7,752.2L70.5,751.3M73.7,752.2M96.5,766.7L94.6,765.0L92.9,763.2M92.9,763.2L91.8,761.5M92.9,763.2L91.4,761.1L90.0,759.1L88.7,756.9L87.0,755.0M87.0,755.0L84.4,753.7M87.0,755.0L84.5,753.9L83.6,751.4M83.6,751.4L82.9,746.9M83.6,751.4L81.8,749.7L80.6,747.3M96.6,766.5L94.8,764.9L92.8,763.2L90.7,761.9L88.3,760.9L86.3,759.4L84.7,757.3M84.7,757.3L81.3,756.0M84.7,757.3L82.2,756.6L79.5,756.1M79.5,756.1L75.6,755.0M79.5,756.1L77.6,754.3L74.9,754.0M74.9,754.0L70.4,752.6M74.9,754.0L73.7,751.3M96.3,765.4L94.8,763.4M94.8,763.4L93.7,759.1M94.8,763.4L93.5,761.2M93.5,761.2L90.8,759.7M93.5,761.2L91.7,759.5L90.8,757.1L90.1,754.5L88.1,752.8L87.6,750.2L85.7,748.4L84.7,746.1M97.5,767.0L96.1,764.9L94.5,763.0L93.4,760.7L91.8,758.8L90.1,756.9L88.0,755.4M88.0,755.4L85.0,754.4M88.0,755.4L86.0,753.8L84.4,751.9M84.4,751.9L83.7,749.0M84.4,751.9L82.9,749.9M97.7,766.8L96.6,764.5L95.6,762.2L94.3,760.0L93.0,757.9L92.6,755.3L92.3,752.7L92.1,750.2M92.1,750.2L89.8,748.0M92.1,750.2L90.6,748.0L88.6,746.2M88.6,746.2L88.2,743.3M88.6,746.2L88.6,743.5M88.6,743.5L88.5,741.2M88.6,743.5M98.0,767.1L97.5,764.6L97.0,762.2L96.3,759.8M96.3,759.8L94.6,757.8M96.3,759.8L96.2,757.2L95.0,754.9L93.7,752.7M93.7,752.7L94.5,749.4M93.7,752.7L92.8,750.4M92.8,750.4L91.4,748.3M92.8,750.4L93.1,747.7L92.0,745.4L90.5,743.2L91.2,740.4M97.6,764.6L97.2,762.1L96.5,759.7L95.6,757.4L95.3,754.9L94.3,752.6M94.3,752.6L92.7,750.3M94.3,752.6L93.9,750.1L92.1,748.0L92.4,745.3M92.4,745.3L93.0,743.4M92.4,745.3L91.2,743.0M91.2,743.0L91.9,738.5M91.2,743.0L89.9,740.8M98.1,765.4L97.6,762.9M97.6,762.9L96.3,760.7M97.6,762.9L97.4,760.4M97.4,760.4L96.1,758.7M97.4,760.4L97.0,757.9L96.2,755.5L96.2,753.0M96.2,753.0L94.2,750.6M96.2,753.0L95.2,750.6M95.2,750.6L95.6,747.8M95.2,750.6L95.8,748.0L96.6,745.4L95.0,743.1M95.0,743.1L95.8,739.7M95.0,743.1L95.1,740.5L94.2,738.1L93.2,735.8M98.7,765.1L98.8,762.6L98.5,760.1L98.4,757.6M98.4,757.6L100.0,754.7M98.4,757.6L98.3,755.1L97.5,752.7L98.4,750.1M98.4,750.1L100.1,746.5M98.4,750.1L99.6,747.7M99.6,747.7L101.1,745.1M99.6,747.7L100.9,745.3L102.0,742.9M102.0,742.9L103.9,739.1M102.0,742.9L103.2,740.5M99.0,764.9L99.4,762.4L99.6,759.9M99.6,759.9L101.3,757.3M99.6,759.9L100.1,757.5L100.6,755.0L101.9,752.7L103.2,750.5M103.2,750.5L101.7,746.1M103.2,750.5L104.7,748.3M104.7,748.3L107.4,745.7M104.7,748.3L104.9,745.7L104.7,743.1L105.9,740.8M99.1,766.4L99.8,764.0L100.9,761.7M100.9,761.7L100.4,757.2M100.9,761.7L102.2,759.5M102.2,759.5L104.0,758.1M102.2,759.5L103.1,757.2M103.1,757.2L105.5,754.2M103.1,757.2L103.6,754.7L104.1,752.2L103.8,749.5L104.4,747.1M104.4,747.1L104.2,742.6M104.4,747.1L105.1,744.7L105.5,742.2M100.1,764.9L100.7,762.4L101.7,760.1L102.2,757.6M102.2,757.6L104.8,755.0M102.2,757.6L102.4,755.1M102.4,755.1L101.9,753.1M102.4,755.1L102.4,752.5M102.4,752.5L102.1,749.1M102.4,752.5L104.0,750.3M104.0,750.3L106.6,748.2M104.0,750.3L105.4,748.2L104.9,745.4M100.2,765.4L101.1,763.1L102.3,760.9L103.7,758.8L105.5,756.9L107.1,755.0L108.8,753.1L110.9,751.5L111.3,748.8M111.3,748.8L113.4,747.0M111.3,748.8L112.9,746.8L114.5,744.9M114.5,744.9L117.4,742.8M114.5,744.9L116.7,743.4M100.3,765.7L101.9,763.8M101.9,763.8L104.9,762.5M101.9,763.8L103.3,761.7M103.3,761.7L107.5,759.8M103.3,761.7L105.1,759.9L106.9,758.1M106.9,758.1L109.1,756.8M106.9,758.1L108.0,755.8L108.7,753.2L109.4,750.7L109.6,748.0M100.6,765.9L101.9,763.8L103.2,761.7L105.1,759.9L106.9,758.2L109.1,756.8L111.4,755.6L112.6,753.3L113.9,751.0L116.1,749.6M116.1,749.6L119.4,748.2M116.1,749.6M101.7,765.4L103.5,763.7L105.7,762.4L107.4,760.5L109.7,759.3L111.6,757.7L114.2,756.9M114.2,756.9L115.4,754.5M114.2,756.9L116.5,755.9L118.1,753.8M100.3,767.1L102.3,765.6M102.3,765.6L104.6,764.8M102.3,765.6L104.3,764.2L106.4,762.7M106.4,762.7L109.0,759.3M106.4,762.7L108.0,760.7M108.0,760.7L109.2,756.6M108.0,760.7L110.0,759.2L111.4,757.1L112.8,754.8M112.8,754.8L115.1,754.1M112.8,754.8L114.8,753.4M114.8,753.4L115.6,751.4M114.8,753.4L117.1,752.2M117.1,752.2L118.4,749.4M117.1,752.2L119.3,750.9M100.0,767.7L102.3,766.6L104.6,765.8M104.6,765.8L106.8,763.8M104.6,765.8L107.1,765.3L109.4,764.2M109.4,764.2L112.5,761.5M109.4,764.2L111.4,762.6L113.4,761.1L115.8,760.2L118.3,759.6L120.0,757.3M120.0,757.3L122.9,753.8M120.0,757.3M100.4,767.7L102.8,766.9M102.8,766.9L105.9,767.2M102.8,766.9L105.1,766.1L107.5,765.2L109.7,764.2M109.7,764.2L112.0,762.1M109.7,764.2L112.0,763.0M112.0,763.0L116.7,762.9M112.0,763.0L114.1,761.7L116.8,761.6L118.8,759.9L121.4,759.5L123.2,757.6M123.2,757.6L127.4,757.2M123.2,757.6L125.9,757.4M125.9,757.4L127.7,755.0M125.9,757.4L127.6,755.0M100.6,767.8L103.0,767.2L105.4,766.7L107.9,766.2M107.9,766.2L109.4,764.7M107.9,766.2L110.3,765.6L113.0,765.9L115.3,765.1L117.9,765.2L120.5,765.5L123.1,766.2L125.5,765.1L128.1,766.3M101.3,768.1L103.8,767.9L106.3,768.0L108.8,767.5L111.3,767.1M111.3,767.1L114.0,765.4M111.3,767.1L113.7,766.7L116.2,766.5L118.7,766.3M118.7,766.3L122.4,766.9M118.7,766.3L121.2,765.8L123.6,765.1M123.6,765.1L125.3,764.0M123.6,765.1L126.2,765.6M126.2,765.6L128.7,764.1M126.2,765.6L128.6,764.9L130.9,763.3M130.9,763.3L132.9,763.5M130.9,763.3M100.5,768.4L103.0,768.5L105.5,768.0L107.9,767.7L110.4,767.1L112.9,767.2L115.3,766.3M115.3,766.3L118.1,764.7M115.3,766.3L117.9,766.3L120.2,764.8L122.8,765.4M122.8,765.4L125.7,763.1M122.8,765.4L125.3,765.5L127.9,766.7L130.3,765.1" stroke="#9a9a9a" stroke-width="0.8" opacity="0.4" fill="none" stroke-linecap="round"/>
</g>
<path d="M97.5,737.6 L99.0,738.4 L100.8,737.9 L102.7,738.0 L104.6,738.9 L106.8,738.3 L108.5,739.4 L110.3,739.8 L111.5,741.2 L112.2,742.9 L112.4,744.7 L115.0,742.9 L116.6,742.4 L116.5,744.2 L117.4,744.6 L119.6,743.5 L120.3,744.1 L120.1,745.5 L121.1,745.8 L122.6,745.7 L122.9,746.6 L123.4,747.3 L123.8,748.2 L123.9,749.2 L123.3,750.7 L123.0,751.8 L122.5,753.1 L122.2,754.2 L122.7,754.8 L124.4,755.0 L123.4,756.3 L122.9,757.4 L123.1,758.2 L123.7,758.9 L123.9,759.7 L122.9,760.7 L123.0,761.4 L120.4,762.5 L118.6,763.2 L120.0,763.5 L120.3,763.9 L119.3,764.4 L118.8,764.9 L119.1,765.3 L118.8,765.9 L118.8,766.5 L119.1,767.2 L118.1,767.8 L119.2,768.7 L119.3,769.4 L119.8,770.3 L121.8,771.5 L123.3,772.7 L122.4,773.2 L121.2,773.5 L123.6,774.9 L123.2,775.4 L121.8,775.3 L123.3,776.5 L124.3,777.4 L124.0,777.7 L123.5,777.9 L122.7,777.9 L123.4,778.7 L123.3,779.0 L124.4,780.0 L124.4,780.4 L124.1,780.5 L124.8,781.3 L124.5,781.6 L123.6,781.5 L122.3,781.1 L123.2,782.3 L123.2,783.0 L121.6,782.4 L120.0,782.0 L119.6,782.4 L118.8,782.6 L119.0,783.7 L118.9,784.6 L119.1,786.0 L117.9,785.9 L116.7,785.9 L116.6,786.9 L115.8,787.4 L115.9,788.8 L114.7,788.6 L114.3,789.6 L113.9,790.6 L113.4,791.2 L112.8,792.1 L112.2,792.9 L111.0,792.6 L109.3,791.0 L108.1,790.5 L107.5,791.8 L106.2,791.0 L105.0,790.1 L104.1,790.5 L103.3,791.2 L102.2,790.9 L101.1,790.3 L99.9,790.3 L98.7,790.6 L97.5,790.8 L96.3,790.7 L95.1,790.7 L94.1,790.0 L93.3,789.2 L92.9,788.0 L92.7,786.5 L92.3,786.1 L92.1,785.5 L91.6,785.6 L91.6,784.7 L91.5,783.8 L90.7,784.3 L89.9,784.7 L89.5,783.9 L88.5,784.1 L88.2,783.0 L89.2,780.2 L88.8,779.5 L87.7,779.7 L87.7,778.5 L86.8,778.4 L86.3,777.7 L85.3,777.5 L84.9,776.7 L83.9,776.2 L83.9,775.1 L83.9,774.1 L82.9,773.7 L83.0,772.7 L81.6,772.5 L79.2,772.6 L78.9,772.0 L79.1,771.3 L77.2,771.2 L75.5,771.0 L76.6,770.3 L76.8,769.8 L75.2,769.6 L73.8,769.3 L74.6,768.6 L74.7,768.1 L76.2,767.4 L77.0,766.8 L77.3,766.2 L78.4,765.6 L77.9,765.0 L78.4,764.5 L76.6,763.8 L77.0,763.4 L77.5,763.2 L78.3,763.1 L75.9,762.7 L75.1,762.5 L75.4,762.5 L75.4,762.5 L76.3,762.5 L75.6,762.3 L73.4,761.7 L71.7,761.1 L71.9,760.7 L71.5,760.2 L71.2,759.7 L70.5,759.0 L70.0,758.4 L69.8,757.8 L69.7,757.2 L70.3,756.7 L68.7,755.5 L69.5,755.1 L68.4,753.9 L66.9,752.4 L67.9,752.0 L70.4,752.2 L69.9,751.1 L69.8,750.1 L71.2,749.9 L72.4,749.6 L72.3,748.4 L73.5,748.0 L74.7,747.6 L76.0,747.2 L77.4,747.0 L77.8,745.9 L78.5,745.0 L79.0,744.1 L79.5,742.9 L80.4,742.3 L81.0,741.2 L82.4,741.1 L83.8,741.1 L84.5,740.2 L85.3,739.2 L86.5,739.2 L88.1,740.1 L89.3,740.2 L89.7,738.5 L90.5,737.7 L91.2,736.3 L92.1,735.8 L93.5,736.8 L94.9,737.8 L96.1,737.6Z" fill="none" stroke="#a8a8a8" stroke-width="0.9" stroke-opacity="0.6"/>
<circle cx="98.5" cy="768.5" r="6" fill="url(#ps11_3)"/>
<circle cx="98.5" cy="768.5" r="2.8" fill="none" stroke="#f4f4f4" stroke-width="1.6" opacity="0.95"/>
</g>
<circle cx="99.7" cy="766.9" r="32.5" fill="none" stroke="#151515" stroke-width="1" opacity="0.85"/>
<g clip-path="url(#cp12)">
<circle cx="172" cy="766.5" r="33" fill="url(#pd12)"/>
<path d="M142.6,753.7 L143.2,752.9 L143.5,752.0 L142.3,750.5 L142.0,749.3 L142.6,748.4 L144.2,748.0 L144.3,746.8 L143.4,745.1 L143.8,744.0 L145.5,743.9 L146.0,742.9 L147.5,742.7 L148.8,742.4 L149.5,741.7 L149.2,740.1 L149.8,739.3 L151.6,739.7 L151.4,738.0 L152.4,737.5 L153.6,737.3 L154.4,736.5 L155.6,736.2 L156.8,736.1 L157.6,735.2 L158.7,735.0 L159.9,734.7 L161.2,734.9 L162.3,734.9 L163.4,734.8 L164.0,733.2 L165.0,732.8 L166.3,733.9 L166.9,731.8 L167.9,731.1 L168.9,730.9 L170.0,731.2 L171.1,731.9 L172.1,731.2 L173.1,732.2 L174.1,732.0 L175.2,731.9 L176.3,731.2 L177.5,730.2 L178.4,731.2 L179.1,732.8 L180.1,732.9 L181.2,732.9 L182.1,733.1 L182.8,734.1 L183.3,735.5 L184.0,736.3 L184.9,736.6 L186.3,736.0 L187.3,736.4 L189.0,735.6 L189.8,736.4 L189.8,738.1 L191.0,738.2 L192.4,738.1 L193.0,738.9 L194.2,739.2 L195.3,739.5 L195.2,740.9 L195.6,741.8 L196.9,742.0 L197.0,743.1 L197.5,744.0 L197.3,745.3 L199.7,745.0 L200.9,745.5 L201.4,746.4 L201.0,747.8 L201.8,748.6 L202.0,749.7 L201.8,750.8 L201.1,752.1 L201.6,753.0 L202.3,753.8 L202.6,754.7 L203.6,755.4 L202.3,756.5 L203.3,757.3 L202.5,758.3 L202.0,759.3 L201.7,760.2 L202.8,761.0 L203.4,761.9 L203.1,762.8 L204.1,763.8 L203.6,764.7 L203.4,765.5 L205.0,766.6 L205.1,767.5 L204.4,768.2 L204.5,769.1 L203.7,769.7 L201.8,769.9 L202.5,770.8 L203.1,771.7 L202.1,772.1 L200.8,772.3 L201.7,773.3 L201.3,773.8 L199.7,773.8 L200.1,774.7 L199.6,775.1 L199.2,775.6 L198.3,775.9 L198.4,776.7 L197.4,776.8 L196.3,776.9 L194.7,776.7 L194.2,777.1 L193.8,777.6 L193.0,777.9 L191.9,777.8 L191.7,778.6 L191.7,779.6 L191.4,780.4 L190.3,780.4 L189.2,780.4 L188.9,781.2 L188.2,781.7 L186.8,781.2 L186.0,781.4 L185.8,782.4 L185.6,783.6 L184.7,783.8 L183.7,783.5 L182.6,783.0 L182.1,783.6 L181.7,784.6 L180.6,783.9 L179.6,783.1 L178.4,781.9 L177.7,781.7 L177.0,781.9 L176.4,782.2 L176.0,783.8 L175.1,783.5 L174.2,781.9 L173.6,783.4 L172.8,783.2 L172.0,782.9 L171.2,783.0 L170.3,784.3 L169.5,783.5 L168.6,783.5 L167.6,784.2 L166.9,783.4 L166.0,783.6 L165.5,782.4 L164.4,783.1 L162.8,784.9 L162.0,784.6 L161.1,784.6 L159.9,785.2 L159.0,784.9 L157.9,785.2 L158.1,783.4 L157.2,783.3 L156.4,783.0 L155.0,783.4 L154.3,782.9 L153.7,782.4 L152.6,782.4 L151.4,782.4 L151.7,780.9 L151.6,779.9 L150.7,779.7 L149.9,779.3 L149.2,778.9 L148.9,778.2 L149.1,777.1 L148.4,776.8 L146.6,777.2 L144.7,777.5 L144.3,776.9 L143.0,776.8 L143.5,775.7 L144.4,774.5 L142.9,774.4 L142.1,774.0 L142.4,773.1 L142.5,772.3 L141.8,771.8 L141.5,771.2 L142.1,770.3 L141.5,769.7 L141.3,769.0 L141.6,768.1 L140.6,767.6 L139.6,767.0 L139.6,766.1 L139.7,765.2 L140.4,764.3 L140.8,763.4 L141.2,762.5 L141.1,761.6 L142.3,760.8 L141.7,759.9 L141.5,759.0 L141.9,758.1 L141.3,757.1 L142.4,756.4 L142.5,755.5 L142.3,754.5Z" fill="url(#cg12_1)" opacity="1" stroke="#c4c4c4" stroke-width="1.1" stroke-opacity="0.85"/>
<g clip-path="url(#cc12_1)"><rect x="139" y="733.5" width="66" height="66" filter="url(#grainL)" opacity="0.2"/><rect x="139" y="733.5" width="66" height="66" filter="url(#grainD)" opacity="0.22"/></g>
<g clip-path="url(#cc12_1)">
<circle cx="152" cy="770.5" r="14" fill="url(#ps12_2)"/>
<circle cx="172" cy="744.5" r="12" fill="url(#ps12_3)"/>
<path d="M174.0,766.5L176.5,766.6L179.0,766.7L181.5,767.1L184.0,767.3M184.0,767.3L186.6,766.4M184.0,767.3L186.5,767.3L189.0,767.1M189.0,767.1L193.1,769.8M189.0,767.1L191.5,768.3L194.0,767.2M173.5,766.9L175.9,767.5M175.9,767.5L179.3,767.3M175.9,767.5L178.3,768.3L180.8,768.8M180.8,768.8L184.2,767.6M180.8,768.8L183.1,769.7L185.5,770.6M185.5,770.6L188.7,769.7M185.5,770.6L187.9,771.0L190.5,771.2L192.7,772.5L195.2,772.8L197.6,773.6M197.6,773.6L199.6,773.1M197.6,773.6M173.5,767.0L175.9,767.7M175.9,767.7L180.5,767.7M175.9,767.7L178.2,768.7L180.4,769.9L182.8,770.8M182.8,770.8L185.1,770.7M182.8,770.8L185.3,771.2L187.6,772.1L190.2,772.2L192.6,772.9L195.0,773.5L197.7,773.1M174.8,768.0L177.1,769.0L179.4,770.0L181.7,770.8L183.9,772.2L185.9,773.8L188.0,775.2M188.0,775.2L189.6,776.9M188.0,775.2L190.1,776.6M190.1,776.6L193.0,776.5M190.1,776.6L192.8,776.8L195.1,777.8M174.4,768.2L176.6,769.5L179.0,770.3L181.5,770.9M181.5,770.9L184.3,774.5M181.5,770.9L184.0,771.5L186.4,772.0L188.6,773.3L190.6,774.9L193.3,774.9M173.1,767.6L175.2,768.9M175.2,768.9L176.3,770.8M175.2,768.9L177.2,770.5L179.0,772.2L181.3,773.4M181.3,773.4L183.2,777.6M181.3,773.4L183.2,774.9M183.2,774.9L186.9,776.0M183.2,774.9L185.5,776.0L187.5,777.5L188.9,779.8L190.1,782.4M190.1,782.4L191.1,785.0M190.1,782.4M173.8,768.4L175.5,770.2L177.5,771.8L179.5,773.3L181.6,774.7L183.4,776.4L184.8,778.7L186.6,780.4M172.9,768.0L174.6,769.7L176.6,771.3L178.7,772.8L180.7,774.2L183.1,775.2L185.6,775.9L187.4,777.8L189.6,779.1L190.8,781.5M190.8,781.5L194.8,782.6M190.8,781.5M173.7,769.4L175.4,771.2L177.0,773.1L178.3,775.3L179.6,777.4M179.6,777.4L182.6,778.9M179.6,777.4L180.7,779.7L182.3,781.6M182.3,781.6L183.2,785.0M182.3,781.6L183.8,783.6M183.8,783.6L184.7,786.7M183.8,783.6L185.3,785.7M185.3,785.7L189.3,787.5M185.3,785.7M172.5,768.3L173.6,770.6L174.5,772.9L175.2,775.3L175.6,777.9L176.7,780.1L176.7,782.7L177.2,785.2L178.9,787.3L180.6,789.3M180.6,789.3L181.0,792.7M180.6,789.3M172.3,768.4L173.3,770.7M173.3,770.7L173.6,773.5M173.3,770.7L174.0,773.1L175.1,775.4M175.1,775.4L175.4,779.9M175.1,775.4L175.4,777.9L175.7,780.5L177.2,782.6L178.2,784.9L178.7,787.4M178.7,787.4L178.8,790.5M178.7,787.4L179.4,789.8L181.1,791.8M181.1,791.8L184.6,794.3M181.1,791.8M172.1,768.6L172.9,771.0L173.4,773.4L173.5,776.0L173.6,778.5L173.8,781.0M173.8,781.0L176.9,784.4M173.8,781.0L173.6,783.6L174.7,785.9L174.5,788.5M172.0,770.3L172.1,772.8L172.2,775.3L173.0,777.7L172.9,780.2L173.2,782.7M173.2,782.7L171.3,786.5M173.2,782.7L174.1,785.1L174.3,787.6M174.3,787.6L175.1,789.5M174.3,787.6L173.8,790.2M173.8,790.2L172.7,794.0M173.8,790.2M171.5,768.2L171.6,770.7M171.6,770.7L169.9,773.5M171.6,770.7L171.8,773.2M171.8,773.2L172.9,775.8M171.8,773.2L172.3,775.6L173.1,778.1L172.9,780.6L173.1,783.1L172.6,785.6L171.9,788.2M171.4,768.7L171.1,771.1L170.7,773.6L170.7,776.1L170.3,778.6L169.1,781.0L168.0,783.3L168.3,785.9M168.3,785.9L166.0,788.4M168.3,785.9L168.7,788.5L169.0,791.0M171.1,768.1L170.7,770.6L169.9,773.0M169.9,773.0L171.0,777.3M169.9,773.0L169.6,775.5L168.9,777.9M168.9,777.9L167.2,779.6M168.9,777.9L168.8,780.4L168.1,782.8L166.6,785.0L167.0,787.7M170.6,770.0L170.0,772.5L169.6,774.9M169.6,774.9L170.5,779.0M169.6,774.9L169.2,777.4L168.2,779.7M168.2,779.7L168.8,783.6M168.2,779.7L167.6,782.2L166.2,784.4L165.2,786.7M169.7,770.2L168.6,772.4L167.3,774.5M167.3,774.5L167.3,777.5M167.3,774.5L166.6,777.0L165.9,779.4L165.4,781.9M165.4,781.9L166.2,786.0M165.4,781.9L163.6,783.9L163.7,786.6M170.2,768.9L169.2,771.2L167.9,773.4M167.9,773.4L167.3,776.7M167.9,773.4L166.3,775.4L165.6,777.8L164.7,780.2L164.4,782.8L162.5,784.6L161.0,786.7L158.9,788.4M158.9,788.4L158.4,791.1M158.9,788.4M169.8,768.8L168.3,770.8L167.0,773.0L165.8,775.2M165.8,775.2L162.2,776.8M165.8,775.2L165.0,777.6M165.0,777.6L163.8,782.4M165.0,777.6L163.8,779.8L163.3,782.4L162.5,784.8M169.5,768.7L168.1,770.8M168.1,770.8L167.7,773.1M168.1,770.8L166.3,772.5M166.3,772.5L165.0,775.2M166.3,772.5L164.5,774.2L162.4,775.7L160.3,777.2M160.3,777.2L158.9,781.9M160.3,777.2L158.4,778.8M158.4,778.8L157.3,780.8M158.4,778.8L157.0,780.9L154.6,782.0M170.0,767.8L168.1,769.4L165.9,770.8L163.7,771.9M163.7,771.9L161.4,772.3M163.7,771.9L161.3,772.8M161.3,772.8L159.8,774.9M161.3,772.8L159.2,774.3M159.2,774.3L154.4,775.4M159.2,774.3L156.7,774.9L154.7,776.4L152.5,777.7M152.5,777.7L151.3,780.2M152.5,777.7M167.8,768.9L165.9,770.6M165.9,770.6L164.5,773.2M165.9,770.6L163.8,771.9L162.1,773.8L160.0,775.3L158.2,777.0M158.2,777.0L156.7,780.9M158.2,777.0L155.7,777.8L153.2,778.5M153.2,778.5L150.5,781.8M153.2,778.5L150.7,779.3L149.1,781.5M168.4,768.0L166.0,768.8M166.0,768.8L164.1,770.4M166.0,768.8L163.9,770.1L161.7,771.3L159.6,772.7L157.6,774.2L155.3,775.3L153.0,776.2L151.3,778.4L148.7,778.9M169.2,767.3L166.9,768.2L164.6,769.3M164.6,769.3L160.5,769.3M164.6,769.3L162.3,770.3L160.1,771.4L158.1,773.2L155.7,773.8L153.6,775.3L151.3,776.2L148.8,776.9M148.8,776.9L147.3,778.5M148.8,776.9M168.1,767.5L165.7,768.4L163.5,769.6M163.5,769.6L160.4,768.9M163.5,769.6L161.4,770.9M161.4,770.9L159.8,772.5M161.4,770.9L159.4,772.7L157.3,774.1L155.2,775.4L152.6,775.9M152.6,775.9L150.2,779.7M152.6,775.9L151.0,778.1L148.1,778.1M148.1,778.1L146.3,780.8M148.1,778.1M167.2,767.2L164.7,767.7L162.3,768.3L159.7,768.2M159.7,768.2L155.6,767.0M159.7,768.2L157.3,769.1L155.0,769.9L152.4,770.1L150.2,771.7M167.8,766.7L165.3,767.0M165.3,767.0L162.7,768.0M165.3,767.0L162.8,767.4M162.8,767.4L159.5,769.1M162.8,767.4L160.3,767.4L157.9,768.3L155.4,768.8L152.9,768.8L150.3,768.1L148.0,769.6L145.3,768.6L142.8,768.8M169.8,766.3L167.4,766.0L164.9,765.8M164.9,765.8L162.3,764.6M164.9,765.8L162.3,766.0L159.9,765.5L157.4,765.1L154.9,765.2L152.3,765.9M152.3,765.9L148.9,767.7M152.3,765.9L149.8,766.1L147.3,767.5M168.9,765.8L166.4,765.1M166.4,765.1L164.0,765.6M166.4,765.1L164.0,764.6L161.7,763.5L159.3,762.8L157.0,761.9L154.5,761.3L152.1,760.8L149.5,760.7M149.5,760.7L145.1,761.7M149.5,760.7L147.0,760.5L144.5,760.3M168.8,765.4L166.5,764.5L164.1,763.6L161.7,762.8M161.7,762.8L158.6,763.5M161.7,762.8L159.7,761.3M159.7,761.3L157.6,759.3M159.7,761.3L157.6,759.8L155.7,757.9L153.2,757.3M153.2,757.3L151.7,755.3M153.2,757.3L151.4,755.5M151.4,755.5L149.7,753.6M151.4,755.5M167.6,764.8L165.4,763.5L163.3,762.3L160.8,761.7L158.6,760.5L156.7,758.6M156.7,758.6L154.8,756.1M156.7,758.6L154.8,756.9M154.8,756.9L151.9,757.1M154.8,756.9L152.3,756.4M152.3,756.4L147.8,756.7M152.3,756.4L150.5,754.4M168.3,764.4L166.1,763.2M166.1,763.2L163.4,759.8M166.1,763.2L164.2,761.5L161.9,760.5L159.9,759.0M159.9,759.0L158.4,756.4M159.9,759.0L157.5,758.2L155.4,756.8M155.4,756.8L152.7,756.9M155.4,756.8L153.3,755.3L150.7,754.9L148.3,754.1M148.3,754.1L146.0,750.4M148.3,754.1M170.2,765.4L168.2,764.0M168.2,764.0L164.2,762.4M168.2,764.0L166.1,762.5L163.8,761.5M163.8,761.5L161.5,758.0M163.8,761.5L161.4,760.7L159.2,759.4L156.9,758.5L154.8,757.2L152.9,755.4L150.1,755.3M169.8,764.6L168.1,762.7L166.5,760.8L164.6,759.2M164.6,759.2L163.8,755.7M164.6,759.2L162.8,757.4L160.8,755.9L159.7,753.5M159.7,753.5L158.5,750.1M159.7,753.5L157.1,752.5L155.8,750.3M155.8,750.3L151.8,748.9M155.8,750.3M169.3,763.7L167.8,761.6L166.1,759.8L164.2,758.2M164.2,758.2L163.1,754.7M164.2,758.2L162.3,756.5L160.8,754.5L158.4,753.4L156.5,751.7M156.5,751.7L154.3,747.5M156.5,751.7L154.7,750.0L152.9,748.2L150.0,747.7M150.0,747.7L146.0,746.3M150.0,747.7M170.4,764.7L169.0,762.6L168.0,760.3M168.0,760.3L164.8,758.1M168.0,760.3L167.1,757.9L166.2,755.6L165.3,753.3L163.7,751.2L162.1,749.3L161.0,747.0M169.9,762.5L168.9,760.2M168.9,760.2L166.6,758.3M168.9,760.2L168.3,757.8M168.3,757.8L165.2,754.8M168.3,757.8L167.1,755.6L166.6,753.1M166.6,753.1L164.5,750.7M166.6,753.1L165.7,750.8L165.6,748.2L163.9,746.1M163.9,746.1L161.1,742.2M163.9,746.1L162.3,744.1L161.5,741.7L159.5,739.8M170.9,764.3L170.3,761.9M170.3,761.9L168.2,758.3M170.3,761.9L170.0,759.4M170.0,759.4L170.5,757.2M170.0,759.4L169.1,757.0L168.2,754.7L166.9,752.5L166.8,749.9L165.2,747.8L163.6,745.7L163.3,743.1M163.3,743.1L160.3,740.7M163.3,743.1M170.8,763.3L170.1,760.8L169.9,758.3L168.9,756.0L167.9,753.7L167.9,751.1M167.9,751.1L165.9,748.2M167.9,751.1L167.0,748.7M167.0,748.7L167.3,746.5M167.0,748.7L165.6,746.5M165.6,746.5L163.6,743.8M165.6,746.5L164.0,744.4L163.8,741.8M163.8,741.8L163.9,739.4M163.8,741.8M171.4,764.9L171.3,762.4M171.3,762.4L172.3,759.5M171.3,762.4L170.8,759.9L170.5,757.5L170.4,754.9L169.7,752.5L170.1,750.0L169.9,747.5L169.2,745.0M171.6,764.9L171.6,762.4M171.6,762.4L169.2,758.5M171.6,762.4L171.3,759.9M171.3,759.9L171.8,757.7M171.3,759.9L170.8,757.4L171.2,754.9L171.1,752.4L170.1,749.9L168.9,747.6L167.5,745.3L167.2,742.8M172.0,762.7L172.1,760.2L171.9,757.6M171.9,757.6L169.5,753.4M171.9,757.6L171.4,755.1L170.6,752.7M170.6,752.7L171.6,748.3M170.6,752.7L171.0,750.1L172.0,747.6L171.0,745.1M172.4,763.5L172.8,761.1M172.8,761.1L175.6,757.2M172.8,761.1L173.2,758.6M173.2,758.6L176.1,755.7M173.2,758.6L174.2,756.2L174.8,753.8L175.5,751.4L175.8,748.9L176.2,746.4M176.2,746.4L176.0,744.4M176.2,746.4L177.4,744.2M177.4,744.2L179.6,742.1M177.4,744.2L179.1,742.1M172.4,764.0L173.0,761.6L173.8,759.2L174.9,757.0L176.2,754.8M176.2,754.8L175.7,750.5M176.2,754.8L176.8,752.4L178.1,750.2L179.1,747.9M179.1,747.9L180.7,746.5M179.1,747.9L180.2,745.6L182.5,743.9M173.2,763.4L174.3,761.2L175.9,759.2L176.7,756.8M176.7,756.8L176.8,754.8M176.7,756.8L177.9,754.6L179.6,752.7L179.9,750.0L181.0,747.8M181.0,747.8L180.7,745.6M181.0,747.8M173.4,763.4L174.5,761.2L176.0,759.2L176.8,756.7L178.3,754.7L179.6,752.6L181.4,750.8L182.6,748.6L184.2,746.6M184.2,746.6L184.7,743.2M184.2,746.6M174.0,763.8L175.8,762.1M175.8,762.1L179.6,760.2M175.8,762.1L177.2,760.0M177.2,760.0L177.8,757.7M177.2,760.0L178.5,757.8M178.5,757.8L180.5,756.9M178.5,757.8L179.8,755.6L181.7,753.9L184.0,752.6L185.7,750.9L186.6,748.3L188.6,746.7M188.6,746.7L189.3,743.9M188.6,746.7M172.9,765.3L174.8,763.7L176.7,762.1L178.3,760.2M178.3,760.2L179.5,757.2M178.3,760.2L180.3,758.6L182.7,757.5L184.1,755.3L186.5,754.3L188.0,752.3L190.1,750.9M173.6,764.9L175.4,763.2L177.5,761.8L179.2,759.9M179.2,759.9L180.5,756.1M179.2,759.9L180.9,758.1L183.0,756.6M183.0,756.6L185.2,756.3M183.0,756.6L184.4,754.5L185.4,752.0L187.7,750.7L189.2,748.7M174.0,765.0L176.2,764.0L178.6,763.1L181.0,762.3L183.0,760.7L184.8,758.8L187.1,757.8L189.3,756.6M189.3,756.6L191.6,753.5M189.3,756.6M174.2,765.3L176.6,764.6L179.0,764.0L181.3,762.8L183.8,762.4L186.4,762.4M186.4,762.4L190.1,760.2M186.4,762.4L188.8,761.6L190.9,760.2M190.9,760.2L194.3,760.9M190.9,760.2L193.1,758.8M174.7,765.4L177.1,764.7L179.6,764.4L181.8,763.2L184.0,761.7L186.2,760.5L188.8,760.4L190.9,758.9M175.4,765.7L177.8,765.1L180.2,764.3M180.2,764.3L183.6,765.3M180.2,764.3L182.6,763.5L185.2,763.6M185.2,763.6L187.6,764.5M185.2,763.6L187.4,762.3L189.8,761.6L192.5,762.0M192.5,762.0L196.2,763.5M192.5,762.0L194.8,760.7L196.8,758.8M173.5,766.3L176.0,766.3M176.0,766.3L178.4,767.2M176.0,766.3L178.5,765.8M178.5,765.8L182.7,763.3M178.5,765.8L181.0,765.6L183.5,765.3M183.5,765.3L187.1,762.7M183.5,765.3L186.0,765.4L188.4,764.8L190.9,764.7L193.5,764.9L196.0,764.9L198.3,763.1M198.3,763.1L200.8,763.8M198.3,763.1" stroke="#8a8a8a" stroke-width="0.7" opacity="0.3" fill="none" stroke-linecap="round"/>
</g>
<path d="M142.6,753.7 L143.2,752.9 L143.5,752.0 L142.3,750.5 L142.0,749.3 L142.6,748.4 L144.2,748.0 L144.3,746.8 L143.4,745.1 L143.8,744.0 L145.5,743.9 L146.0,742.9 L147.5,742.7 L148.8,742.4 L149.5,741.7 L149.2,740.1 L149.8,739.3 L151.6,739.7 L151.4,738.0 L152.4,737.5 L153.6,737.3 L154.4,736.5 L155.6,736.2 L156.8,736.1 L157.6,735.2 L158.7,735.0 L159.9,734.7 L161.2,734.9 L162.3,734.9 L163.4,734.8 L164.0,733.2 L165.0,732.8 L166.3,733.9 L166.9,731.8 L167.9,731.1 L168.9,730.9 L170.0,731.2 L171.1,731.9 L172.1,731.2 L173.1,732.2 L174.1,732.0 L175.2,731.9 L176.3,731.2 L177.5,730.2 L178.4,731.2 L179.1,732.8 L180.1,732.9 L181.2,732.9 L182.1,733.1 L182.8,734.1 L183.3,735.5 L184.0,736.3 L184.9,736.6 L186.3,736.0 L187.3,736.4 L189.0,735.6 L189.8,736.4 L189.8,738.1 L191.0,738.2 L192.4,738.1 L193.0,738.9 L194.2,739.2 L195.3,739.5 L195.2,740.9 L195.6,741.8 L196.9,742.0 L197.0,743.1 L197.5,744.0 L197.3,745.3 L199.7,745.0 L200.9,745.5 L201.4,746.4 L201.0,747.8 L201.8,748.6 L202.0,749.7 L201.8,750.8 L201.1,752.1 L201.6,753.0 L202.3,753.8 L202.6,754.7 L203.6,755.4 L202.3,756.5 L203.3,757.3 L202.5,758.3 L202.0,759.3 L201.7,760.2 L202.8,761.0 L203.4,761.9 L203.1,762.8 L204.1,763.8 L203.6,764.7 L203.4,765.5 L205.0,766.6 L205.1,767.5 L204.4,768.2 L204.5,769.1 L203.7,769.7 L201.8,769.9 L202.5,770.8 L203.1,771.7 L202.1,772.1 L200.8,772.3 L201.7,773.3 L201.3,773.8 L199.7,773.8 L200.1,774.7 L199.6,775.1 L199.2,775.6 L198.3,775.9 L198.4,776.7 L197.4,776.8 L196.3,776.9 L194.7,776.7 L194.2,777.1 L193.8,777.6 L193.0,777.9 L191.9,777.8 L191.7,778.6 L191.7,779.6 L191.4,780.4 L190.3,780.4 L189.2,780.4 L188.9,781.2 L188.2,781.7 L186.8,781.2 L186.0,781.4 L185.8,782.4 L185.6,783.6 L184.7,783.8 L183.7,783.5 L182.6,783.0 L182.1,783.6 L181.7,784.6 L180.6,783.9 L179.6,783.1 L178.4,781.9 L177.7,781.7 L177.0,781.9 L176.4,782.2 L176.0,783.8 L175.1,783.5 L174.2,781.9 L173.6,783.4 L172.8,783.2 L172.0,782.9 L171.2,783.0 L170.3,784.3 L169.5,783.5 L168.6,783.5 L167.6,784.2 L166.9,783.4 L166.0,783.6 L165.5,782.4 L164.4,783.1 L162.8,784.9 L162.0,784.6 L161.1,784.6 L159.9,785.2 L159.0,784.9 L157.9,785.2 L158.1,783.4 L157.2,783.3 L156.4,783.0 L155.0,783.4 L154.3,782.9 L153.7,782.4 L152.6,782.4 L151.4,782.4 L151.7,780.9 L151.6,779.9 L150.7,779.7 L149.9,779.3 L149.2,778.9 L148.9,778.2 L149.1,777.1 L148.4,776.8 L146.6,777.2 L144.7,777.5 L144.3,776.9 L143.0,776.8 L143.5,775.7 L144.4,774.5 L142.9,774.4 L142.1,774.0 L142.4,773.1 L142.5,772.3 L141.8,771.8 L141.5,771.2 L142.1,770.3 L141.5,769.7 L141.3,769.0 L141.6,768.1 L140.6,767.6 L139.6,767.0 L139.6,766.1 L139.7,765.2 L140.4,764.3 L140.8,763.4 L141.2,762.5 L141.1,761.6 L142.3,760.8 L141.7,759.9 L141.5,759.0 L141.9,758.1 L141.3,757.1 L142.4,756.4 L142.5,755.5 L142.3,754.5Z" fill="none" stroke="#c4c4c4" stroke-width="1.1" stroke-opacity="0.85"/>
<circle cx="171.5" cy="766.5" r="5.5" fill="url(#ps12_5)"/>
</g>
<circle cx="172" cy="766.5" r="32.5" fill="none" stroke="#151515" stroke-width="1" opacity="0.85"/>
<text x="363" y="708.9" font-family="Liberation Sans" font-size="14.5" text-anchor="middle" fill="#222" font-weight="normal" >10000P</text>
<line x1="325.3" y1="711.3" x2="399.3" y2="711.3" stroke="#555" stroke-width="1.1"/>
<text x="325.50" y="731.9" font-family="Liberation Sans" font-weight="bold" font-size="14.81" text-anchor="middle" fill="#1b9fd3">I</text>
<text x="397.95" y="731.9" font-family="Liberation Sans" font-weight="bold" font-size="14.81" text-anchor="middle" fill="#e07f22">II</text>
<g clip-path="url(#cp13)">
<circle cx="326.5" cy="769" r="33" fill="url(#pd13)"/>
<rect x="293.5" y="736" width="66" height="66" filter="url(#grainL)" opacity="0.2"/><rect x="293.5" y="736" width="66" height="66" filter="url(#grainD)" opacity="0.24"/>
<path d="M332.4,769.9L334.9,769.8L337.4,770.4L339.9,770.1L342.4,769.9M342.4,769.9L346.6,767.6M342.4,769.9L344.9,769.4M344.9,769.4L347.1,768.7M344.9,769.4L347.4,768.4L349.9,769.3M349.9,769.3L353.7,771.5M349.9,769.3L352.4,769.9L354.9,770.4L357.4,771.9L359.8,772.4M331.1,769.9L333.6,770.1M333.6,770.1L337.0,769.1M333.6,770.1L336.1,770.2L338.6,770.3L341.0,771.2L343.5,770.8L346.0,771.3L348.5,771.1M348.5,771.1L352.7,772.9M348.5,771.1L351.1,770.0L353.5,771.1L355.9,772.5M333.9,771.2L336.3,772.0M336.3,772.0L340.1,771.5M336.3,772.0L338.7,772.6M338.7,772.6L341.8,774.4M338.7,772.6L341.2,773.1L343.6,773.8M343.6,773.8L346.5,773.1M343.6,773.8L346.2,773.6L348.7,774.0M348.7,774.0L352.2,773.7M348.7,774.0L351.2,774.3M351.2,774.3L355.3,772.7M351.2,774.3L353.8,773.8M331.3,770.5L333.6,771.4M333.6,771.4L336.5,771.6M333.6,771.4L336.0,772.2L338.5,772.6L340.9,773.2L343.1,774.8M343.1,774.8L347.2,774.2M343.1,774.8L345.6,775.2M345.6,775.2L347.8,775.1M345.6,775.2L348.1,775.5M348.1,775.5L351.2,775.5M348.1,775.5L350.5,776.2M350.5,776.2L352.4,777.7M350.5,776.2L353.2,775.8M333.1,772.0L335.4,773.0M335.4,773.0L337.2,775.2M335.4,773.0L337.6,774.3M337.6,774.3L341.3,777.6M337.6,774.3L339.8,775.4L342.0,776.7L344.5,777.2L346.3,779.3L348.0,781.4M348.0,781.4L350.2,781.7M348.0,781.4L350.6,781.9L353.0,782.6M331.3,771.2L333.6,772.4M333.6,772.4L336.4,772.7M333.6,772.4L335.8,773.6L338.2,774.3L340.7,774.7L343.1,775.4M343.1,775.4L344.6,777.4M343.1,775.4L345.1,777.3M345.1,777.3L347.3,779.3M345.1,777.3L347.8,777.2M347.8,777.2L350.8,776.6M347.8,777.2L349.8,779.0L352.0,780.1L354.2,781.4M332.0,772.1L333.9,773.8M333.9,773.8L335.9,776.3M333.9,773.8L335.9,775.2L337.9,776.7M337.9,776.7L340.1,777.5M337.9,776.7L339.9,778.3M339.9,778.3L342.2,781.4M339.9,778.3L341.3,780.5M341.3,780.5L343.6,780.9M341.3,780.5L343.5,781.8L345.2,783.7M345.2,783.7L346.3,785.6M345.2,783.7L347.0,785.3M331.3,772.2L333.5,773.5L335.6,774.9L337.3,776.7M337.3,776.7L338.7,779.2M337.3,776.7L339.5,778.0L341.0,780.1M341.0,780.1L342.2,782.8M341.0,780.1L343.5,781.0M343.5,781.0L345.7,781.4M343.5,781.0L346.1,781.6L348.5,782.5M348.5,782.5L350.4,785.6M348.5,782.5L351.4,782.6M351.4,782.6L354.2,785.7M351.4,782.6M330.7,772.0L332.2,774.0L333.8,776.0L335.5,777.8M335.5,777.8L336.9,781.1M335.5,777.8L336.5,780.2L337.8,782.3M337.8,782.3L338.9,785.3M337.8,782.3L338.7,784.8L341.1,786.1L342.4,788.3M329.6,771.3L331.1,773.4M331.1,773.4L331.7,777.3M331.1,773.4L332.7,775.3L334.5,777.1L336.1,779.0L338.0,780.6L340.0,782.2L341.5,784.2M341.5,784.2L343.7,785.4M341.5,784.2L342.2,786.9L343.1,789.4L344.9,791.1M344.9,791.1L345.4,794.3M344.9,791.1M330.5,773.1L331.7,775.3L333.4,777.1L334.4,779.5L336.4,781.2M336.4,781.2L339.3,782.7M336.4,781.2L338.2,783.0L339.5,785.1M339.5,785.1L342.7,786.3M339.5,785.1L340.5,787.4L342.1,789.4L343.3,791.6M331.1,774.2L332.6,776.2M332.6,776.2L333.2,780.3M332.6,776.2L334.0,778.3M334.0,778.3L334.4,781.8M334.0,778.3L335.0,780.6L336.7,782.5M336.7,782.5L339.4,784.3M336.7,782.5L338.7,784.1L340.5,785.9L342.2,787.8L343.7,789.7M343.7,789.7L347.8,792.2M343.7,789.7M329.5,772.2L330.5,774.5M330.5,774.5L330.5,776.8M330.5,774.5L331.5,776.8L332.2,779.2M332.2,779.2L332.7,783.9M332.2,779.2L333.5,781.3L335.3,783.2M335.3,783.2L335.0,786.1M335.3,783.2L335.9,785.7L337.4,787.8M337.4,787.8L337.6,789.8M337.4,787.8L339.1,789.7M339.1,789.7L339.2,792.3M339.1,789.7L339.2,792.5M339.2,792.5L339.7,797.3M339.2,792.5L340.7,794.5L340.9,797.2M340.9,797.2L343.3,799.9M340.9,797.2M329.2,772.1L330.1,774.4L330.7,776.9L331.1,779.4L332.4,781.6L333.1,784.0M333.1,784.0L335.3,785.7M333.1,784.0L334.3,786.2L336.0,788.2M336.0,788.2L338.7,790.5M336.0,788.2L336.5,790.7M336.5,790.7L336.1,793.7M336.5,790.7M329.6,774.9L330.2,777.3M330.2,777.3L332.2,779.3M330.2,777.3L330.7,779.8L330.6,782.3L331.0,784.8L331.9,787.2L331.5,789.8L333.2,792.0L333.2,794.6L333.8,797.0M333.8,797.0L336.5,800.3M333.8,797.0M329.0,774.4L329.8,776.8M329.8,776.8L331.1,778.9M329.8,776.8L330.3,779.3L330.1,781.8L330.7,784.3L331.6,786.7L331.1,789.3L332.8,791.5M332.8,791.5L331.5,795.4M332.8,791.5L333.5,793.9M333.5,793.9L332.5,798.6M333.5,793.9L334.1,796.4L335.4,798.6M328.7,773.3L328.8,775.8L328.9,778.3L328.6,780.8L329.4,783.3M329.4,783.3L327.3,787.3M329.4,783.3L328.9,785.8L328.1,788.3M328.1,788.3L326.2,791.9M328.1,788.3L328.5,790.8M328.5,790.8L327.5,792.9M328.5,790.8L327.8,793.3L328.8,795.8M328.4,774.9L328.0,777.4L328.4,779.9L328.4,782.4M328.4,782.4L329.9,784.8M328.4,782.4L328.7,784.9L328.9,787.4L329.1,789.8L327.9,792.4L328.1,794.9M327.9,772.4L327.9,774.9L327.5,777.4L327.1,779.9L326.8,782.3L325.8,784.7M325.8,784.7L323.3,787.5M325.8,784.7L326.1,787.3L326.5,789.9M326.5,789.9L324.1,792.8M326.5,789.9L325.1,792.2M325.1,792.2L326.8,796.9M325.1,792.2L324.1,794.6L322.9,796.9M322.9,796.9L323.8,800.9M322.9,796.9L322.2,799.3M322.2,799.3L320.4,802.0M322.2,799.3M327.3,774.0L327.1,776.5M327.1,776.5L325.1,779.3M327.1,776.5L326.7,779.0L326.8,781.5L327.2,784.1L327.2,786.6L326.6,789.0L325.8,791.5M325.8,791.5L326.3,793.9M325.8,791.5L326.3,794.0L326.8,796.6L328.3,799.1M328.3,799.1L327.7,801.5M328.3,799.1M327.2,773.8L326.4,776.2L326.0,778.7L324.8,780.9L324.2,783.3L324.1,785.9M324.1,785.9L322.2,789.1M324.1,785.9L324.1,788.5L324.0,791.0M324.0,791.0L321.8,794.1M324.0,791.0L323.6,793.5L323.3,796.0M327.3,771.6L326.6,774.0L325.6,776.3L325.1,778.8L324.6,781.3L324.1,783.7L322.7,785.9M322.7,785.9L320.2,789.5M322.7,785.9L321.7,788.2L321.7,790.8M321.7,790.8L320.1,792.3M321.7,790.8L320.9,793.2L319.6,795.4M319.6,795.4L320.5,800.2M319.6,795.4M326.4,773.0L325.3,775.2M325.3,775.2L321.9,778.1M325.3,775.2L323.9,777.3M323.9,777.3L323.5,781.1M323.9,777.3L323.1,779.7L322.6,782.3L322.1,784.7M322.1,784.7L318.8,788.3M322.1,784.7L320.5,786.8L319.5,789.1L317.2,790.8L316.3,793.1M316.3,793.1L316.2,796.2M316.3,793.1L315.1,795.3M315.1,795.3L314.5,798.0M315.1,795.3M325.2,774.3L324.0,776.5L322.9,778.8L321.5,780.8L320.9,783.4L320.4,786.0M320.4,786.0L317.6,787.7M320.4,786.0L319.5,788.3L319.4,791.0L319.3,793.6L317.6,795.6M326.3,772.0L324.7,774.0M324.7,774.0L323.4,778.6M324.7,774.0L322.9,775.7M322.9,775.7L321.0,779.5M322.9,775.7L320.9,777.2L319.2,779.1M319.2,779.1L317.4,782.4M319.2,779.1L317.9,781.3L315.6,782.6L313.1,783.6L311.9,785.9L309.1,786.6M309.1,786.6L306.3,787.5M309.1,786.6L306.2,787.0L303.8,788.0M326.5,771.5L324.8,773.3M324.8,773.3L320.5,775.8M324.8,773.3L323.2,775.2L321.9,777.4M321.9,777.4L321.3,779.5M321.9,777.4L320.2,779.3L319.0,781.5L317.0,783.0L316.3,785.7L314.2,787.3M314.2,787.3L313.4,789.9M314.2,787.3L313.3,789.7L312.3,792.1L311.8,794.8L311.2,797.3M326.5,771.3L324.9,773.2L322.9,774.9M322.9,774.9L322.0,778.9M322.9,774.9L321.1,776.6M321.1,776.6L318.6,777.1M321.1,776.6L319.4,778.4L318.0,780.6L315.9,782.0L314.7,784.3L313.5,786.6L313.0,789.4L312.8,792.3L310.3,793.6M310.3,793.6L306.6,795.0M310.3,793.6M325.8,771.6L323.8,773.2L322.2,775.2L320.1,776.6L318.0,777.9M318.0,777.9L314.7,778.9M318.0,777.9L315.8,779.2L313.9,780.8M313.9,780.8L312.5,783.3M313.9,780.8L312.0,782.4M312.0,782.4L308.6,783.7M312.0,782.4L309.3,783.1L306.9,784.0L304.7,785.1L303.6,788.0L302.6,790.7M325.0,771.8L322.9,773.2L320.9,774.7M320.9,774.7L316.4,775.5M320.9,774.7L319.0,776.5L317.1,778.0L315.2,779.7M315.2,779.7L313.3,783.9M315.2,779.7L313.2,781.2M313.2,781.2L309.0,782.2M313.2,781.2L310.8,782.2L309.6,784.7M309.6,784.7L305.2,785.4M309.6,784.7L308.7,787.5L307.3,789.6M324.2,771.7L322.0,773.0M322.0,773.0L317.6,774.0M322.0,773.0L319.6,773.8L317.4,775.0L315.0,775.7M315.0,775.7L313.1,777.7M315.0,775.7L312.9,777.1L310.2,777.2M310.2,777.2L308.0,780.5M310.2,777.2L308.3,779.0L306.0,780.1M326.0,770.4L323.7,771.4L321.2,772.1L318.8,772.8L316.4,773.3L314.3,774.9L312.1,776.2L309.9,777.3L307.1,777.2L305.1,778.9L303.0,780.3L300.5,780.8M300.5,780.8L298.6,783.0M300.5,780.8M323.1,771.2L320.6,771.6L318.2,772.4L315.9,773.5L313.7,774.7L311.2,775.1L308.6,775.0M308.6,775.0L305.3,775.0M308.6,775.0L305.9,774.8M305.9,774.8L302.7,777.4M305.9,774.8L303.5,775.6M303.5,775.6L298.7,775.2M303.5,775.6L301.4,777.3L299.1,778.2M299.1,778.2L295.7,777.5M299.1,778.2M324.7,770.3L322.3,771.0L319.9,771.6L317.6,772.6M317.6,772.6L312.9,771.5M317.6,772.6L315.1,772.9L312.7,773.5M312.7,773.5L310.3,775.4M312.7,773.5L310.1,773.6M310.1,773.6L306.8,775.3M310.1,773.6L307.8,774.5M307.8,774.5L303.9,776.8M307.8,774.5L305.2,774.6M324.5,770.0L322.0,770.3L319.5,770.6L317.1,771.1M317.1,771.1L315.4,772.5M317.1,771.1L314.5,770.8L312.0,770.2L309.5,770.9L306.9,769.8L304.5,769.2M324.5,769.7L322.0,770.1L319.5,770.2L317.0,770.1L314.5,769.7L312.0,770.6L309.5,770.4L307.0,770.2M307.0,770.2L304.7,769.4M307.0,770.2L304.5,771.1M304.5,771.1L300.8,770.3M304.5,771.1L302.0,771.8M322.8,769.4L320.3,769.2M320.3,769.2L316.2,770.5M320.3,769.2L317.8,769.0M317.8,769.0L315.9,769.8M317.8,769.0L315.4,768.4L312.9,768.3L310.3,768.6L307.8,769.1L305.3,770.4M305.3,770.4L301.2,771.8M305.3,770.4L302.9,771.9L300.5,773.1M300.5,773.1L296.5,771.7M300.5,773.1M324.8,769.3L322.3,769.0L319.8,768.9M319.8,768.9L317.2,767.9M319.8,768.9L317.3,769.2L314.8,769.3L312.3,768.8M312.3,768.8L309.4,766.8M312.3,768.8L309.9,767.7L307.4,767.6L304.8,768.5L302.3,768.4M302.3,768.4L299.3,769.7M302.3,768.4L299.8,768.2M324.9,768.9L322.5,768.2L320.0,767.7M320.0,767.7L316.2,767.9M320.0,767.7L317.6,767.2L315.0,767.2L312.7,766.2L310.4,764.9M310.4,764.9L306.8,766.2M310.4,764.9L308.0,764.3L305.3,764.8L302.8,764.8M302.8,764.8L299.7,763.0M302.8,764.8L300.6,763.1M300.6,763.1L298.1,763.5M300.6,763.1L298.2,762.1M298.2,762.1L295.4,762.3M298.2,762.1M325.5,768.7L323.1,767.8L320.8,766.9L318.6,765.7L316.0,765.5L313.4,765.6L310.7,765.7M310.7,765.7L307.8,764.0M310.7,765.7L308.3,765.0L306.0,764.1L303.9,762.2L301.3,762.2L299.2,760.5M299.2,760.5L296.9,761.2M299.2,760.5M324.5,767.9L322.3,766.6M322.3,766.6L319.9,766.2M322.3,766.6L320.3,765.1M320.3,765.1L318.1,762.8M320.3,765.1L318.1,764.0L316.2,762.1L314.1,760.8L312.1,759.3M312.1,759.3L308.0,759.0M312.1,759.3L309.4,758.9L307.9,756.6L305.2,756.3M325.8,768.4L323.6,767.2M323.6,767.2L321.4,763.3M323.6,767.2L321.5,765.9L319.5,764.3L317.3,763.2L315.4,761.6M315.4,761.6L312.1,761.3M315.4,761.6L313.4,759.9L311.9,757.7L309.4,757.0L307.2,755.7M323.5,766.6L321.7,764.9L319.8,763.2L317.6,761.9M317.6,761.9L316.0,758.0M317.6,761.9L315.6,760.4L313.1,759.7L311.3,757.9M311.3,757.9L308.5,757.0M311.3,757.9L309.2,756.5L308.0,753.9M308.0,753.9L306.4,750.2M308.0,753.9M324.8,766.8L322.7,765.4L320.9,763.7M320.9,763.7L317.4,762.5M320.9,763.7L319.1,761.9M319.1,761.9L316.7,760.9M319.1,761.9L317.1,760.5M317.1,760.5L313.9,759.5M317.1,760.5L314.6,759.5M314.6,759.5L309.9,759.0M314.6,759.5L313.1,757.4M313.1,757.4L311.4,753.9M313.1,757.4L311.0,756.1L308.8,754.7M308.8,754.7L307.1,750.3M308.8,754.7M326.7,768.2L324.8,766.6L323.1,764.7L321.4,762.9M321.4,762.9L320.3,760.9M321.4,762.9L319.5,761.3L317.1,760.2L315.3,758.5L313.1,757.2M313.1,757.2L308.4,756.5M313.1,757.2L311.4,755.3L309.5,753.7L308.1,751.5M308.1,751.5L306.3,748.4M308.1,751.5M326.3,767.3L324.9,765.2M324.9,765.2L324.5,761.4M324.9,765.2L323.6,763.0L321.7,761.3M321.7,761.3L319.1,759.7M321.7,761.3L320.5,759.1L319.0,757.1M319.0,757.1L318.4,754.0M319.0,757.1L318.2,754.6L315.9,753.2M315.9,753.2L312.9,751.4M315.9,753.2L313.5,751.9L312.2,749.7M312.2,749.7L311.7,746.6M312.2,749.7L310.9,747.6L310.7,744.6M310.7,744.6L310.5,739.7M310.7,744.6M326.7,767.7L325.3,765.6M325.3,765.6L324.5,762.8M325.3,765.6L324.0,763.5L322.5,761.5M322.5,761.5L322.3,757.7M322.5,761.5L320.8,759.6L319.3,757.6L317.3,756.0L316.4,753.6L315.6,751.0L315.4,748.2M315.4,748.2L315.2,744.3M315.4,748.2L313.6,746.4L311.2,745.0M325.2,764.8L324.1,762.5L323.2,760.2L322.0,758.0L320.9,755.7L319.0,753.9M319.0,753.9L316.3,751.7M319.0,753.9L318.7,751.2L317.0,749.3M317.0,749.3L313.7,746.8M317.0,749.3L314.7,747.8M314.7,747.8L312.2,746.1M314.7,747.8L314.8,744.8M326.7,766.0L325.5,763.8M325.5,763.8L322.3,760.6M325.5,763.8L324.5,761.5L324.0,759.0M324.0,759.0L324.5,756.1M324.0,759.0L322.4,756.9M322.4,756.9L322.2,753.3M322.4,756.9L322.3,754.3M322.3,754.3L319.2,752.0M322.3,754.3L321.3,752.0L321.1,749.4M321.1,749.4L318.8,746.9M321.1,749.4L320.1,747.1L318.4,745.1M318.4,745.1L316.8,743.9M318.4,745.1L315.9,743.4L313.2,742.0M327.1,766.1L326.2,763.8L325.9,761.3L324.8,759.0L324.3,756.5L324.5,753.9M324.5,753.9L323.2,751.5M324.5,753.9L323.6,751.5L321.9,749.4L321.1,747.0L321.0,744.5L318.9,742.5M318.9,742.5L318.8,739.2M318.9,742.5L316.8,740.6M327.0,765.0L326.0,762.6L325.3,760.2L324.7,757.8L323.9,755.5M323.9,755.5L321.0,751.8M323.9,755.5L323.7,752.9M323.7,752.9L323.7,748.6M323.7,752.9L322.1,750.8L320.7,748.6M320.7,748.6L321.5,744.8M320.7,748.6L321.1,745.9L320.8,743.3M320.8,743.3L319.6,741.4M320.8,743.3M327.6,766.2L327.0,763.7L326.9,761.2M326.9,761.2L325.0,757.9M326.9,761.2L326.0,758.8M326.0,758.8L326.7,756.9M326.0,758.8L326.0,756.3M326.0,756.3L324.0,754.1M326.0,756.3L325.0,753.9L323.8,751.6L322.0,749.5L322.4,746.8L320.7,744.7M320.7,744.7L320.8,740.0M320.7,744.7L318.8,742.7M327.9,767.1L327.6,764.6L327.3,762.1L326.6,759.7L325.7,757.3M325.7,757.3L326.5,755.1M325.7,757.3L325.3,754.8L324.5,752.5M324.5,752.5L325.9,747.8M324.5,752.5L325.0,749.8L325.5,747.2M325.5,747.2L326.1,743.5M325.5,747.2L325.6,744.7M328.3,767.4L328.1,764.9L328.4,762.4M328.4,762.4L330.8,758.4M328.4,762.4L328.5,759.9L328.9,757.4L329.1,754.9M329.1,754.9L330.8,751.8M329.1,754.9L330.3,752.5L331.4,750.1L331.6,747.6L330.8,745.0L331.1,742.5L329.9,739.9M328.7,765.9L329.4,763.5L329.7,761.0L329.5,758.5M329.5,758.5L331.9,754.8M329.5,758.5L330.0,756.0L330.8,753.6L332.2,751.3M332.2,751.3L331.7,747.0M332.2,751.3L333.4,749.0L334.2,746.7L335.6,744.5L335.8,741.9M335.8,741.9L338.0,740.0M335.8,741.9M329.3,764.4L330.1,762.0L330.4,759.5M330.4,759.5L329.2,755.8M330.4,759.5L330.7,757.0M330.7,757.0L330.5,754.9M330.7,757.0L330.3,754.4L330.7,752.0L331.1,749.5M331.1,749.5L332.4,746.7M331.1,749.5L332.8,747.3M332.8,747.3L331.3,743.1M332.8,747.3L333.8,744.9M333.8,744.9L333.2,741.5M333.8,744.9L334.1,742.4M329.1,766.5L329.9,764.1L330.7,761.7L331.4,759.3L331.5,756.8L332.6,754.5L332.8,752.0M332.8,752.0L334.4,750.5M332.8,752.0L334.3,749.8L335.4,747.5L336.3,745.2M336.3,745.2L336.1,742.0M336.3,745.2M329.3,766.6L330.2,764.3M330.2,764.3L329.6,759.5M330.2,764.3L331.3,762.0M331.3,762.0L332.8,760.5M331.3,762.0L331.8,759.6L332.4,757.1L332.6,754.5L333.5,752.2M333.5,752.2L333.2,747.5M333.5,752.2L334.3,749.9L334.0,747.2M334.0,747.2L337.0,744.4M334.0,747.2L335.6,745.0L337.4,743.0M337.4,743.0L337.1,739.9M337.4,743.0L339.1,740.9M330.6,764.7L332.0,762.7L333.5,760.6M333.5,760.6L333.7,756.6M333.5,760.6L334.1,758.1L334.7,755.6M334.7,755.6L337.1,753.6M334.7,755.6L336.2,753.6L338.3,751.9L340.0,749.9M340.0,749.9L340.0,747.0M340.0,749.9L341.8,748.2M330.2,766.0L331.6,763.9M331.6,763.9L334.9,761.3M331.6,763.9L333.0,761.8L334.3,759.7L335.9,757.8M335.9,757.8L338.7,756.3M335.9,757.8L337.6,755.9L339.9,754.4L340.7,752.0M340.7,752.0L343.0,750.0M340.7,752.0L342.0,749.8L344.6,748.6L346.5,746.9L347.1,744.2M330.0,767.3L331.8,765.5M331.8,765.5L335.4,763.8M331.8,765.5L333.2,763.4L334.7,761.5L335.9,759.2L337.9,757.6M337.9,757.6L338.6,754.9M337.9,757.6L340.0,756.1M340.0,756.1L343.4,755.2M340.0,756.1L341.0,753.7M341.0,753.7L343.1,752.7M341.0,753.7L342.6,751.8M342.6,751.8L345.9,749.7M342.6,751.8L345.1,750.6L346.8,748.8M346.8,748.8L349.1,747.9M346.8,748.8M329.9,767.6L331.7,765.9M331.7,765.9L332.9,762.3M331.7,765.9L333.2,763.9M333.2,763.9L336.8,761.7M333.2,763.9L335.0,762.1M335.0,762.1L335.7,758.8M335.0,762.1L337.0,760.7L338.4,758.5L339.8,756.4L341.9,754.9M341.9,754.9L343.3,750.6M341.9,754.9L344.5,754.0L346.8,752.8M346.8,752.8L348.9,748.6M346.8,752.8L347.7,750.1L349.5,748.4M332.6,765.6L334.6,764.1L336.7,762.8M336.7,762.8L338.1,760.2M336.7,762.8L338.9,761.5L341.2,760.4L343.2,758.9L344.7,756.7L347.4,756.2L350.1,755.7M350.1,755.7L354.0,755.4M350.1,755.7L352.6,755.1L355.3,754.6M355.3,754.6L359.3,754.9M355.3,754.6L357.9,754.2M331.8,766.4L333.8,764.8M333.8,764.8L336.5,764.3M333.8,764.8L335.4,762.8M335.4,762.8L336.2,759.6M335.4,762.8L337.6,761.7L339.1,759.5L340.5,757.4L343.0,756.3M343.0,756.3L344.2,754.2M343.0,756.3L345.5,755.4L347.6,754.1M347.6,754.1L350.5,750.1M347.6,754.1M331.6,767.5L333.7,766.2L335.6,764.5L337.3,762.6L339.0,760.8L341.3,759.6M341.3,759.6L344.5,758.8M341.3,759.6L342.8,757.5L344.1,755.2M344.1,755.2L345.8,751.6M344.1,755.2L346.6,754.3M346.6,754.3L347.8,752.4M346.6,754.3L347.6,751.6L348.7,749.2L350.5,747.4M332.5,767.3L334.9,766.4M334.9,766.4L336.8,764.3M334.9,766.4L337.0,765.1L339.6,764.6L342.2,764.3M342.2,764.3L343.5,762.7M342.2,764.3L344.8,764.1L346.7,762.2L349.5,762.5L351.8,761.7M351.8,761.7L353.9,759.0M351.8,761.7L354.6,762.2M330.8,768.5L333.1,767.6L335.6,767.0M335.6,767.0L337.4,765.3M335.6,767.0L337.8,765.9L340.2,765.1L342.8,765.0M342.8,765.0L344.7,763.8M342.8,765.0L345.4,764.8L348.0,764.9L350.6,765.4L353.0,764.5M353.0,764.5L357.6,765.1M353.0,764.5L355.1,762.6M332.9,768.2L335.3,767.6M335.3,767.6L339.2,768.0M335.3,767.6L337.7,766.7L340.0,765.9L342.3,764.8L344.8,764.4L347.3,764.0M347.3,764.0L351.7,765.3M347.3,764.0L349.5,762.7L352.2,763.2L354.9,763.5L357.7,764.6M330.7,768.9L333.1,768.0L335.5,767.3L337.8,766.5L340.0,765.1L342.1,763.7L344.5,762.9L346.5,761.2M346.5,761.2L348.3,759.6M346.5,761.2L348.4,759.4L350.1,757.4L352.4,756.3M332.0,768.9L334.5,768.7L337.0,768.7L339.4,768.0M339.4,768.0L343.3,768.8M339.4,768.0L341.8,767.5L344.4,767.5L346.9,767.5M346.9,767.5L348.9,768.2M346.9,767.5L349.4,767.4L351.8,766.5M351.8,766.5L354.2,765.0M351.8,766.5L354.2,765.8M331.5,769.5L334.0,769.4L336.5,769.3L339.0,769.4L341.5,769.4L344.0,768.5L346.5,769.0L349.0,769.7M349.0,769.7L351.0,771.0M349.0,769.7L351.5,770.4M351.5,770.4L355.4,772.1M351.5,770.4L354.0,769.9" stroke="#a0a0a0" stroke-width="0.8" opacity="0.3" fill="none" stroke-linecap="round"/>
<circle cx="328.2" cy="769.6" r="3.6" fill="url(#ps13_3)"/>
</g>
<circle cx="326.5" cy="769" r="32.5" fill="none" stroke="#151515" stroke-width="1" opacity="0.85"/>
<g clip-path="url(#cp14)">
<circle cx="398.6" cy="769" r="33" fill="url(#pd14)"/>
<path d="M383.6,735 L385.6,744 Q398.6,747 416.6,743 L418.6,735 Z" fill="#222222" opacity="0.95"/>
<rect x="365.6" y="736" width="66" height="66" filter="url(#grainL)" opacity="0.22"/><rect x="365.6" y="736" width="66" height="66" filter="url(#grainD)" opacity="0.26"/>
<path d="M400.9,769.9L403.4,769.9L405.9,770.1L408.4,769.5L410.9,770.2L413.4,769.9L415.9,768.9L418.4,768.1L420.8,767.2M399.0,769.8L401.5,770.0L404.0,770.0M404.0,770.0L407.1,768.5M404.0,770.0L406.5,770.0L409.1,769.6M409.1,769.6L411.7,771.4M409.1,769.6L411.5,769.1L414.0,769.2L416.5,768.4L419.0,768.3L421.5,767.5M421.5,767.5L423.4,766.7M421.5,767.5L423.9,766.5M423.9,766.5L427.8,764.6M423.9,766.5L426.2,764.7M398.8,770.0L401.2,770.5L403.6,771.4M403.6,771.4L407.0,770.7M403.6,771.4L406.0,771.9L408.3,773.0L410.5,774.2L413.1,774.5L415.3,775.7L417.3,777.4L419.5,778.7M419.5,778.7L421.2,780.3M419.5,778.7L422.1,779.0M422.1,779.0L424.4,781.4M422.1,779.0M400.8,770.7L403.2,771.5L405.7,771.9M405.7,771.9L410.0,771.9M405.7,771.9L408.0,772.9L410.4,773.5M410.4,773.5L412.4,775.6M410.4,773.5L412.6,774.7L414.9,775.9L417.4,776.3L420.0,776.2M420.0,776.2L423.2,779.4M420.0,776.2L422.5,776.8L425.1,776.8M400.7,771.0L402.9,772.1M402.9,772.1L407.6,771.6M402.9,772.1L405.0,773.4L407.1,774.8L409.1,776.5M409.1,776.5L413.1,776.2M409.1,776.5L411.2,777.7M411.2,777.7L415.6,777.7M411.2,777.7L413.0,779.7M413.0,779.7L416.4,779.9M413.0,779.7L415.7,780.0L417.6,781.8M417.6,781.8L418.5,783.6M417.6,781.8L419.0,784.2M399.5,770.7L401.8,771.6M401.8,771.6L404.7,775.0M401.8,771.6L404.0,772.8M404.0,772.8L405.4,775.1M404.0,772.8L406.4,773.6L408.8,774.4L410.9,775.7L413.4,776.3L415.8,777.0L418.5,776.8L421.0,777.4M400.7,772.1L402.7,773.5L404.5,775.3M404.5,775.3L407.6,776.5M404.5,775.3L406.4,776.9L408.8,777.9L410.4,779.9L413.0,780.5L414.6,782.7L416.2,784.7L418.5,785.8M418.5,785.8L420.0,788.1M418.5,785.8L420.3,787.5M420.3,787.5L421.8,790.9M420.3,787.5L423.2,787.8M423.2,787.8L424.5,789.9M423.2,787.8M400.1,771.8L402.0,773.5L403.7,775.4L406.0,776.5L408.2,777.8M408.2,777.8L412.4,778.1M408.2,777.8L410.2,779.3L412.4,780.4L414.6,781.7L416.3,783.6L418.9,784.2L421.2,785.2M399.6,771.8L401.3,773.7L402.9,775.6M402.9,775.6L403.7,779.1M402.9,775.6L404.4,777.7L406.4,779.2L408.8,780.3M408.8,780.3L411.6,780.8M408.8,780.3L410.6,782.0M410.6,782.0L412.7,785.3M410.6,782.0L412.0,784.1M412.0,784.1L416.5,786.0M412.0,784.1L413.8,785.9M413.8,785.9L416.9,787.1M413.8,785.9L416.0,787.3L416.6,790.2L417.9,792.4M417.9,792.4L418.9,794.6M417.9,792.4M398.8,771.4L400.2,773.5L401.7,775.5L403.7,777.1L404.9,779.3L407.1,780.8M407.1,780.8L409.7,782.2M407.1,780.8L408.9,782.5L410.4,784.5M410.4,784.5L412.2,785.4M410.4,784.5L411.8,786.6M411.8,786.6L414.9,788.2M411.8,786.6L414.4,787.6M414.4,787.6L418.3,788.7M414.4,787.6L417.1,788.5L418.3,790.8M398.7,771.9L400.0,774.0L401.4,776.1L402.9,778.1M402.9,778.1L403.7,780.9M402.9,778.1L404.0,780.4M404.0,780.4L406.4,781.6M404.0,780.4L405.4,782.5L407.1,784.3L409.1,785.9M409.1,785.9L412.5,788.5M409.1,785.9L411.3,787.4M411.3,787.4L412.4,790.7M411.3,787.4L412.6,789.6M412.6,789.6L415.3,790.9M412.6,789.6L414.9,790.9L416.5,792.8M398.5,771.9L399.9,774.1L401.5,776.0L402.9,778.1M402.9,778.1L403.4,780.2M402.9,778.1L404.8,779.8L405.9,782.1M405.9,782.1L408.3,783.9M405.9,782.1L408.1,783.5L408.7,786.2L409.1,788.9L409.9,791.4M409.9,791.4L409.9,796.2M409.9,791.4L411.3,793.4L412.7,795.5M412.7,795.5L413.4,798.6M412.7,795.5M398.2,772.2L399.4,774.4L400.7,776.5M400.7,776.5L403.3,779.2M400.7,776.5L401.6,778.9L403.0,781.0L403.9,783.3L405.7,785.2L407.3,787.2L409.4,788.8L410.5,791.0L413.0,792.4L415.6,793.6M398.2,773.0L398.8,775.4M398.8,775.4L400.7,777.0M398.8,775.4L399.0,777.9M399.0,777.9L398.3,780.3M399.0,777.9L399.6,780.4L399.7,782.9L399.7,785.4L400.0,787.9L401.0,790.3L401.4,792.7M397.3,771.0L397.7,773.4M397.7,773.4L396.8,775.6M397.7,773.4L398.4,775.8M398.4,775.8L397.5,779.2M398.4,775.8L398.9,778.3L399.2,780.8L399.5,783.3L399.6,785.8L400.7,788.1L400.1,790.8L400.9,793.2M397.4,771.1L397.8,773.6M397.8,773.6L399.5,776.1M397.8,773.6L398.5,776.0L399.3,778.4M399.3,778.4L399.3,780.8M399.3,778.4L400.0,780.8L400.3,783.3L400.4,785.8M400.4,785.8L398.8,790.4M400.4,785.8L400.3,788.4L401.3,790.7L401.6,793.3L401.7,795.8M401.7,795.8L401.2,799.0M401.7,795.8L400.6,798.5M400.6,798.5L399.4,801.7M400.6,798.5M397.4,773.7L397.7,776.2L397.5,778.7M397.5,778.7L400.1,782.2M397.5,778.7L397.9,781.2M397.9,781.2L396.4,784.3M397.9,781.2L397.3,783.7L397.0,786.2L396.7,788.7M396.7,788.7L397.7,791.0M396.7,788.7L396.0,791.2L395.3,793.7L394.8,796.2L396.3,798.7M396.8,773.4L396.7,775.9L396.5,778.4L396.8,780.9L396.3,783.4L395.4,785.8L395.5,788.3L394.5,790.7L393.7,793.2L393.3,795.6L392.9,798.1L393.4,800.7M393.4,800.7L394.0,803.3M393.4,800.7M396.9,771.2L396.5,773.7M396.5,773.7L394.5,777.3M396.5,773.7L396.4,776.2L396.6,778.7L396.6,781.2L397.0,783.7M397.0,783.7L395.9,785.8M397.0,783.7L397.1,786.2L396.6,788.7L397.4,791.2L397.0,793.7M397.0,793.7L399.7,797.7M397.0,793.7M396.4,772.7L395.8,775.1L395.5,777.6M395.5,777.6L397.0,781.9M395.5,777.6L395.5,780.2L394.6,782.6M394.6,782.6L395.8,786.7M394.6,782.6L394.9,785.1L394.0,787.5L393.4,790.0L393.2,792.5L391.5,794.7L390.4,797.0M396.4,771.6L395.9,774.0L394.9,776.3L393.7,778.6L393.3,781.1L392.7,783.5L392.3,786.0L390.6,788.1L390.5,790.7M390.5,790.7L387.3,793.5M390.5,790.7L388.7,792.7M388.7,792.7L388.9,795.0M388.7,792.7L388.4,795.3M388.4,795.3L387.0,797.3M388.4,795.3L386.2,797.1M396.3,771.2L395.1,773.5M395.1,773.5L395.0,776.9M395.1,773.5L394.3,775.8L393.8,778.3L392.4,780.5M392.4,780.5L392.8,784.0M392.4,780.5L391.2,782.6M391.2,782.6L389.4,783.8M391.2,782.6L389.6,784.6L389.5,787.4L387.7,789.3M387.7,789.3L384.6,793.0M387.7,789.3L386.4,791.4M386.4,791.4L383.8,793.4M386.4,791.4L385.9,794.0L385.2,796.4L384.2,798.7M395.5,772.7L394.5,775.0L393.2,777.1L391.7,779.2M391.7,779.2L391.3,781.4M391.7,779.2L390.1,781.1L389.0,783.4M389.0,783.4L388.6,785.5M389.0,783.4L386.9,785.0L385.0,786.8M385.0,786.8L380.6,788.9M385.0,786.8L383.6,788.8M383.6,788.8L383.3,793.1M383.6,788.8L382.8,791.3M395.3,772.1L393.7,774.1L392.5,776.2L391.0,778.2L389.2,780.1L387.4,781.8L386.2,784.0M386.2,784.0L384.1,784.9M386.2,784.0L385.2,786.4L383.4,788.2L380.8,789.3M380.8,789.3L378.0,790.7M380.8,789.3L378.4,790.6M378.4,790.6L374.3,791.8M378.4,790.6L375.7,791.4M395.0,772.3L393.7,774.4L392.5,776.6L391.6,779.0L390.2,781.1M390.2,781.1L388.1,783.0M390.2,781.1L388.7,783.1L387.9,785.5L386.7,787.7L384.3,789.2L384.0,791.9L381.9,793.6L381.5,796.3M396.0,770.7L394.5,772.8L393.0,774.7L391.2,776.5L389.2,778.0L387.4,779.8L386.0,781.9L384.9,784.3L384.3,786.9M384.3,786.9L383.6,790.1M384.3,786.9L383.0,789.1M383.0,789.1L382.0,792.1M383.0,789.1L380.6,790.4M395.4,771.0L393.4,772.5M393.4,772.5L390.2,773.7M393.4,772.5L391.3,773.9L389.4,775.5M389.4,775.5L387.2,778.8M389.4,775.5L387.0,776.5L384.7,777.5M384.7,777.5L380.9,778.5M384.7,777.5L382.3,778.4M382.3,778.4L379.5,782.2M382.3,778.4L380.0,779.4M380.0,779.4L377.9,782.7M380.0,779.4L377.5,780.1M377.5,780.1L374.7,783.1M377.5,780.1L374.9,780.5L372.9,782.0M372.9,782.0L369.4,785.5M372.9,782.0M393.7,771.9L391.6,773.2L389.4,774.4L387.3,775.7L385.3,777.3L383.2,778.6M383.2,778.6L379.9,782.3M383.2,778.6L380.6,779.2L378.7,780.8L376.1,781.4L373.8,782.4M394.0,771.6L391.8,772.9M391.8,772.9L388.5,773.9M391.8,772.9L389.5,773.9M389.5,773.9L386.0,774.7M389.5,773.9L387.2,774.8L385.1,776.2L382.9,777.4L381.2,779.4L378.6,779.9L376.7,781.7L375.0,783.6M375.0,783.6L372.7,787.7M375.0,783.6L373.5,786.0M394.0,771.2L391.7,772.2M391.7,772.2L387.5,771.9M391.7,772.2L389.5,773.5L387.3,774.6M387.3,774.6L384.8,777.4M387.3,774.6L384.9,775.4M384.9,775.4L380.4,775.0M384.9,775.4L382.4,776.0M382.4,776.0L377.5,775.8M382.4,776.0L380.5,777.8L378.1,778.6L375.4,778.7L373.4,780.4L370.6,780.2M370.6,780.2L368.1,782.7M370.6,780.2M394.0,770.9L391.8,772.0L389.6,773.2L387.4,774.5L385.6,776.3L383.7,778.1M383.7,778.1L379.1,779.3M383.7,778.1L381.4,779.0L379.2,780.3M379.2,780.3L376.5,784.0M379.2,780.3L376.5,780.6M376.5,780.6L374.1,783.3M376.5,780.6L374.7,782.6M374.7,782.6L370.7,782.6M374.7,782.6L373.4,785.2M393.3,770.9L391.1,772.1L388.6,772.7M388.6,772.7L386.3,774.6M388.6,772.7L386.1,773.0L383.6,773.4M383.6,773.4L381.2,772.9M383.6,773.4L381.1,773.7L378.8,774.9L376.3,775.2L373.8,775.6L371.5,776.5M394.7,769.9L392.2,770.3M392.2,770.3L390.4,771.3M392.2,770.3L389.8,770.8M389.8,770.8L385.2,769.7M389.8,770.8L387.3,771.1L384.8,771.5L382.5,772.7L380.0,772.8L377.5,772.9L374.9,772.7M374.9,772.7L372.9,774.1M374.9,772.7L372.3,772.0M394.7,769.8L392.2,770.2L389.7,770.1M389.7,770.1L387.6,771.1M389.7,770.1L387.2,770.3L384.7,771.0L382.3,771.4M382.3,771.4L379.4,774.0M382.3,771.4L379.8,771.9L377.3,771.5L374.9,772.6L372.2,771.5L369.8,771.9M369.8,771.9L367.0,770.7M369.8,771.9M393.0,769.7L390.5,770.2L388.0,770.8L385.5,770.4L383.0,770.5M383.0,770.5L380.0,772.5M383.0,770.5L380.6,771.3L378.0,770.5M378.0,770.5L375.4,772.4M378.0,770.5L375.5,770.7L373.1,772.0L370.5,771.2L368.0,769.7M368.0,769.7L363.4,771.1M368.0,769.7L365.5,768.7M394.5,769.3L392.0,769.4L389.5,769.7L387.0,770.0L384.5,770.5M384.5,770.5L381.4,769.5M384.5,770.5L382.1,771.1M382.1,771.1L379.9,772.1M382.1,771.1L379.6,771.6L377.1,771.5L374.5,770.6M374.5,770.6L371.0,772.5M374.5,770.6L372.0,769.6M394.2,769.0L391.7,768.7M391.7,768.7L388.1,766.6M391.7,768.7L389.2,768.5L386.7,768.1L384.2,768.2M384.2,768.2L381.7,769.3M384.2,768.2L381.7,768.7L379.2,768.4M379.2,768.4L374.9,766.6M379.2,768.4L376.7,767.5L374.3,766.7L371.8,766.5M371.8,766.5L367.7,764.8M371.8,766.5L369.3,766.9L366.7,768.2M393.1,768.6L390.7,767.8L388.3,767.1M388.3,767.1L385.0,764.7M388.3,767.1L386.1,765.9L383.5,765.6L381.3,764.5L378.8,764.0L376.3,763.7L373.6,764.2M373.6,764.2L371.6,764.5M373.6,764.2M394.5,768.8L392.1,768.0L389.7,767.3M389.7,767.3L388.0,765.3M389.7,767.3L387.4,766.3L385.0,765.6L382.6,764.8M382.6,764.8L380.4,763.3M382.6,764.8L380.1,764.5L377.8,763.4L375.2,763.4L372.6,763.5L370.0,763.5L367.9,761.6M393.1,767.9L390.8,767.0M390.8,767.0L386.1,767.0M390.8,767.0L388.4,766.0M388.4,766.0L384.3,765.9M388.4,766.0L386.2,765.0L384.0,763.8M384.0,763.8L381.2,764.1M384.0,763.8L381.8,762.5L379.9,760.8M379.9,760.8L375.0,761.3M379.9,760.8L378.3,758.5L376.7,756.3L374.3,755.4M374.3,755.4L371.7,754.7M374.3,755.4L371.4,755.4L369.2,754.3M394.0,768.0L391.6,767.2L389.5,765.8M389.5,765.8L386.0,762.6M389.5,765.8L387.1,764.9L384.6,764.5L382.5,763.1L379.8,763.0L377.8,761.2M377.8,761.2L374.6,758.5M377.8,761.2L375.1,761.4L373.0,759.9L370.1,760.3L367.3,761.1M367.3,761.1L365.1,759.5M367.3,761.1M393.7,767.4L391.6,766.0L389.4,764.9L387.2,763.6L385.3,762.0L382.8,761.2L381.2,759.1M381.2,759.1L377.1,757.9M381.2,759.1L378.7,758.5L375.9,758.3L374.4,755.9L371.7,755.5L368.7,755.9M368.7,755.9L365.7,755.8M368.7,755.9M395.0,767.9L393.2,766.2L391.2,764.7M391.2,764.7L389.3,764.1M391.2,764.7L388.9,763.5L387.1,761.8L384.8,760.7L382.4,759.8L380.3,758.4M380.3,758.4L376.2,757.8M380.3,758.4L378.2,757.1M378.2,757.1L373.4,757.2M378.2,757.1L376.1,755.7L373.3,755.5L370.5,755.4M394.4,767.2L392.6,765.5M392.6,765.5L388.6,764.7M392.6,765.5L390.6,764.0L388.7,762.4M388.7,762.4L387.9,759.9M388.7,762.4L386.3,761.3L383.8,760.6L381.6,759.4L379.2,758.5L377.4,756.7L375.0,755.7M375.0,755.7L371.7,752.2M375.0,755.7L372.5,755.1M372.5,755.1L368.9,754.4M372.5,755.1M395.6,768.0L393.7,766.4M393.7,766.4L392.0,763.4M393.7,766.4L391.9,764.7M391.9,764.7L391.0,762.1M391.9,764.7L389.9,763.1L387.8,761.8L385.5,760.6M385.5,760.6L382.9,756.6M385.5,760.6L383.9,758.6L381.7,757.3L379.0,756.7M379.0,756.7L376.3,753.1M379.0,756.7L376.2,756.4M395.6,767.3L394.4,765.1L393.3,762.9L391.7,760.9L390.9,758.5L389.8,756.2M389.8,756.2L389.6,751.5M389.8,756.2L388.1,754.3L386.5,752.4L385.6,750.0L385.4,747.3L384.3,745.0M384.3,745.0L383.9,740.6M384.3,745.0L384.4,742.2L382.6,740.3M395.6,766.9L394.5,764.7M394.5,764.7L394.4,761.5M394.5,764.7L393.3,762.4L392.0,760.3L390.4,758.3L389.8,755.8L388.8,753.5L387.6,751.3L385.8,749.4L385.2,746.9L384.2,744.6M384.2,744.6L383.6,741.1M384.2,744.6M396.0,767.3L394.8,765.1L393.4,763.0M393.4,763.0L389.8,760.4M393.4,763.0L392.6,760.6M392.6,760.6L392.3,755.8M392.6,760.6L392.1,758.1L390.6,756.0M390.6,756.0L388.9,754.3M390.6,756.0L388.8,754.1M388.8,754.1L388.3,750.7M388.8,754.1L388.6,751.4L386.6,749.6L384.8,747.7M384.8,747.7L382.4,745.7M384.8,747.7L384.0,745.3M384.0,745.3L381.2,742.5M384.0,745.3M395.7,765.5L394.9,763.1L394.6,760.6L393.4,758.3L392.6,756.0L392.0,753.5L392.0,750.9L390.9,748.7L390.6,746.1L390.5,743.6L388.7,741.5M395.9,765.5L395.1,763.1L394.3,760.8M394.3,760.8L394.8,758.0M394.3,760.8L393.6,758.3M393.6,758.3L393.5,755.4M393.6,758.3L392.6,756.1L391.0,754.0L389.5,751.9L388.0,749.8L386.2,747.9L385.3,745.6L384.9,743.0M396.7,767.5L396.3,765.1M396.3,765.1L397.0,761.4M396.3,765.1L396.2,762.5L396.2,760.0M396.2,760.0L393.9,756.5M396.2,760.0L395.6,757.6L395.8,755.1L395.6,752.6L395.7,750.0L394.3,747.7M394.3,747.7L391.7,743.7M394.3,747.7L394.7,745.1M394.7,745.1L393.6,742.8M394.7,745.1L395.7,742.5L395.9,740.0M396.7,767.2L396.5,764.8L395.9,762.3L395.1,759.9M395.1,759.9L395.5,757.0M395.1,759.9L394.1,757.6L394.2,755.0L393.9,752.5M393.9,752.5L394.7,748.8M393.9,752.5L393.4,750.1L392.5,747.7M392.5,747.7L393.7,743.1M392.5,747.7L390.9,745.5L389.6,743.3M389.6,743.3L390.1,740.6M389.6,743.3L389.5,740.7M389.5,740.7L390.2,738.2M389.5,740.7M397.1,765.9L397.2,763.4L397.1,760.9L397.5,758.4M397.5,758.4L398.4,756.4M397.5,758.4L398.1,755.9L399.1,753.5L400.0,751.1M400.0,751.1L401.0,749.0M400.0,751.1L400.6,748.7L400.3,746.1M400.3,746.1L402.1,743.0M400.3,746.1L401.6,743.8L401.3,741.2L402.4,738.9M397.2,766.1L397.3,763.6M397.3,763.6L399.4,759.4M397.3,763.6L398.0,761.2L398.7,758.8M398.7,758.8L398.1,756.9M398.7,758.8L399.9,756.5M399.9,756.5L399.5,752.4M399.9,756.5L400.3,754.0L401.5,751.7L401.7,749.2L401.4,746.6M401.4,746.6L399.9,742.3M401.4,746.6L402.9,744.3L404.0,742.0M397.7,765.3L398.0,762.8M398.0,762.8L396.6,759.6M398.0,762.8L398.4,760.4M398.4,760.4L400.0,757.8M398.4,760.4L399.1,757.9L399.1,755.4M399.1,755.4L401.1,751.5M399.1,755.4L400.2,753.1L401.7,750.8L402.4,748.4L403.9,746.3M403.9,746.3L403.4,742.5M403.9,746.3M398.1,765.6L399.0,763.2L399.5,760.8L400.9,758.6M400.9,758.6L403.1,756.1M400.9,758.6L401.0,756.0L402.6,753.9L404.2,751.8L404.9,749.4M404.9,749.4L404.5,747.4M404.9,749.4L406.9,747.6M398.2,766.3L398.9,763.9M398.9,763.9L400.8,762.0M398.9,763.9L399.2,761.3L400.0,759.0M400.0,759.0L399.7,754.3M400.0,759.0L400.9,756.6M400.9,756.6L399.8,752.0M400.9,756.6L401.1,754.1L402.1,751.7M402.1,751.7L401.9,748.6M402.1,751.7L401.7,749.1L402.3,746.7L402.0,744.0L403.9,741.9L404.2,739.4M397.7,767.9L399.0,765.8L399.8,763.4L401.1,761.2L401.9,758.9L403.7,757.0L404.7,754.6L405.0,752.0M405.0,752.0L404.6,748.7M405.0,752.0L406.7,750.1L408.7,748.3M408.7,748.3L408.5,744.6M408.7,748.3L411.2,746.9L411.3,744.0M411.3,744.0L414.7,740.7M411.3,744.0M398.0,767.9L399.4,765.8L400.5,763.6M400.5,763.6L400.8,761.5M400.5,763.6L401.4,761.3L402.4,759.0L403.5,756.7M403.5,756.7L403.6,753.7M403.5,756.7L404.5,754.4M404.5,754.4L408.3,752.1M404.5,754.4L405.6,752.2L406.4,749.7L408.6,748.1L410.0,746.0M410.0,746.0L412.3,744.5M410.0,746.0M398.6,767.2L400.0,765.1L401.5,763.1L402.9,761.0M402.9,761.0L403.5,759.0M402.9,761.0L404.3,759.0M404.3,759.0L405.4,755.0M404.3,759.0L405.6,756.8L406.8,754.6L407.4,752.1M407.4,752.1L409.7,750.5M407.4,752.1L408.9,750.1L410.4,748.1L412.5,746.4L413.0,743.7M398.8,767.4L400.6,765.6L402.5,763.9M402.5,763.9L404.4,760.3M402.5,763.9L404.4,762.4L406.4,760.8M406.4,760.8L408.2,759.8M406.4,760.8L408.2,759.1L410.5,757.9L413.1,757.2L414.5,754.9M414.5,754.9L416.6,754.5M414.5,754.9L417.0,754.0L419.6,753.3L421.3,751.4M398.4,768.1L400.2,766.3L402.2,764.8M402.2,764.8L406.3,763.2M402.2,764.8L404.0,763.0M404.0,763.0L404.9,761.1M404.0,763.0L405.8,761.3L407.0,759.0L409.4,757.9M409.4,757.9L413.5,755.7M409.4,757.9L411.6,756.5L414.0,755.5L416.6,754.8M399.3,767.5L401.4,766.0L403.6,764.8L405.5,763.2L407.9,762.3L409.8,760.5M409.8,760.5L412.1,756.6M409.8,760.5L411.2,758.2L412.5,755.9L415.2,755.3M415.2,755.3L417.0,751.7M415.2,755.3L416.8,753.2M416.8,753.2L418.4,748.9M416.8,753.2L419.6,752.8M419.6,752.8L422.8,752.7M419.6,752.8L421.8,751.5M421.8,751.5L423.2,747.6M421.8,751.5M398.9,768.2L401.0,766.8M401.0,766.8L405.7,766.1M401.0,766.8L403.0,765.4M403.0,765.4L406.6,765.0M403.0,765.4L405.2,764.2L407.5,763.1M407.5,763.1L411.3,761.9M407.5,763.1L409.6,761.8M409.6,761.8L410.9,759.3M409.6,761.8L412.1,761.2L413.8,759.1L416.1,758.0M416.1,758.0L418.6,757.7M416.1,758.0L418.6,757.4L420.6,755.8M420.6,755.8L422.3,752.7M420.6,755.8L422.1,753.5L424.1,752.0M399.4,768.1L401.6,766.9M401.6,766.9L403.9,763.2M401.6,766.9L403.6,765.5M403.6,765.5L406.6,761.9M403.6,765.5L406.0,764.6L408.1,763.2M408.1,763.2L410.9,759.2M408.1,763.2L410.7,762.8L413.0,761.8L415.2,760.7M415.2,760.7L417.8,760.7M415.2,760.7L417.9,760.6L420.7,760.8M400.1,768.2L402.5,767.5L404.8,766.5L406.9,765.1L409.5,764.6L411.9,763.9M411.9,763.9L415.3,764.4M411.9,763.9L414.4,763.6M414.4,763.6L419.1,763.8M414.4,763.6L416.7,762.6L418.9,761.2L420.9,759.5L422.6,757.3M399.3,768.8L401.6,767.7M401.6,767.7L403.5,766.3M401.6,767.7L403.9,766.7M403.9,766.7L407.1,763.3M403.9,766.7L406.1,765.6M406.1,765.6L408.4,765.5M406.1,765.6L408.2,764.1L410.7,763.5L412.8,762.2M412.8,762.2L415.4,758.7M412.8,762.2L414.7,760.3M414.7,760.3L419.3,759.3M414.7,760.3L417.3,760.1L419.6,758.9M419.6,758.9L422.4,755.4M419.6,758.9L421.8,757.8M421.8,757.8L423.3,755.6M421.8,757.8L423.4,755.4M423.4,755.4L425.7,751.6M423.4,755.4M399.0,769.0L401.4,768.1L403.8,767.4M403.8,767.4L406.7,768.1M403.8,767.4L406.2,766.8M406.2,766.8L409.9,763.9M406.2,766.8L408.7,766.5M408.7,766.5L412.7,766.5M408.7,766.5L411.3,766.5L413.8,766.5L416.2,765.6L418.3,763.9L420.7,763.1L422.9,761.5M422.9,761.5L425.3,761.5M422.9,761.5L425.3,761.0M399.8,769.0L402.2,768.8L404.7,768.1M404.7,768.1L409.1,769.7M404.7,768.1L407.1,767.7L409.6,767.4L412.2,767.5L414.7,767.4M414.7,767.4L416.3,766.2M414.7,767.4L417.2,767.6L419.7,767.5M399.4,769.5L401.9,769.2L404.4,768.9L406.9,769.0M406.9,769.0L409.9,770.6M406.9,769.0L409.4,768.6L411.9,768.6L414.3,767.9L416.9,768.5L419.3,767.6L421.7,766.4" stroke="#a8a8a8" stroke-width="0.8" opacity="0.35" fill="none" stroke-linecap="round"/>
<circle cx="384.6" cy="783" r="14" fill="url(#ps14_4)"/>
<circle cx="397.0" cy="769.5" r="6" fill="url(#ps14_5)"/>
</g>
<circle cx="398.6" cy="769" r="32.5" fill="none" stroke="#151515" stroke-width="1" opacity="0.85"/>
<text x="606.6" y="708.9" font-family="Liberation Sans" font-size="14.5" text-anchor="middle" fill="#222" font-weight="normal" >1S</text>
<line x1="568" y1="712.2" x2="642" y2="712.2" stroke="#888" stroke-width="1.6"/>
<text x="569.50" y="731.9" font-family="Liberation Sans" font-weight="bold" font-size="14.81" text-anchor="middle" fill="#1b9fd3">I</text>
<text x="642.40" y="731.9" font-family="Liberation Sans" font-weight="bold" font-size="14.81" text-anchor="middle" fill="#e07f22">II</text>
<g clip-path="url(#cp15)">
<circle cx="569.9" cy="769.5" r="33" fill="url(#pd15)"/>
<rect x="536.9" y="736.5" width="66" height="66" filter="url(#grainL)" opacity="0.22"/><rect x="536.9" y="736.5" width="66" height="66" filter="url(#grainD)" opacity="0.24"/>
<path d="M570.8,769.6L573.3,769.6M573.3,769.6L577.7,771.6M573.3,769.6L575.8,770.0L578.2,770.5L580.8,770.3L583.3,770.5M572.0,770.5L574.3,771.4M574.3,771.4L577.8,771.2M574.3,771.4L576.7,772.1M576.7,772.1L580.2,774.9M576.7,772.1L578.9,773.5L581.0,774.9L583.4,775.7M583.4,775.7L585.5,777.7M583.4,775.7M571.9,771.6L574.1,772.8M574.1,772.8L576.0,776.6M574.1,772.8L576.3,773.9L578.2,775.6L580.6,776.6M571.3,772.2L572.8,774.2M572.8,774.2L575.0,775.4M572.8,774.2L574.2,776.3L575.9,778.1L577.1,780.3L578.8,782.2M578.8,782.2L583.4,784.0M578.8,782.2M570.9,773.1L572.0,775.4L573.4,777.4L575.0,779.4L576.3,781.5L578.1,783.3M578.1,783.3L581.7,786.5M578.1,783.3M569.4,771.5L570.1,773.9L570.7,776.3M570.7,776.3L570.0,780.4M570.7,776.3L571.5,778.7L572.5,781.0M572.5,781.0L571.9,785.5M572.5,781.0L573.1,783.4M573.1,783.4L575.7,787.5M573.1,783.4M568.8,772.8L568.5,775.3M568.5,775.3L567.5,778.0M568.5,775.3L568.3,777.7M568.3,777.7L569.3,782.3M568.3,777.7L568.3,780.3L568.9,782.8M568.9,782.8L570.4,784.9M568.9,782.8M568.0,772.1L567.4,774.5L566.9,777.0L566.3,779.4M566.3,779.4L564.0,783.4M566.3,779.4L565.9,781.9L564.8,784.2M564.8,784.2L565.7,786.8M564.8,784.2M566.4,773.2L564.7,775.1M564.7,775.1L564.4,778.3M564.7,775.1L563.3,777.1L561.7,779.1M561.7,779.1L561.1,782.9M561.7,779.1L560.9,781.5M560.9,781.5L558.8,782.9M560.9,781.5M566.1,772.2L564.3,773.9L562.3,775.5L560.1,776.7L558.0,778.1L556.4,780.1M556.4,780.1L554.7,784.1M556.4,780.1M566.3,771.0L564.2,772.3M564.2,772.3L559.7,773.5M564.2,772.3L561.9,773.4L559.7,774.6L557.5,775.9L555.2,776.8M566.6,769.9L564.1,770.2L561.7,770.8M561.7,770.8L558.4,772.8M561.7,770.8L559.1,770.7M559.1,770.7L556.6,770.1M559.1,770.7L556.6,770.6M556.6,770.6L554.0,769.8M556.6,770.6L554.1,771.1L551.7,771.6M566.4,769.3L563.9,769.3M563.9,769.3L559.7,770.5M563.9,769.3L561.4,769.0L559.0,768.5L556.5,768.5M556.5,768.5L552.7,765.9M556.5,768.5L553.9,769.2M566.1,768.5L563.8,767.6L561.4,766.9L559.0,766.2L556.8,764.8M556.8,764.8L551.9,764.9M556.8,764.8L554.5,763.8M566.9,768.2L564.8,766.8L562.7,765.6L560.3,764.6M560.3,764.6L556.8,761.1M560.3,764.6L558.4,763.0L555.9,762.3M555.9,762.3L553.6,759.7M555.9,762.3M567.1,767.4L565.8,765.3L564.3,763.2L562.4,761.6L560.4,759.9L558.6,758.2L556.9,756.4M567.7,767.1L566.8,764.8M566.8,764.8L566.3,761.3M566.8,764.8L565.4,762.7L563.7,760.8L562.1,758.8L561.3,756.4M561.3,756.4L559.4,755.3M561.3,756.4M568.3,766.0L567.6,763.6M567.6,763.6L565.4,761.1M567.6,763.6L566.8,761.3M566.8,761.3L566.9,758.3M566.8,761.3L566.2,758.8L565.0,756.6M569.1,767.5L569.3,765.0L569.5,762.5L569.2,760.0L568.9,757.4M568.9,757.4L566.8,754.1M568.9,757.4L569.4,755.0M570.1,765.3L570.8,762.9M570.8,762.9L572.3,760.8M570.8,762.9L571.3,760.4M571.3,760.4L572.8,757.8M571.3,760.4L572.6,758.2M572.6,758.2L573.7,756.5M572.6,758.2L572.8,755.7M571.1,766.0L572.6,763.9M572.6,763.9L575.5,761.9M572.6,763.9L573.9,761.9L575.1,759.6L576.1,757.3M571.7,766.7L573.3,764.9L574.7,762.7M574.7,762.7L577.3,761.5M574.7,762.7L576.7,761.2M576.7,761.2L578.1,757.2M576.7,761.2L578.0,758.9M572.2,767.9L574.4,766.7L576.6,765.4L578.9,764.4M578.9,764.4L582.2,764.0M578.9,764.4L580.9,762.9M580.9,762.9L585.8,762.5M580.9,762.9L583.1,761.7M572.3,768.9L574.8,768.3L577.2,767.9L579.8,768.0L582.1,766.9L584.5,766.1M584.5,766.1L586.9,766.9M584.5,766.1" stroke="#6a6a6a" stroke-width="0.9" opacity="0.45" fill="none" stroke-linecap="round"/>
<path d="M566.9,798.5 L572.9,800.5 L568.9,803.5 Z" fill="#111" opacity="0.9"/>
</g>
<circle cx="569.9" cy="769.5" r="32.5" fill="none" stroke="#151515" stroke-width="1" opacity="0.85"/>
<g clip-path="url(#cp16)">
<circle cx="642" cy="769" r="33" fill="url(#pd16)"/>
<path d="M608,757 L616,756 Q622,749 626,744 Q632,742 636,735 L608,735 Z" fill="#2e2e2e" opacity="0.95"/>
<rect x="609" y="736" width="66" height="66" filter="url(#grainL)" opacity="0.2"/><rect x="609" y="736" width="66" height="66" filter="url(#grainD)" opacity="0.24"/>
<path d="M643.2,769.7L645.7,770.1L648.2,770.6L650.7,770.6L653.1,771.2M653.1,771.2L656.8,773.6M653.1,771.2L655.5,772.1L657.9,772.8L660.5,772.4M660.5,772.4L664.3,770.6M660.5,772.4L663.0,772.9M641.7,769.7L644.2,770.1L646.7,770.4M646.7,770.4L648.6,771.5M646.7,770.4L649.2,770.6L651.6,771.2M651.6,771.2L654.1,770.6M651.6,771.2L654.0,772.1L656.5,772.3L658.9,772.8M658.9,772.8L661.3,774.2M658.9,772.8L661.5,772.6L664.0,772.9L666.2,774.8L668.9,773.8M668.9,773.8L672.3,773.0M668.9,773.8L671.1,775.9L673.6,776.0M643.1,770.5L645.4,771.2L647.9,771.8M647.9,771.8L649.6,772.8M647.9,771.8L650.2,772.8L652.5,773.7L655.0,774.3L657.5,774.4L660.2,773.9L662.4,775.5M662.4,775.5L665.3,778.8M662.4,775.5L664.9,776.0M664.9,776.0L667.4,777.8M664.9,776.0M642.5,770.4L644.9,771.2M644.9,771.2L647.1,773.5M644.9,771.2L647.1,772.4L649.6,772.8L652.2,773.0L654.5,773.9M654.5,773.9L657.0,776.7M654.5,773.9L657.0,774.3M657.0,774.3L659.7,773.8M657.0,774.3L659.2,775.8M659.2,775.8L664.1,775.9M659.2,775.8L661.1,777.8M661.1,777.8L665.7,778.3M661.1,777.8L663.5,778.6L665.4,780.6L667.6,781.8M643.0,771.1L645.4,771.9L647.5,773.2L650.0,773.7L652.2,775.1L654.4,776.2M654.4,776.2L656.4,776.2M654.4,776.2L657.1,776.2L659.7,776.3L662.1,777.1L664.9,776.6L667.2,777.6L669.7,777.7M669.7,777.7L672.1,779.4M669.7,777.7M641.1,770.3L643.3,771.6L645.5,772.7L647.9,773.6L649.9,775.2L652.2,776.1M652.2,776.1L654.7,779.5M652.2,776.1L654.0,778.1L656.6,778.6M656.6,778.6L657.6,780.4M656.6,778.6L658.6,780.1M658.6,780.1L662.6,780.3M658.6,780.1L661.4,780.1L662.9,782.6M662.9,782.6L667.4,783.7M662.9,782.6L665.7,782.8L667.0,785.5M640.9,770.5L643.0,771.9L645.2,773.0M645.2,773.0L646.7,774.9M645.2,773.0L647.4,774.3L649.6,775.5L652.1,776.1L654.0,777.8L656.1,779.3L658.1,780.8L659.5,783.2M659.5,783.2L661.4,786.3M659.5,783.2L661.8,784.2L664.2,785.2M664.2,785.2L666.4,785.4M664.2,785.2M640.7,770.5L642.7,772.0L644.6,773.6L646.4,775.3M646.4,775.3L650.2,776.8M646.4,775.3L648.1,777.2L649.7,779.1L650.9,781.5L653.1,782.8M653.1,782.8L657.6,784.2M653.1,782.8L655.1,784.3L657.7,785.2M657.7,785.2L659.1,787.3M657.7,785.2M641.0,771.0L642.9,772.6L644.5,774.6L646.3,776.4L647.6,778.6M647.6,778.6L651.7,781.3M647.6,778.6L649.5,780.2L651.8,781.5M651.8,781.5L653.3,784.2M651.8,781.5L654.3,782.4L656.5,783.6M656.5,783.6L660.6,784.7M656.5,783.6L659.0,784.6L660.7,786.5M642.1,772.3L643.8,774.2L645.1,776.4L646.3,778.6L647.1,781.1L648.3,783.3L650.3,785.0L651.3,787.3L651.8,789.9L652.0,792.7M652.0,792.7L655.2,795.3M652.0,792.7L652.9,795.1M640.7,771.2L642.0,773.3L643.5,775.4L645.2,777.2M645.2,777.2L647.5,779.1M645.2,777.2L647.0,779.0L648.1,781.3L649.3,783.5L651.4,785.0L652.7,787.2L653.5,789.7M641.0,772.1L642.2,774.2L643.4,776.4L644.6,778.6L645.5,781.0L646.8,783.1L647.2,785.7L648.2,788.0M648.2,788.0L647.9,790.1M648.2,788.0L648.7,790.5M648.7,790.5L648.2,793.8M648.7,790.5L648.4,793.3L648.3,796.0M640.8,772.2L642.1,774.4L643.5,776.4M643.5,776.4L647.4,779.4M643.5,776.4L645.0,778.4M645.0,778.4L645.9,783.2M645.0,778.4L646.4,780.5M646.4,780.5L646.4,783.7M646.4,780.5L648.4,782.2L649.7,784.4L650.2,787.0M650.2,787.0L652.0,788.6M650.2,787.0L652.0,788.8L653.8,790.6L655.5,792.5M640.8,772.6L641.4,775.1L642.6,777.3L643.6,779.6L643.9,782.1L644.3,784.6L645.8,786.8L645.7,789.4M645.7,789.4L648.2,791.9M645.7,789.4L647.6,791.4L647.3,794.2M640.0,771.3L640.7,773.7L641.4,776.1M641.4,776.1L643.0,778.0M641.4,776.1L641.7,778.6L642.8,780.9L642.8,783.5L644.0,785.8M644.0,785.8L643.2,790.0M644.0,785.8L645.4,788.0M645.4,788.0L645.0,792.6M645.4,788.0L646.1,790.4L645.5,793.2L645.3,795.8L646.9,798.0L645.7,800.8M639.9,771.2L640.3,773.7M640.3,773.7L642.3,776.2M640.3,773.7L640.6,776.2L640.8,778.7L640.9,781.2L641.6,783.6L641.9,786.1M641.9,786.1L643.2,788.6M641.9,786.1L641.5,788.7M641.5,788.7L642.9,791.9M641.5,788.7L642.1,791.1L641.7,793.7M641.7,793.7L640.7,797.2M641.7,793.7L641.2,796.2M641.2,796.2L640.7,798.4M641.2,796.2L639.8,798.8M640.0,773.9L640.3,776.4L640.0,778.9L640.6,781.4L640.3,783.9L639.7,786.4L640.2,788.9M640.2,788.9L642.1,792.3M640.2,788.9L641.1,791.4L639.9,793.9M639.5,771.5L639.6,774.0L639.3,776.5L639.2,779.0M639.2,779.0L637.8,783.7M639.2,779.0L638.8,781.4L638.5,783.9L638.1,786.4M638.1,786.4L639.0,789.2M638.1,786.4L637.8,788.9L638.5,791.4M638.5,791.4L637.3,795.3M638.5,791.4L637.6,793.9M637.6,793.9L635.8,797.6M637.6,793.9L638.1,796.4L639.5,799.0M639.4,771.3L639.2,773.8L639.1,776.3M639.1,776.3L637.2,779.1M639.1,776.3L639.3,778.8L638.6,781.3L638.5,783.8L638.4,786.3L638.4,788.8L638.5,791.3L639.1,793.8M639.1,793.8L638.3,796.3M639.1,793.8L637.7,796.3L637.2,798.7L636.4,801.2L637.9,803.8M639.0,772.6L638.6,775.0L638.6,777.6M638.6,777.6L637.3,779.4M638.6,777.6L638.3,780.1L638.5,782.6L639.0,785.1M639.0,785.1L640.3,787.6M639.0,785.1L639.9,787.6L640.8,790.1L640.9,792.6L640.6,795.1L642.3,797.5M638.7,772.5L637.9,774.9L637.2,777.3L636.0,779.5L634.4,781.6L634.0,784.1M634.0,784.1L630.1,786.8M634.0,784.1L632.2,786.1M632.2,786.1L630.5,787.8M632.2,786.1L630.5,788.0L630.0,790.6M630.0,790.6L628.1,792.5M630.0,790.6L628.1,792.4L625.8,794.0L625.9,796.9M638.4,772.2L637.7,774.6L637.1,777.1L636.4,779.5M636.4,779.5L636.8,782.3M636.4,779.5L636.0,781.9L634.9,784.2M634.9,784.2L635.5,786.6M634.9,784.2L633.9,786.5L633.1,788.9L631.5,791.0M631.5,791.0L628.4,794.4M631.5,791.0L632.0,793.8L630.9,796.1M638.3,772.0L637.0,774.2L635.5,776.2L633.9,778.1L632.3,780.1L630.5,781.9M630.5,781.9L629.1,785.5M630.5,781.9L628.3,783.3M628.3,783.3L625.3,784.7M628.3,783.3L626.2,784.8L623.6,785.8M623.6,785.8L622.9,787.9M623.6,785.8L622.0,787.7M622.0,787.7L620.7,790.7M622.0,787.7L619.8,789.1M638.5,771.3L637.3,773.5M637.3,773.5L637.5,777.4M637.3,773.5L636.2,775.7L635.0,777.9M635.0,777.9L634.8,780.7M635.0,777.9L633.5,779.9L631.8,781.8L630.1,783.7M630.1,783.7L626.3,786.1M630.1,783.7L629.3,786.1L627.1,787.7M627.1,787.7L625.8,792.0M627.1,787.7L625.9,789.9M625.9,789.9L625.7,793.8M625.9,789.9L625.3,792.5L624.4,794.9L623.7,797.4M637.3,772.5L635.8,774.6M635.8,774.6L632.3,776.0M635.8,774.6L634.4,776.6L632.7,778.5L631.7,780.8M631.7,780.8L628.8,782.6M631.7,780.8L631.0,783.3L630.0,785.7M630.0,785.7L626.2,787.9M630.0,785.7L629.7,788.4L628.4,790.5L628.6,793.4L626.5,795.2L626.9,798.1M637.8,771.2L636.3,773.1L634.5,774.9L632.8,776.7L631.1,778.5L629.9,780.9L628.4,782.9L626.5,784.5L624.2,785.8L621.9,787.1M621.9,787.1L619.9,787.9M621.9,787.1L621.1,789.8M621.1,789.8L620.5,793.0M621.1,789.8L618.6,790.9M637.3,771.5L635.6,773.4L634.0,775.3L632.2,777.1M632.2,777.1L630.9,781.7M632.2,777.1L630.5,778.9L628.7,780.6L627.6,783.0L626.1,785.0L623.8,786.3L621.7,787.8M621.7,787.8L618.1,789.0M621.7,787.8M636.9,771.7L634.7,773.1M634.7,773.1L630.4,774.4M634.7,773.1L632.8,774.6L630.6,775.9M630.6,775.9L628.7,779.8M630.6,775.9L628.3,776.9L625.9,777.9L623.3,778.3M623.3,778.3L621.1,780.4M623.3,778.3L621.4,780.0L619.6,781.9M636.8,771.3L634.6,772.6M634.6,772.6L630.3,772.9M634.6,772.6L632.3,773.6L630.3,775.2L628.2,776.6L625.8,777.4L623.4,778.1M623.4,778.1L619.4,778.3M623.4,778.1L620.6,778.2L618.9,780.4L617.4,782.8L614.5,782.8L612.7,784.6M636.5,771.1L634.2,772.1M634.2,772.1L631.4,775.8M634.2,772.1L631.9,773.2M631.9,773.2L630.5,775.2M631.9,773.2L629.4,773.7M629.4,773.7L625.7,774.0M629.4,773.7L627.0,774.2L624.6,775.1L622.1,775.5L619.6,775.9L617.2,776.5M617.2,776.5L615.2,776.2M617.2,776.5L614.9,777.7M614.9,777.7L611.1,777.5M614.9,777.7L612.8,779.1L610.0,778.5L607.7,779.7M607.7,779.7L604.3,783.3M607.7,779.7M637.2,770.6L635.0,771.8L632.7,772.8M632.7,772.8L630.6,773.2M632.7,772.8L630.2,773.4L627.7,773.9M627.7,773.9L625.3,777.1M627.7,773.9L625.2,774.4L622.8,775.0L620.7,776.6L618.1,776.6L616.1,778.4M636.2,770.5L633.8,771.2L631.3,771.6L628.7,771.6L626.4,772.7L623.8,772.5M623.8,772.5L620.9,771.4M623.8,772.5L621.2,772.0L618.6,771.4L616.1,771.6L613.7,771.9M636.3,770.1L633.9,770.5L631.4,770.9L629.0,771.8M629.0,771.8L625.2,771.0M629.0,771.8L626.7,772.8M626.7,772.8L624.3,772.1M626.7,772.8L624.1,772.7M624.1,772.7L621.0,774.9M624.1,772.7L621.5,772.5L619.2,773.6M619.2,773.6L617.1,774.7M619.2,773.6L616.8,774.4L614.3,774.8M614.3,774.8L610.2,773.1M614.3,774.8L611.6,773.9M611.6,773.9L609.3,775.2M611.6,773.9L609.4,775.8L606.7,774.8M606.7,774.8L604.8,776.2M606.7,774.8M636.6,770.0L634.1,770.2L631.6,770.7M631.6,770.7L629.3,769.9M631.6,770.7L629.1,770.6M629.1,770.6L626.6,770.3M629.1,770.6L626.6,771.3L624.3,772.2L622.0,773.5L619.6,774.5L617.4,775.6L615.2,777.3M615.2,777.3L611.6,777.3M615.2,777.3M637.5,769.6L635.0,769.8L632.5,769.9L630.0,770.4L627.5,770.5L625.1,771.0L622.5,770.3M622.5,770.3L619.1,772.0M622.5,770.3L620.0,770.2L617.5,770.1L615.0,769.9M615.0,769.9L610.6,767.6M615.0,769.9L612.5,769.1M612.5,769.1L610.2,767.6M612.5,769.1L610.0,769.0L607.6,767.6M607.6,767.6L605.7,766.2M607.6,767.6L605.0,768.4M605.0,768.4L602.1,766.9M605.0,768.4M635.7,769.4L633.3,769.3M633.3,769.3L630.3,767.9M633.3,769.3L630.7,769.7L628.3,769.9L625.8,770.6L623.3,771.1M623.3,771.1L619.3,772.6M623.3,771.1L620.8,770.4M620.8,770.4L617.2,768.9M620.8,770.4L618.3,771.0L615.9,771.9L613.5,773.2M613.5,773.2L611.7,774.7M613.5,773.2L610.9,772.0M635.4,769.0L632.9,768.5L630.5,767.9L628.1,767.0L625.6,766.5L623.1,766.5L620.6,766.5L618.0,767.2L615.6,765.9M615.6,765.9L613.9,764.5M615.6,765.9L613.1,766.0L610.7,765.2L608.2,764.7M608.2,764.7L605.3,762.1M608.2,764.7L605.8,763.8M636.3,768.9L633.9,768.1M633.9,768.1L631.2,769.0M633.9,768.1L631.5,767.4M631.5,767.4L629.7,766.1M631.5,767.4L629.0,767.1L626.5,766.8L624.0,766.6L621.6,766.0M621.6,766.0L618.2,763.6M621.6,766.0L619.1,765.8M619.1,765.8L616.2,764.3M619.1,765.8L616.9,764.0L614.3,764.2M637.5,768.8L635.1,768.2M635.1,768.2L632.5,766.6M635.1,768.2L632.8,767.1L630.4,766.6L627.9,766.2L625.5,765.6L622.9,765.5M622.9,765.5L619.7,766.1M622.9,765.5L620.3,765.6L618.0,764.7L615.8,763.0L613.2,763.3L610.4,764.3M636.8,768.2L634.5,767.4M634.5,767.4L632.8,765.2M634.5,767.4L632.1,766.6L629.8,765.5M629.8,765.5L625.6,765.6M629.8,765.5L627.6,764.4L625.3,763.4L623.2,761.9L621.3,760.1L619.4,758.4L617.0,757.6L615.6,755.1M637.7,768.5L635.6,767.1M635.6,767.1L632.0,766.5M635.6,767.1L633.5,765.8L631.2,764.8M631.2,764.8L627.5,764.4M631.2,764.8L629.2,763.2L626.9,762.2M626.9,762.2L622.2,761.1M626.9,762.2L624.6,761.2L623.0,759.0M623.0,759.0L620.5,755.0M623.0,759.0L621.4,756.8L619.9,754.6L617.2,754.2L615.4,752.4M638.1,768.5L636.0,767.2L634.0,765.6M634.0,765.6L631.8,762.3M634.0,765.6L631.9,764.3L629.6,763.3L627.4,762.1L625.1,761.1M625.1,761.1L621.6,757.5M625.1,761.1L622.7,760.2L620.6,758.9L618.2,757.9M618.2,757.9L614.6,754.5M618.2,757.9L616.3,756.2L614.3,754.8L611.6,754.5L608.9,754.1M608.9,754.1L605.4,754.4M608.9,754.1M636.3,766.7L634.2,765.3M634.2,765.3L631.6,765.1M634.2,765.3L632.4,763.6L630.8,761.5L629.2,759.6M629.2,759.6L625.9,758.9M629.2,759.6L627.0,758.3L625.2,756.6L623.2,755.1M623.2,755.1L621.7,752.0M623.2,755.1L621.9,752.8M621.9,752.8L619.2,751.8M621.9,752.8L619.9,751.2M619.9,751.2L615.4,750.0M619.9,751.2L617.9,749.8L615.3,748.9M638.1,768.2L636.2,766.6L634.2,765.2L632.4,763.4L630.2,762.1M630.2,762.1L625.9,761.5M630.2,762.1L628.8,759.9L626.6,758.6M626.6,758.6L624.4,757.9M626.6,758.6L624.2,757.6L622.7,755.5L621.0,753.7L619.3,751.8M619.3,751.8L617.2,747.6M619.3,751.8L616.5,751.2M616.5,751.2L611.8,750.6M616.5,751.2L613.7,750.8M637.6,767.1L635.9,765.3M635.9,765.3L634.4,762.0M635.9,765.3L633.9,763.7L632.4,761.7M632.4,761.7L631.2,757.8M632.4,761.7L631.0,759.6L629.4,757.7L627.1,756.4L624.6,755.3L622.3,754.2L621.2,751.8M621.2,751.8L616.9,749.9M621.2,751.8M637.0,765.8L635.6,763.7M635.6,763.7L634.4,760.2M635.6,763.7L634.0,761.8M634.0,761.8L631.1,760.1M634.0,761.8L632.0,760.2L629.9,758.7L628.3,756.7M628.3,756.7L625.7,755.5M628.3,756.7L627.3,754.3L625.1,752.9L624.3,750.3M624.3,750.3L620.6,748.6M624.3,750.3L623.9,747.5L623.5,744.8L623.8,741.7L624.3,738.6M624.3,738.6L623.7,733.7M624.3,738.6M637.6,765.9L636.4,763.7L635.2,761.5L634.3,759.2L633.8,756.6L633.3,754.2L632.9,751.6L633.1,748.9L633.0,746.3L632.3,744.0M637.6,765.9L636.3,763.8M636.3,763.8L634.3,762.6M636.3,763.8L635.2,761.5L633.6,759.6L632.6,757.2M632.6,757.2L632.8,755.2M632.6,757.2L630.9,755.4L630.3,752.8M630.3,752.8L627.5,751.3M630.3,752.8L628.2,751.2M628.2,751.2L627.1,747.5M628.2,751.2L626.7,749.2L624.6,747.6M624.6,747.6L620.6,745.7M624.6,747.6M638.4,766.6L637.6,764.2L637.0,761.8L635.8,759.5L634.6,757.3L633.1,755.2M633.1,755.2L632.9,750.8M633.1,755.2L633.0,752.6M633.0,752.6L633.8,748.5M633.0,752.6L633.2,749.9L632.3,747.5L630.4,745.5L629.7,743.2L628.2,741.0L628.4,738.3M638.2,765.3L637.6,762.9L637.2,760.4M637.2,760.4L638.0,757.2M637.2,760.4L636.2,758.1L635.8,755.6L635.2,753.2L635.3,750.6L635.6,748.0M635.6,748.0L632.7,745.1M635.6,748.0L635.1,745.6L634.4,743.1M634.4,743.1L634.6,740.6M634.4,743.1M639.0,766.3L638.4,763.9L637.7,761.5L636.8,759.2L636.1,756.7L636.2,754.1L635.4,751.8M635.4,751.8L632.9,748.7M635.4,751.8L635.3,749.2L634.7,746.8M634.7,746.8L632.3,744.2M634.7,746.8L633.1,744.6M633.1,744.6L630.9,741.8M633.1,744.6L633.9,741.9M633.9,741.9L632.5,739.8M633.9,741.9M639.1,766.5L638.8,764.0L638.3,761.5L638.3,759.0M638.3,759.0L636.4,756.5M638.3,759.0L638.6,756.5L637.9,754.0L637.4,751.6L636.6,749.1L636.2,746.7L635.4,744.3L633.9,742.0L633.2,739.6M639.5,766.9L639.4,764.4L639.3,761.9L639.8,759.4L639.4,756.9L639.0,754.4L639.6,751.9L639.6,749.4M639.6,749.4L640.8,747.2M639.6,749.4L639.6,746.9M639.6,746.9L637.8,744.0M639.6,746.9L640.3,744.4L639.4,741.9M639.4,741.9L640.6,739.8M639.4,741.9M639.7,765.1L639.7,762.6L639.7,760.1M639.7,760.1L638.8,756.1M639.7,760.1L639.4,757.6L639.2,755.1M639.2,755.1L637.6,752.3M639.2,755.1L638.4,752.7L638.6,750.2L638.4,747.7L638.6,745.1L639.3,742.6M639.3,742.6L637.2,738.6M639.3,742.6L638.1,740.2L638.1,737.7M639.9,767.7L640.6,765.4L641.6,763.0L642.1,760.6L642.7,758.1L643.3,755.7L643.6,753.2L644.5,750.9M644.5,750.9L643.6,748.4M644.5,750.9L646.3,748.8L645.8,746.1M645.8,746.1L644.4,741.8M645.8,746.1M640.0,768.0L640.6,765.6L641.6,763.3L642.4,760.9M642.4,760.9L643.9,759.5M642.4,760.9L643.7,758.7L644.2,756.2M644.2,756.2L646.3,754.3M644.2,756.2L645.1,753.9L645.8,751.5M645.8,751.5L647.8,749.5M645.8,751.5L646.9,749.2L648.1,747.0M648.1,747.0L650.9,744.7M648.1,747.0L647.5,744.2L648.5,741.8L650.1,739.8M650.1,739.8L649.7,736.3M650.1,739.8M640.5,766.7L641.6,764.4L643.0,762.3L644.2,760.2L645.6,758.0M645.6,758.0L648.2,755.8M645.6,758.0L646.0,755.4L647.8,753.6L648.8,751.3M648.8,751.3L648.5,747.2M648.8,751.3L650.6,749.4L652.0,747.3L653.3,745.2L654.4,742.9L654.0,739.9M640.2,768.1L641.2,765.8L642.1,763.5L642.8,761.1L643.9,758.8M643.9,758.8L644.1,756.7M643.9,758.8L644.5,756.3L645.6,754.1L647.5,752.2L648.3,749.8M648.3,749.8L648.7,744.9M648.3,749.8L648.9,747.4L649.0,744.7M649.0,744.7L648.8,741.5M649.0,744.7L649.4,742.2M649.4,742.2L649.2,739.6M649.4,742.2M640.8,767.4L642.4,765.4L644.0,763.5L645.3,761.3L646.2,758.9L646.8,756.4M646.8,756.4L646.7,753.4M646.8,756.4L647.6,754.0M647.6,754.0L647.9,750.6M647.6,754.0L648.0,751.4L648.3,748.8L648.3,746.1L649.8,744.0M640.8,767.8L642.5,766.0L644.3,764.1L646.1,762.5M646.1,762.5L648.0,761.4M646.1,762.5L647.7,760.6L649.3,758.6L651.1,756.8M651.1,756.8L652.3,752.5M651.1,756.8L653.1,755.3M653.1,755.3L653.8,751.1M653.1,755.3L654.1,752.8L655.7,750.9L656.8,748.5M656.8,748.5L659.4,747.1M656.8,748.5M641.2,767.6L642.9,765.8L644.8,764.1L646.4,762.2L647.8,760.1M647.8,760.1L650.1,758.6M647.8,760.1L649.9,758.7L651.2,756.5M651.2,756.5L655.2,754.5M651.2,756.5L653.2,754.9M653.2,754.9L656.8,752.7M653.2,754.9L655.9,754.0M655.9,754.0L657.4,751.5M655.9,754.0L657.5,752.1M657.5,752.1L659.8,750.8M657.5,752.1L658.4,749.5L659.1,746.7L660.2,744.4M660.2,744.4L662.0,743.5M660.2,744.4M642.1,767.3L644.0,765.6L645.6,763.7L647.3,761.8M647.3,761.8L648.7,757.6M647.3,761.8L649.6,760.6L652.0,759.7L654.6,759.0L656.8,757.7M656.8,757.7L658.9,753.6M656.8,757.7L659.2,756.9L660.9,754.9L663.3,754.0L665.3,752.4M665.3,752.4L668.2,748.7M665.3,752.4L666.7,750.0M642.3,767.4L644.3,765.9L646.4,764.5L648.1,762.7L650.5,761.7M650.5,761.7L654.7,761.4M650.5,761.7L652.4,760.1L655.0,759.4L656.9,757.7L658.2,755.3L660.9,754.8L662.9,753.2M662.9,753.2L665.4,752.5M662.9,753.2M641.8,768.0L643.9,766.7M643.9,766.7L647.6,766.6M643.9,766.7L646.1,765.5M646.1,765.5L648.8,762.0M646.1,765.5L648.1,764.0L650.3,762.7L652.0,760.8L654.4,759.8L656.6,758.7L658.6,757.1L661.0,756.2M661.0,756.2L665.3,755.1M661.0,756.2L663.3,755.2L665.8,754.5M641.2,768.6L643.4,767.5L645.6,766.2M645.6,766.2L647.7,766.1M645.6,766.2L647.6,764.7L649.5,763.1M649.5,763.1L651.7,762.8M649.5,763.1L651.7,761.8L653.7,760.3L656.4,759.9L658.2,758.1L660.6,757.2M660.6,757.2L664.9,756.2M660.6,757.2L662.1,754.9M662.1,754.9L666.0,754.3M662.1,754.9L663.7,752.8L665.8,751.4M665.8,751.4L668.7,751.1M665.8,751.4M642.3,768.2L644.5,767.1L646.7,765.8L648.9,764.6M648.9,764.6L651.9,764.1M648.9,764.6L651.2,763.7M651.2,763.7L655.9,763.2M651.2,763.7L653.1,761.8L655.3,760.8L657.7,759.9M657.7,759.9L661.0,757.0M657.7,759.9L660.5,759.9L662.8,758.9L665.2,758.3L667.6,757.4M667.6,757.4L668.9,755.7M667.6,757.4M641.2,768.9L643.5,767.7L645.7,766.5L648.1,765.9L650.5,765.0L652.8,764.0L654.7,762.2M654.7,762.2L657.4,758.1M654.7,762.2L656.7,760.6L659.4,760.3L661.7,759.4L664.2,759.0M643.4,768.6L645.8,767.6L648.0,766.4L650.5,765.9L652.6,764.4L654.9,763.4L657.1,762.3M657.1,762.3L659.9,758.8M657.1,762.3L659.2,760.8L661.8,760.5M661.8,760.5L665.9,760.7M661.8,760.5L663.8,758.8M643.5,769.2L646.0,768.7L648.5,768.5L651.0,768.3L653.5,768.7L656.0,768.2L658.5,767.5L661.0,767.7M661.0,767.7L665.4,768.9M661.0,767.7L663.5,767.6M663.5,767.6L665.9,768.1M663.5,767.6L665.9,766.9L668.5,768.1M668.5,768.1L671.2,768.7M668.5,768.1M643.2,769.3L645.7,769.4M645.7,769.4L649.6,770.6M645.7,769.4L648.2,769.7L650.6,770.4M650.6,770.4L654.6,769.2M650.6,770.4L653.0,771.3L655.6,771.3L657.9,772.5M657.9,772.5L662.5,771.2M657.9,772.5L660.5,772.1M660.5,772.1L662.9,773.3M660.5,772.1L662.9,772.7L665.5,772.5L668.0,772.3M668.0,772.3L671.0,770.7M668.0,772.3" stroke="#9a9a9a" stroke-width="0.9" opacity="0.35" fill="none" stroke-linecap="round"/>
<path d="M640,769 L630,759 L632,757 Z" fill="#bbb" opacity="0.6"/>
<circle cx="639.5" cy="769.5" r="5" fill="url(#ps16_5)"/>
</g>
<circle cx="642" cy="769" r="32.5" fill="none" stroke="#151515" stroke-width="1" opacity="0.85"/>
</svg></body></html>
